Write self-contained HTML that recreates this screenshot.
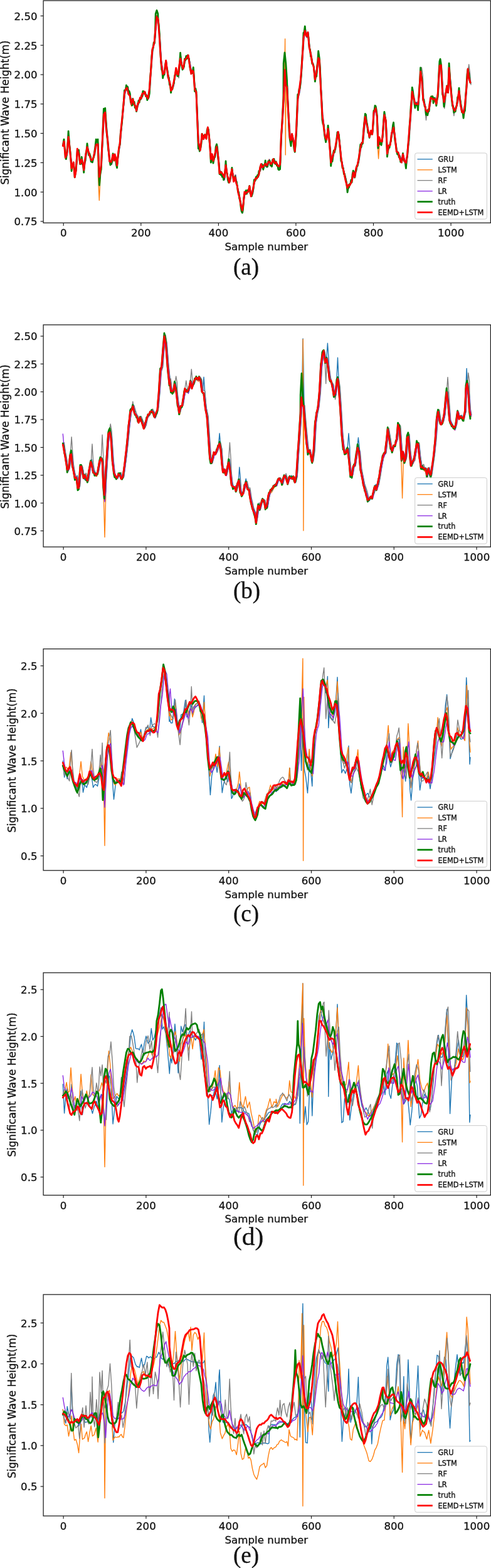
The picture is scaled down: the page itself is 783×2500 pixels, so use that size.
<!DOCTYPE html><html><head><meta charset="utf-8"><style>html,body{margin:0;padding:0;background:#fff}svg{display:block}</style></head><body><svg width="783" height="2500" viewBox="0 0 783 2500">
<rect width="783" height="2500" fill="#fff"/>
<clipPath id="ca"><rect x="69.1" y="1.0" width="713.3" height="354.4"/></clipPath>
<g clip-path="url(#ca)">
<polyline points="100.9,229.8 102.6,228.3 104.9,249.9 107.2,245.9 109.7,216.2 112.4,244.8 114.7,267.8 117.7,259.8 119.8,280.5 121.6,270.3 123.9,238.4 126.2,243.2 128.5,262.4 130.8,251.3 132.5,262.0 134.3,268.0 136.6,251.9 139.6,231.7 142.3,247.8 144.6,251.5 146.9,258.9 149.2,251.0 151.5,242.0 153.8,228.1 156.6,227.6 159.1,283.7 161.9,263.7 163.9,221.4 166.0,180.4 168.3,182.7 169.9,200.9 172.2,226.8 175.2,255.0 178.0,261.1 180.7,247.7 182.6,255.1 183.7,247.2 185.4,253.5 187.2,263.4 189.5,240.4 191.7,228.6 194.0,201.3 196.3,181.0 199.1,150.8 200.9,144.6 203.2,138.8 205.5,147.4 207.8,152.5 210.1,166.4 212.4,160.8 214.7,166.7 216.4,169.0 218.2,176.2 220.5,166.9 222.2,161.7 223.9,158.1 225.7,155.0 227.4,151.3 229.7,147.8 231.4,148.4 233.1,150.0 234.8,152.5 236.6,157.1 238.9,144.3 241.2,110.3 243.5,79.3 245.2,73.2 246.9,67.6 248.7,45.0 250.4,25.7 252.7,32.4 255.0,60.2 257.3,95.5 260.3,118.3 262.6,114.4 265.3,100.4 267.6,114.3 269.5,124.5 271.3,132.6 273.2,141.1 275.0,138.1 276.7,137.9 279.0,124.5 281.3,109.8 283.0,116.7 284.7,122.4 286.5,107.7 288.2,92.4 290.5,105.4 292.8,109.8 295.1,98.3 297.4,92.3 299.1,92.8 300.8,90.8 303.1,100.7 305.4,114.0 307.2,115.1 308.9,111.4 311.2,143.2 313.5,150.5 315.3,191.8 316.9,227.5 319.9,238.0 322.7,214.5 325.0,219.8 327.3,215.3 329.6,218.1 331.9,203.4 334.2,219.2 336.9,252.3 338.8,249.7 340.6,256.9 343.4,249.2 346.1,232.1 348.4,249.7 350.7,275.3 352.8,276.0 354.9,279.0 356.6,280.0 358.3,284.1 360.6,263.3 362.9,281.6 364.6,286.5 366.3,290.1 368.4,280.2 370.5,271.6 373.2,288.7 375.5,279.8 377.2,289.8 379.0,298.1 380.7,307.9 382.4,313.1 384.7,327.1 387.0,339.5 388.8,321.2 390.5,308.3 392.2,308.5 393.9,309.3 396.2,303.7 398.5,298.0 400.8,310.0 403.1,309.7 405.9,291.2 408.0,284.9 410.0,281.3 411.8,277.9 413.5,274.2 415.2,270.0 416.9,263.1 418.7,266.9 420.4,267.3 422.1,261.9 423.8,259.9 426.1,266.1 427.9,260.9 429.6,254.2 431.3,258.6 433.0,263.3 434.8,259.4 436.5,256.0 438.2,257.1 439.9,257.0 441.5,261.1 443.2,263.4 445.5,267.7 447.2,260.8 449.0,216.6 451.3,183.8 453.6,140.9 454.7,111.3 456.3,132.1 458.2,138.7 460.5,183.0 462.8,219.1 464.6,224.6 466.2,214.5 468.5,222.6 470.8,238.4 473.1,208.3 475.4,155.6 477.7,144.8 480.0,128.9 482.3,98.2 484.6,58.4 486.9,47.5 489.2,59.8 491.5,53.7 493.8,75.3 496.1,86.7 498.4,99.6 500.7,108.1 503.0,124.3 505.3,115.6 508.3,91.9 509.9,98.3 512.2,139.7 514.5,183.2 516.8,201.8 519.1,219.3 521.4,219.2 523.7,205.4 526.0,228.7 528.3,258.4 530.6,252.7 532.9,241.8 535.2,235.1 537.5,221.2 539.8,211.3 542.1,227.7 544.4,252.5 546.7,264.0 549.0,274.9 551.3,283.5 553.0,292.9 554.7,300.2 556.5,298.4 558.2,295.4 559.9,291.7 561.6,287.2 563.9,275.0 566.2,280.1 568.5,269.0 570.2,263.7 572.0,259.2 573.7,244.5 575.4,234.4 577.1,229.9 578.9,226.1 581.2,203.7 583.0,184.9 585.1,195.9 587.4,210.1 589.7,216.7 592.0,210.5 594.3,212.2 596.6,182.3 599.6,170.4 601.9,190.0 603.5,229.5 605.3,221.1 607.6,228.8 609.9,226.1 611.7,205.1 613.5,180.5 615.8,193.3 618.1,242.3 620.5,233.3 622.8,227.7 625.1,215.2 628.2,199.5 630.5,221.3 632.9,242.3 635.7,246.3 638.0,250.0 640.8,255.7 643.1,249.3 645.5,255.4 648.0,260.6 650.1,244.8 652.5,220.2 654.8,187.7 657.9,146.3 660.2,155.8 662.5,167.7 664.9,162.7 667.2,169.5 668.8,148.4 671.2,117.5 673.5,129.8 675.4,157.0 677.7,165.1 680.1,177.2 682.4,181.5 684.7,172.8 687.1,158.7 689.4,154.6 691.7,160.5 694.1,155.4 696.4,163.2 698.8,148.8 701.6,101.7 703.9,106.9 706.2,143.2 708.6,164.7 710.9,151.2 713.2,140.9 715.1,143.2 716.7,109.8 718.6,129.2 721.0,159.3 723.3,171.3 725.6,176.7 728.0,168.8 730.3,159.1 732.6,145.7 735.0,165.2 737.3,175.1 739.7,183.7 742.0,170.1 744.3,138.9 746.7,113.3 748.3,122.7 750.6,133.3" fill="none" stroke="#1f77b4" stroke-width="1.4" stroke-linejoin="round" stroke-linecap="round"/>
<polyline points="100.3,232.6 102.0,226.3 104.3,247.7 106.6,247.8 109.1,216.1 111.8,242.3 114.1,267.2 117.1,259.2 119.2,281.9 121.0,270.3 123.3,241.9 125.6,243.1 127.9,262.5 130.2,254.5 131.9,261.6 133.7,270.5 136.0,253.6 139.0,231.7 141.7,247.4 144.0,250.9 146.3,256.8 148.6,249.5 150.9,245.0 153.2,229.0 156.0,229.2 156.5,281.5 158.3,319.5 160.1,281.5 161.3,263.8 163.4,222.1 165.4,182.3 167.7,182.0 169.3,201.4 171.6,226.9 174.6,254.5 177.4,261.9 180.1,249.9 182.0,255.7 183.1,247.0 184.8,256.4 186.6,262.7 188.9,240.3 191.1,226.0 193.4,202.4 195.7,177.6 198.5,150.9 200.3,143.7 202.6,138.0 204.9,146.8 207.2,152.3 209.5,169.3 211.8,160.2 214.1,165.0 215.8,170.4 217.6,174.0 219.9,165.8 221.6,162.2 223.3,158.4 225.1,155.8 226.8,151.8 229.1,144.5 230.8,150.6 232.5,151.2 234.2,153.8 236.0,156.0 238.3,144.0 240.6,111.9 242.9,79.3 244.6,72.6 246.3,65.2 248.1,47.4 249.8,24.1 252.1,32.4 254.4,59.3 256.7,96.0 259.7,119.0 262.0,113.8 264.7,97.2 267.0,115.0 268.9,125.2 270.7,133.8 272.6,141.4 274.4,140.3 276.1,135.2 278.4,123.2 280.7,111.5 282.4,117.6 284.1,121.7 285.9,107.5 287.6,90.8 289.9,105.8 292.2,108.3 294.5,98.4 296.8,92.9 298.5,91.3 300.2,91.6 302.5,101.6 304.8,114.4 306.6,114.8 308.3,113.8 310.6,145.2 312.9,151.0 314.7,189.1 316.3,227.6 319.3,237.3 322.1,215.5 324.4,219.5 326.7,216.8 329.0,218.2 331.3,203.8 333.6,219.1 336.3,254.6 338.2,247.8 340.0,253.8 342.8,247.3 345.5,231.3 347.8,251.9 350.1,272.5 352.2,275.1 354.3,276.8 356.0,281.5 357.7,284.0 360.0,261.5 362.3,281.3 364.0,286.6 365.7,290.9 367.8,278.8 369.9,270.9 372.6,288.7 374.9,278.8 376.6,288.6 378.4,298.9 380.1,306.5 381.8,315.8 384.1,327.2 386.4,337.8 388.1,322.0 389.9,307.0 391.6,307.2 393.3,306.4 395.6,304.0 397.9,297.7 400.2,311.7 402.5,308.5 405.3,288.1 407.4,286.2 409.4,283.2 411.1,277.7 412.9,275.9 414.6,268.5 416.3,265.4 418.1,263.8 419.8,267.2 421.5,265.0 423.2,261.0 425.5,265.7 427.2,261.1 429.0,253.9 430.7,259.2 432.4,265.7 434.1,260.9 435.9,253.4 437.6,256.5 439.2,259.2 440.9,259.2 442.6,263.2 444.9,268.1 446.6,260.0 448.4,217.9 450.7,185.2 453.0,142.5 453.8,118.3 454.6,62.0 455.3,247.0 456.1,133.4 457.6,136.7 459.9,185.1 462.2,218.4 464.0,226.0 465.6,217.2 467.9,224.7 470.2,238.0 472.5,206.6 474.8,157.6 477.1,145.7 479.4,128.3 481.7,97.2 484.0,58.7 486.3,45.9 488.6,58.2 490.9,52.5 493.2,72.6 495.5,87.5 497.8,100.6 500.1,106.8 502.4,124.3 504.7,118.5 507.7,91.2 509.3,96.7 511.6,141.2 513.9,182.2 516.2,201.6 518.5,221.4 520.8,221.8 523.1,208.1 525.4,226.2 527.7,255.9 530.0,251.7 532.3,241.4 534.6,238.4 536.9,222.2 539.2,211.2 541.5,228.0 543.8,253.8 546.1,263.8 548.4,277.6 550.7,286.7 552.4,293.9 554.1,302.5 555.9,298.8 557.6,294.8 559.3,290.2 561.0,286.6 563.3,275.0 565.6,278.9 567.9,270.5 569.6,262.5 571.4,255.8 573.1,245.3 574.8,233.1 576.5,229.7 578.3,224.7 580.6,201.1 582.4,183.8 584.5,195.1 586.8,208.7 589.1,217.2 591.4,208.5 593.7,211.6 596.0,183.0 599.0,173.0 601.3,188.0 601.8,225.9 603.6,253.0 605.4,225.9 607.0,227.7 609.3,223.4 611.1,202.0 612.9,181.4 615.2,193.3 617.5,241.7 619.9,232.1 622.2,230.8 624.5,216.2 627.6,199.6 629.9,221.9 632.3,241.8 635.1,245.4 637.4,248.5 640.2,256.5 642.5,247.3 644.9,256.2 647.4,262.0 649.5,245.3 651.9,220.2 654.2,185.4 657.3,147.9 659.6,155.3 661.9,168.9 664.3,163.1 666.6,167.5 668.2,147.8 670.6,115.3 672.9,129.7 674.8,156.4 677.1,166.9 679.5,176.6 681.8,179.8 684.1,173.4 686.5,159.4 688.8,152.5 691.1,162.8 693.5,156.9 695.8,162.9 698.2,148.7 701.0,103.5 703.3,106.8 705.6,144.3 708.0,163.2 710.3,149.8 712.6,139.0 714.5,144.6 716.1,111.3 718.0,131.1 720.4,160.1 722.7,169.7 725.0,178.9 727.4,171.6 729.7,157.9 732.0,147.3 734.4,166.6 736.7,175.6 739.1,182.7 741.4,169.7 743.7,140.4 746.1,111.7 747.7,122.6 750.0,132.7" fill="none" stroke="#ff7f0e" stroke-width="1.4" stroke-linejoin="round" stroke-linecap="round"/>
<polyline points="101.3,233.4 103.0,230.1 105.3,251.6 107.6,244.7 110.1,218.1 112.8,243.9 115.1,267.3 118.1,258.7 120.2,279.6 122.0,271.6 124.3,239.5 126.6,244.0 128.9,260.5 131.2,251.6 132.9,262.4 134.7,269.2 137.0,253.5 140.0,234.8 142.7,245.9 145.0,249.2 147.3,259.2 149.6,251.5 151.9,244.9 154.2,229.7 157.0,230.2 159.5,285.0 162.3,263.7 164.4,221.8 166.4,182.4 168.7,182.8 170.3,202.0 172.6,224.0 175.6,255.6 178.4,262.4 181.1,249.2 183.0,255.5 184.1,249.4 185.8,254.3 187.6,261.2 189.9,241.1 192.1,229.5 194.4,201.5 196.7,178.1 199.5,148.1 201.3,142.2 203.6,137.4 205.9,147.9 208.2,153.6 210.5,167.6 212.8,160.8 215.1,165.1 216.8,169.7 218.6,176.4 220.9,166.2 222.6,161.5 224.3,157.4 226.1,156.9 227.8,153.1 230.1,147.9 231.8,148.2 233.5,152.4 235.2,156.3 237.0,157.2 239.3,145.0 241.6,109.3 243.9,81.9 245.6,71.5 247.3,66.8 249.1,44.4 250.8,27.2 253.1,33.5 255.4,62.4 257.7,98.4 260.7,122.0 263.0,115.6 265.7,101.5 268.0,116.5 269.9,123.9 271.7,135.9 273.6,142.5 275.4,138.8 277.1,135.4 279.4,123.9 281.7,109.5 283.4,118.5 285.1,124.3 286.9,105.6 288.6,89.6 290.9,106.3 293.2,107.0 295.5,97.3 297.8,93.9 299.5,90.8 301.2,91.0 303.5,103.4 305.8,115.2 307.6,113.6 309.3,114.8 311.6,146.7 313.9,151.6 315.7,192.1 317.3,227.7 320.3,238.1 323.1,218.1 325.4,221.8 327.7,215.4 330.0,218.0 332.3,204.7 334.6,222.4 337.3,253.7 339.2,249.0 341.0,257.1 343.8,247.1 346.5,233.3 348.8,250.4 351.1,274.4 353.2,277.9 355.3,277.6 357.0,284.1 358.7,283.7 361.0,262.9 363.3,281.2 365.0,284.4 366.7,290.5 368.8,280.9 370.9,271.6 373.6,288.9 375.9,278.8 377.6,289.7 379.4,300.7 381.1,305.8 382.8,317.0 385.1,325.6 387.4,339.2 389.1,322.0 390.9,308.3 392.6,308.2 394.3,306.7 396.6,304.8 398.9,299.3 401.2,311.6 403.5,308.7 406.3,290.4 408.4,286.9 410.4,282.4 412.1,281.6 413.9,274.6 415.6,272.3 417.3,266.5 419.1,266.0 420.8,268.4 422.5,264.5 424.2,260.8 426.5,266.3 428.2,260.7 430.0,255.0 431.7,259.4 433.4,266.9 435.1,259.6 436.9,255.2 438.6,257.1 440.2,260.5 441.9,260.8 443.6,262.8 445.9,266.1 447.6,259.3 449.4,217.1 451.7,183.2 454.0,142.0 455.1,112.3 456.7,133.8 458.6,136.7 460.9,184.2 463.2,217.2 465.0,226.1 466.6,216.3 468.9,225.1 471.2,238.5 473.5,208.9 475.8,155.7 478.1,147.4 480.4,129.8 482.7,95.1 485.0,61.7 487.3,46.6 489.6,59.7 491.9,51.8 494.2,75.6 496.5,86.1 498.8,100.4 501.1,108.0 503.4,125.4 505.7,116.8 508.7,89.4 510.3,98.9 512.6,141.4 514.9,182.9 517.2,202.6 519.5,223.0 521.8,219.8 524.1,205.3 526.4,228.6 528.7,256.4 531.0,254.4 533.3,241.8 535.6,238.2 537.9,221.5 540.2,213.2 542.5,229.5 544.8,253.9 547.1,265.3 549.4,275.6 551.7,284.0 553.4,291.8 555.1,303.2 556.9,296.9 558.6,294.5 560.3,290.5 562.0,288.4 564.3,276.5 566.6,282.6 568.9,269.2 570.6,263.1 572.4,258.7 574.1,247.6 575.8,236.9 577.5,229.6 579.3,227.5 581.6,204.9 583.4,186.5 585.5,194.3 587.8,209.2 590.1,217.8 592.4,211.2 594.7,210.0 597.0,181.6 600.0,172.8 602.3,190.1 603.9,230.6 605.7,219.9 608.0,227.7 610.3,223.0 612.1,203.0 613.9,182.5 616.2,195.9 618.5,243.9 620.9,233.8 623.2,228.4 625.5,214.7 628.6,202.3 630.9,222.3 633.3,239.8 636.1,247.3 638.4,250.9 641.2,259.7 643.5,248.4 645.9,255.7 648.4,261.9 650.5,246.4 652.9,222.0 655.2,189.6 658.3,148.4 660.6,154.4 662.9,166.9 665.3,165.6 667.6,168.3 669.2,149.6 670.6,120.2 672.4,107.5 674.2,120.2 675.8,156.6 677.7,174.7 679.5,191.6 681.3,174.7 682.8,181.3 685.1,174.1 687.5,158.4 689.8,153.2 692.1,162.3 694.5,155.2 696.8,164.5 699.2,150.2 702.0,103.5 704.3,104.0 706.6,143.5 706.9,161.4 708.7,173.0 710.5,161.4 711.3,148.5 713.6,141.3 715.5,144.6 717.1,110.8 719.0,132.5 721.4,159.9 722.1,171.7 723.9,184.6 725.7,171.7 726.0,176.8 728.4,170.4 730.7,161.5 733.0,146.7 735.4,165.5 737.7,175.8 740.1,183.0 742.4,172.4 744.7,139.8 745.9,116.7 747.7,102.8 749.5,116.7 751.0,135.0" fill="none" stroke="#808080" stroke-width="1.4" stroke-linejoin="round" stroke-linecap="round"/>
<polyline points="100.9,231.8 102.6,228.8 104.9,248.3 107.2,247.8 109.7,216.1 112.4,244.3 114.7,265.2 117.7,260.7 119.8,279.2 121.6,272.0 123.9,241.0 126.2,244.7 128.5,261.9 130.8,254.2 132.5,262.7 134.3,267.6 136.6,253.0 139.6,234.9 142.3,246.9 144.6,250.4 146.9,256.8 149.2,252.2 151.5,242.2 153.8,229.6 156.6,228.8 156.7,270.7 158.5,295.0 160.3,270.7 161.9,261.5 163.9,221.1 166.0,181.8 168.3,181.1 169.9,203.7 172.2,226.8 175.2,254.5 178.0,262.3 180.7,246.8 182.6,253.7 183.7,248.9 185.4,256.3 187.2,263.2 189.5,243.2 191.7,228.9 194.0,201.5 196.3,180.2 199.1,150.9 200.9,142.2 203.2,137.9 205.5,145.9 207.8,150.4 210.1,167.7 212.4,161.5 214.7,167.2 216.4,168.8 218.2,174.7 220.5,167.3 222.2,163.0 223.9,158.7 225.7,154.2 227.4,152.2 229.7,145.1 231.4,149.4 233.1,152.2 234.8,153.6 236.6,157.4 238.9,142.2 241.2,110.2 243.5,80.5 245.2,72.1 246.9,65.6 248.7,46.3 250.4,25.1 252.7,33.5 255.0,58.9 257.3,96.1 260.3,117.9 262.6,114.7 265.3,98.2 267.6,114.7 269.5,125.1 271.3,131.6 273.2,144.3 275.0,140.4 276.7,137.9 279.0,123.7 281.3,110.6 283.0,115.7 284.7,121.4 286.5,105.3 288.2,90.1 290.5,105.0 292.8,107.4 295.1,98.1 297.4,93.1 299.1,91.9 300.8,89.1 303.1,100.2 305.4,115.1 307.2,114.4 308.9,112.3 311.2,145.3 313.5,150.9 315.3,190.0 316.9,227.2 319.9,237.7 322.7,215.4 325.0,221.5 327.3,215.7 329.6,216.7 331.9,204.5 334.2,219.1 336.9,253.9 338.8,249.5 340.6,255.3 343.4,249.7 346.1,231.2 348.4,250.4 350.7,272.4 352.8,274.3 354.9,279.4 356.6,280.0 358.3,286.7 360.6,262.3 362.9,281.2 364.6,283.5 366.3,291.2 368.4,281.6 370.5,269.9 373.2,286.3 375.5,279.2 377.2,289.7 379.0,297.4 380.7,308.0 382.4,314.9 384.7,327.1 387.0,337.0 388.8,323.5 390.5,307.8 392.2,308.5 393.9,307.7 396.2,305.2 398.5,300.1 400.8,311.5 403.1,307.4 405.9,288.6 408.0,285.0 410.0,281.5 411.8,281.0 413.5,275.1 415.2,271.5 416.9,263.4 418.7,266.0 420.4,265.8 422.1,262.6 423.8,260.7 426.1,267.1 427.9,262.6 429.6,254.3 431.3,259.0 433.0,262.8 434.8,258.8 436.5,256.9 438.2,257.2 439.9,258.6 441.5,259.8 443.2,263.0 445.5,267.4 447.2,258.6 449.0,216.8 451.3,182.7 453.6,143.6 454.7,111.1 456.3,132.3 458.2,136.9 460.5,183.2 462.8,219.0 464.6,226.2 466.2,215.2 468.5,222.4 470.8,238.2 473.1,208.5 475.4,156.5 477.7,146.4 480.0,127.8 482.3,97.1 484.6,60.0 486.9,48.7 489.2,59.3 491.5,51.9 493.8,74.7 496.1,89.0 498.4,98.9 500.7,107.4 503.0,122.6 505.3,117.0 508.3,92.3 509.9,96.1 512.2,140.0 514.5,184.1 516.8,199.1 519.1,219.3 521.4,220.8 523.7,208.6 526.0,228.9 528.3,256.8 530.6,253.9 532.9,242.6 535.2,237.1 537.5,220.2 539.8,210.4 542.1,228.3 544.4,253.6 546.7,263.4 549.0,274.6 551.3,283.7 553.0,294.3 554.7,302.5 556.5,297.8 558.2,294.7 559.9,291.6 561.6,286.2 563.9,276.0 566.2,280.3 568.5,270.3 570.2,262.0 572.0,258.7 573.7,244.7 575.4,234.9 577.1,231.3 578.9,223.8 581.2,202.2 583.0,182.1 585.1,195.4 587.4,209.1 589.7,217.8 592.0,209.1 594.3,213.0 596.6,182.4 599.6,172.5 601.9,188.0 603.5,228.4 605.3,221.2 607.6,226.2 609.9,224.9 611.7,202.2 613.5,182.7 615.8,195.0 618.1,244.7 620.5,232.6 622.8,227.8 625.1,214.7 628.2,202.7 630.5,221.1 632.9,240.6 635.7,245.0 638.0,248.5 640.8,257.2 643.1,247.0 645.5,254.6 648.0,262.6 650.1,246.0 652.5,218.8 654.8,187.5 657.9,147.3 660.2,155.2 662.5,166.5 664.9,162.8 667.2,168.9 668.8,149.8 671.2,116.8 673.5,131.0 675.4,157.0 677.7,166.7 680.1,178.8 682.4,180.9 684.7,174.4 687.1,159.2 689.4,153.0 691.7,160.8 694.1,157.9 696.4,164.6 698.8,150.0 701.6,101.5 703.9,104.0 706.2,145.5 708.6,163.3 710.9,148.5 713.2,141.9 715.1,143.9 716.7,111.3 718.6,131.3 721.0,160.5 723.3,171.6 725.6,176.5 728.0,169.6 730.3,160.2 732.6,147.0 735.0,165.9 737.3,176.2 739.7,182.7 742.0,171.4 744.3,140.3 746.7,111.4 748.3,122.3 750.6,131.9" fill="none" stroke="#8a2be2" stroke-width="1.4" stroke-linejoin="round" stroke-linecap="round"/>
<polyline points="100.3,232.0 102.0,222.1 103.2,235.9 104.3,251.0 105.4,253.6 106.6,244.1 107.8,232.1 109.1,209.1 110.4,228.4 111.8,241.0 112.9,253.1 114.1,272.7 115.1,263.2 116.1,263.7 117.1,261.3 118.2,268.3 119.2,282.8 121.0,271.3 122.2,256.9 123.3,239.7 124.4,242.4 125.6,239.1 126.8,254.1 127.9,261.7 129.1,259.2 130.2,250.2 131.4,262.0 132.5,263.2 133.7,275.0 134.8,259.0 136.0,256.4 137.0,244.3 138.0,239.9 139.0,229.0 140.3,239.6 141.7,247.4 142.8,244.9 144.0,249.2 145.2,257.9 146.3,258.0 147.4,258.7 148.6,252.9 149.8,249.3 150.9,240.9 152.1,232.0 153.2,222.2 154.6,226.0 156.0,222.1 157.2,261.4 158.5,295.3 159.9,277.1 161.3,270.2 162.3,241.9 163.4,223.3 164.4,196.3 165.4,173.3 166.6,178.6 167.7,172.4 169.3,197.3 170.4,214.7 171.6,224.4 172.6,238.5 173.6,243.6 174.6,254.2 176.0,263.0 177.4,260.9 178.8,257.3 180.1,244.9 182.0,251.6 183.1,249.7 184.3,251.8 185.4,262.5 186.6,267.6 187.8,250.7 188.9,245.6 190.0,233.6 191.1,230.9 192.2,212.6 193.4,204.7 194.6,193.8 195.7,177.9 197.1,164.6 198.5,143.9 200.3,143.5 201.4,136.0 202.6,138.3 203.8,138.8 204.9,149.9 206.1,145.3 207.2,148.9 208.3,162.2 209.5,166.1 210.7,168.0 211.8,157.3 212.9,166.0 214.1,162.4 215.3,171.7 216.4,169.9 217.6,177.7 218.8,168.7 219.9,167.4 221.0,160.4 222.2,163.2 223.3,157.2 224.5,158.2 225.6,152.2 226.8,153.7 227.9,145.3 229.1,146.6 230.2,148.2 231.4,147.6 232.5,153.4 233.7,152.2 234.8,159.6 236.0,157.0 237.2,155.3 238.3,149.0 239.4,124.5 240.6,112.2 241.8,90.6 242.9,80.5 244.0,76.8 245.2,67.6 246.3,69.2 247.5,49.6 248.2,22.0 250.0,16.5 251.8,22.0 252.1,30.9 253.2,39.2 254.4,55.6 255.6,82.7 256.7,97.1 257.7,110.9 258.7,113.2 259.7,124.6 260.9,117.0 262.0,119.1 263.4,104.5 264.7,97.5 265.9,108.0 267.0,112.1 268.1,123.9 269.2,123.6 270.4,135.3 271.5,135.3 272.6,147.9 273.8,139.9 274.9,142.3 276.1,135.9 277.2,133.7 278.4,121.7 279.6,117.9 280.7,111.8 281.8,112.6 283.0,121.4 284.1,121.1 285.3,114.4 286.4,102.0 287.6,84.1 288.8,98.7 289.9,104.8 291.0,111.1 292.2,107.9 293.4,106.7 294.5,93.9 295.6,96.1 296.8,89.4 297.9,93.7 299.1,88.1 300.2,92.4 301.4,93.8 302.5,104.6 303.6,111.5 304.8,112.4 306.0,116.7 307.1,114.9 308.3,107.3 309.5,124.7 310.6,145.6 311.8,141.1 312.9,145.9 314.7,190.7 316.3,237.0 317.3,232.9 318.3,241.0 319.3,238.3 320.7,231.1 322.1,213.3 323.2,219.0 324.4,218.1 325.5,215.7 326.7,217.9 327.9,215.7 329.0,221.0 330.1,207.9 331.3,203.9 332.5,206.8 333.6,220.2 335.0,236.2 336.3,259.2 338.2,247.1 340.0,260.2 341.4,252.2 342.8,249.8 344.1,234.5 345.5,229.9 346.6,234.9 347.8,252.6 349.0,259.8 350.1,277.6 351.2,273.7 352.2,279.0 353.2,274.3 354.3,282.1 355.4,278.0 356.6,286.8 357.7,283.5 358.9,274.1 360.0,257.0 361.1,273.0 362.3,277.4 363.4,286.8 364.6,291.1 365.7,289.5 366.8,287.5 367.8,278.0 368.8,278.1 369.9,267.3 371.2,280.2 372.6,286.3 373.8,284.8 374.9,281.1 376.1,288.6 377.2,289.7 378.4,297.1 379.5,306.1 380.7,306.5 381.8,316.8 382.9,319.7 384.1,330.3 385.2,336.9 386.4,339.3 387.6,332.8 388.7,316.3 389.9,309.2 391.0,309.6 392.2,303.6 393.3,309.2 394.5,303.3 395.6,305.5 396.8,302.7 397.9,296.3 399.0,308.4 400.2,308.4 401.4,312.8 402.5,307.8 403.9,301.1 405.3,286.7 406.3,288.3 407.4,287.3 408.4,282.0 409.4,284.3 410.6,279.3 411.7,282.0 412.9,272.7 414.0,273.0 415.2,265.2 416.3,265.5 417.5,261.6 418.6,263.9 419.8,270.3 420.9,262.9 422.1,263.2 423.2,255.9 424.4,264.9 425.5,265.9 426.7,265.4 427.8,256.8 429.0,257.1 430.1,256.1 431.3,263.8 432.4,263.2 433.6,265.0 434.7,254.6 435.9,257.5 437.0,253.4 438.1,259.9 439.2,261.4 440.4,257.9 441.5,264.0 442.6,262.9 443.8,270.1 444.9,270.9 446.6,269.8 448.4,218.4 449.5,202.8 450.7,179.4 451.9,157.1 452.2,100.8 454.0,84.0 455.8,100.8 457.6,128.6 458.8,161.2 459.9,182.2 461.0,208.1 462.2,221.5 464.0,232.9 465.6,214.5 466.8,223.2 467.9,226.8 469.0,237.4 470.2,242.3 471.4,229.0 472.5,211.1 473.6,178.7 474.8,150.6 476.0,150.2 477.1,141.7 478.2,140.8 479.4,128.7 480.5,117.8 481.7,93.2 482.9,78.4 484.0,52.4 485.1,50.9 486.3,41.8 487.5,55.0 488.6,56.2 489.8,58.1 490.9,53.2 492.0,59.8 493.2,75.9 494.4,79.0 495.5,89.9 496.6,91.6 497.8,101.6 499.0,101.5 500.1,105.2 501.2,114.9 502.4,130.0 503.5,121.2 504.7,121.7 505.7,105.6 506.7,97.4 507.7,81.5 509.3,93.0 510.5,111.0 511.6,142.2 512.8,160.1 513.9,191.0 515.0,197.6 516.2,199.0 517.4,214.6 518.5,220.4 519.6,226.5 520.8,219.5 522.0,214.4 523.1,200.1 524.2,211.0 525.4,228.7 526.5,241.1 527.7,264.7 528.9,255.0 530.0,257.3 531.1,245.6 532.3,240.1 533.5,242.7 534.6,236.1 535.8,231.6 536.9,221.9 538.0,211.0 539.2,210.9 540.4,214.7 541.5,229.4 542.6,238.8 543.8,256.7 545.0,258.1 546.1,267.9 547.2,267.7 548.4,277.6 549.5,277.4 550.7,283.5 551.8,288.3 553.0,295.3 554.1,306.5 555.3,298.8 556.4,299.0 557.6,293.4 558.7,293.8 559.9,286.8 561.0,290.9 562.1,277.7 563.3,272.1 564.5,276.9 565.6,283.0 566.8,273.4 567.9,272.4 569.1,264.3 570.2,264.5 571.4,256.7 572.5,252.1 573.7,239.4 574.8,230.3 576.0,234.9 577.1,227.4 578.3,229.2 579.5,210.7 580.6,198.5 582.4,181.4 583.5,182.9 584.5,195.3 585.6,198.5 586.8,211.5 588.0,212.4 589.1,219.5 590.2,212.7 591.4,214.1 592.5,210.0 593.7,212.9 594.9,200.2 596.0,176.3 597.0,176.2 598.0,168.4 599.0,168.9 600.1,174.6 601.3,183.8 602.9,236.4 604.7,219.8 605.9,229.7 607.0,228.9 608.1,231.3 609.3,223.5 610.5,213.2 611.7,191.9 612.9,178.3 614.0,186.3 615.2,192.0 616.4,222.4 617.5,249.9 618.7,240.2 619.9,232.6 621.0,235.5 622.2,227.9 623.4,224.9 624.5,212.4 625.5,209.9 626.6,199.3 627.6,195.3 628.8,212.6 629.9,224.2 631.1,230.2 632.3,238.8 633.7,246.0 635.1,244.4 636.2,250.5 637.4,249.1 638.8,258.2 640.2,256.9 641.4,255.2 642.5,244.4 643.7,253.5 644.9,257.1 646.1,258.3 647.4,268.4 648.5,254.3 649.5,249.4 650.7,232.3 651.9,223.8 653.0,202.1 654.2,187.0 655.2,169.4 656.3,158.9 657.3,139.4 658.5,145.3 659.6,155.4 660.8,164.8 661.9,172.0 663.1,164.1 664.3,167.8 665.5,166.2 666.6,175.6 668.2,147.0 669.4,131.6 670.6,108.0 671.8,120.4 672.9,125.7 674.8,159.7 676.0,158.9 677.1,169.3 678.3,170.3 679.5,183.1 680.6,178.4 681.8,183.7 683.0,174.4 684.1,177.4 685.3,164.1 686.5,160.7 687.6,154.0 688.8,156.0 690.0,153.7 691.1,164.4 692.3,156.2 693.5,159.8 694.6,158.5 695.8,168.6 697.0,158.4 698.2,154.5 699.6,120.8 701.0,97.6 702.1,94.2 703.3,102.3 704.5,121.2 705.6,150.2 706.8,154.4 708.0,170.0 709.1,158.1 710.3,149.4 711.5,147.1 712.6,136.9 714.5,147.5 716.1,100.9 718.0,130.3 719.2,141.0 720.4,158.4 721.5,168.9 722.7,169.5 723.9,179.3 725.0,176.9 726.2,177.8 727.4,169.9 728.5,168.2 729.7,154.9 730.9,154.4 732.0,140.4 733.2,156.1 734.4,162.4 735.5,172.6 736.7,179.2 737.9,178.4 739.1,188.3 740.2,178.5 741.4,176.7 742.5,152.7 743.7,140.7 744.9,118.9 746.1,110.1 747.7,117.2 748.9,128.4 750.0,131.8" fill="none" stroke="#008000" stroke-width="2.8" stroke-linejoin="round" stroke-linecap="round"/>
<polyline points="100.3,232.6 102.0,225.3 104.3,251.4 106.6,245.0 109.1,218.2 111.8,242.7 114.1,268.5 117.1,258.6 119.2,282.7 121.0,273.4 123.3,237.2 125.6,246.4 127.9,260.9 130.2,254.4 131.9,259.7 133.7,271.2 136.0,250.8 139.0,234.3 141.7,243.7 144.0,252.2 146.3,255.6 148.6,253.2 150.9,242.3 153.2,230.7 156.0,230.0 158.5,282.1 161.3,263.9 163.4,220.6 165.4,182.6 167.7,179.1 169.3,205.0 171.6,222.9 174.6,257.3 177.4,258.2 180.1,246.4 182.0,256.2 183.1,246.0 184.8,252.6 186.6,263.8 188.9,240.5 191.1,228.9 193.4,201.3 195.7,180.5 198.5,147.7 200.3,142.6 202.6,140.0 204.9,149.7 207.2,153.2 209.5,166.1 211.8,158.0 214.1,166.8 215.8,168.7 217.6,176.8 219.9,164.6 221.6,163.7 223.3,155.7 225.1,157.1 226.8,149.4 229.1,148.8 230.8,146.1 232.5,153.4 234.2,152.9 236.0,157.3 238.3,141.2 240.6,111.9 242.9,78.4 244.6,74.1 246.3,65.7 248.1,43.8 249.8,26.7 252.1,30.5 254.4,62.5 256.7,98.5 259.7,118.4 262.0,116.5 264.7,96.3 267.0,115.8 268.9,126.1 270.7,131.3 272.6,144.5 274.4,142.4 276.1,135.4 278.4,124.8 280.7,108.3 282.4,117.6 284.1,119.2 285.9,103.6 287.6,93.4 289.9,104.3 292.2,109.6 294.5,95.6 296.8,93.4 300.2,87.9 302.5,104.0 304.8,117.8 306.6,112.4 308.3,113.9 310.6,142.6 312.9,146.7 314.7,193.1 316.3,226.5 319.3,239.6 322.1,213.6 324.4,222.0 326.7,214.5 329.0,221.3 331.3,202.9 333.6,218.3 336.3,254.1 338.2,245.5 340.0,256.4 342.8,245.3 345.5,233.8 347.8,249.4 350.1,276.5 352.2,273.9 354.3,276.4 357.7,282.5 360.0,263.5 362.3,279.1 365.7,291.1 367.8,279.3 369.9,269.7 372.6,289.5 374.9,282.3 376.6,291.7 378.4,296.9 380.1,308.7 381.8,314.0 384.1,327.7 386.4,335.5 388.1,324.5 389.9,305.9 391.6,309.1 393.3,306.6 395.6,305.9 397.9,296.8 400.2,313.1 402.5,305.8 405.3,291.7 407.4,284.4 409.4,284.7 411.1,281.7 412.9,278.8 414.6,268.1 416.3,261.7 418.1,266.7 419.8,265.6 423.2,260.9 425.5,264.2 427.2,259.7 429.0,257.5 432.4,261.6 434.1,258.4 435.9,253.5 438.1,260.5 440.4,258.6 442.6,264.1 444.9,265.4 446.6,262.2 448.4,216.3 450.7,184.8 453.0,140.3 454.1,111.3 455.7,135.9 457.6,139.0 459.9,182.9 462.2,219.9 464.0,223.5 465.6,213.5 467.9,224.2 470.2,241.2 472.5,205.8 474.8,158.6 477.1,143.7 479.4,126.5 481.7,97.7 484.0,60.8 486.3,49.0 488.6,57.7 490.9,51.4 493.2,75.6 495.5,86.3 497.8,99.9 500.1,106.4 502.4,126.6 504.7,115.2 507.7,92.4 509.3,95.2 511.6,142.6 513.9,182.6 516.2,202.9 518.5,218.1 520.8,222.6 523.1,205.2 525.4,229.9 527.7,259.1 530.0,250.5 532.3,243.1 534.6,235.8 536.9,221.7 539.2,210.1 541.5,228.7 543.8,250.2 546.1,265.9 548.4,274.4 550.7,286.3 554.1,299.6 555.9,294.8 557.6,295.7 561.0,289.0 563.3,275.0 565.6,282.4 567.9,267.7 569.6,264.2 571.4,256.4 574.8,235.5 576.5,228.4 578.3,227.4 580.6,199.8 582.4,186.3 584.5,197.1 586.8,206.2 589.1,218.5 591.4,208.2 593.7,214.3 596.0,179.2 599.0,172.5 601.3,186.5 602.9,232.5 604.7,218.6 607.0,225.3 609.3,225.8 611.1,202.2 612.9,183.4 615.2,191.9 617.5,245.2 619.9,231.8 622.2,231.6 624.5,213.0 627.6,203.3 629.9,219.6 632.3,241.8 635.1,243.0 637.4,252.6 640.2,259.0 642.5,245.8 644.9,257.2 647.4,259.5 649.5,246.6 651.9,217.2 654.2,189.1 657.3,146.2 659.6,156.5 661.9,166.0 664.3,165.6 666.6,166.4 668.2,152.4 670.6,113.8 672.9,130.0 674.8,159.2 677.1,167.7 679.5,176.3 681.8,178.6 684.1,174.1 686.5,156.0 688.8,156.8 691.1,158.5 693.5,158.0 695.8,165.5 698.2,148.7 701.0,104.6 703.3,104.0 705.6,146.5 708.0,162.7 710.3,152.3 712.6,137.4 714.5,147.7 716.1,108.1 718.0,133.9 720.4,157.2 722.7,172.1 725.0,176.5 727.4,172.1 729.7,160.3 732.0,145.2 734.4,167.6 736.7,178.1 739.1,180.1 741.4,167.7 743.7,142.6 746.1,109.8 747.7,124.0 750.0,131.7" fill="none" stroke="#ff0000" stroke-width="2.8" stroke-linejoin="round" stroke-linecap="round"/>
</g>
<rect x="69.1" y="1.0" width="713.3" height="354.4" fill="none" stroke="#222" stroke-width="1.3"/>
<line x1="64.6" y1="25.4" x2="69.1" y2="25.4" stroke="#222" stroke-width="1.2"/>
<text x="59.49999999999999" y="31.8" text-anchor="end" font-family="DejaVu Sans, Liberation Sans, sans-serif" font-size="16.6" fill="#111" stroke="#111" stroke-width="0.3">2.50</text>
<line x1="64.6" y1="72.2" x2="69.1" y2="72.2" stroke="#222" stroke-width="1.2"/>
<text x="59.49999999999999" y="78.6" text-anchor="end" font-family="DejaVu Sans, Liberation Sans, sans-serif" font-size="16.6" fill="#111" stroke="#111" stroke-width="0.3">2.25</text>
<line x1="64.6" y1="119.0" x2="69.1" y2="119.0" stroke="#222" stroke-width="1.2"/>
<text x="59.49999999999999" y="125.4" text-anchor="end" font-family="DejaVu Sans, Liberation Sans, sans-serif" font-size="16.6" fill="#111" stroke="#111" stroke-width="0.3">2.00</text>
<line x1="64.6" y1="165.8" x2="69.1" y2="165.8" stroke="#222" stroke-width="1.2"/>
<text x="59.49999999999999" y="172.2" text-anchor="end" font-family="DejaVu Sans, Liberation Sans, sans-serif" font-size="16.6" fill="#111" stroke="#111" stroke-width="0.3">1.75</text>
<line x1="64.6" y1="212.6" x2="69.1" y2="212.6" stroke="#222" stroke-width="1.2"/>
<text x="59.49999999999999" y="219.0" text-anchor="end" font-family="DejaVu Sans, Liberation Sans, sans-serif" font-size="16.6" fill="#111" stroke="#111" stroke-width="0.3">1.50</text>
<line x1="64.6" y1="259.4" x2="69.1" y2="259.4" stroke="#222" stroke-width="1.2"/>
<text x="59.49999999999999" y="265.8" text-anchor="end" font-family="DejaVu Sans, Liberation Sans, sans-serif" font-size="16.6" fill="#111" stroke="#111" stroke-width="0.3">1.25</text>
<line x1="64.6" y1="306.2" x2="69.1" y2="306.2" stroke="#222" stroke-width="1.2"/>
<text x="59.49999999999999" y="312.6" text-anchor="end" font-family="DejaVu Sans, Liberation Sans, sans-serif" font-size="16.6" fill="#111" stroke="#111" stroke-width="0.3">1.00</text>
<line x1="64.6" y1="353.0" x2="69.1" y2="353.0" stroke="#222" stroke-width="1.2"/>
<text x="59.49999999999999" y="359.4" text-anchor="end" font-family="DejaVu Sans, Liberation Sans, sans-serif" font-size="16.6" fill="#111" stroke="#111" stroke-width="0.3">0.75</text>
<line x1="101.2" y1="355.4" x2="101.2" y2="359.9" stroke="#222" stroke-width="1.2"/>
<text x="101.2" y="377.4" text-anchor="middle" font-family="DejaVu Sans, Liberation Sans, sans-serif" font-size="16.6" fill="#111" stroke="#111" stroke-width="0.3">0</text>
<line x1="224.8" y1="355.4" x2="224.8" y2="359.9" stroke="#222" stroke-width="1.2"/>
<text x="224.8" y="377.4" text-anchor="middle" font-family="DejaVu Sans, Liberation Sans, sans-serif" font-size="16.6" fill="#111" stroke="#111" stroke-width="0.3">200</text>
<line x1="348.4" y1="355.4" x2="348.4" y2="359.9" stroke="#222" stroke-width="1.2"/>
<text x="348.4" y="377.4" text-anchor="middle" font-family="DejaVu Sans, Liberation Sans, sans-serif" font-size="16.6" fill="#111" stroke="#111" stroke-width="0.3">400</text>
<line x1="471.9" y1="355.4" x2="471.9" y2="359.9" stroke="#222" stroke-width="1.2"/>
<text x="471.9" y="377.4" text-anchor="middle" font-family="DejaVu Sans, Liberation Sans, sans-serif" font-size="16.6" fill="#111" stroke="#111" stroke-width="0.3">600</text>
<line x1="595.5" y1="355.4" x2="595.5" y2="359.9" stroke="#222" stroke-width="1.2"/>
<text x="595.5" y="377.4" text-anchor="middle" font-family="DejaVu Sans, Liberation Sans, sans-serif" font-size="16.6" fill="#111" stroke="#111" stroke-width="0.3">800</text>
<line x1="719.1" y1="355.4" x2="719.1" y2="359.9" stroke="#222" stroke-width="1.2"/>
<text x="719.1" y="377.4" text-anchor="middle" font-family="DejaVu Sans, Liberation Sans, sans-serif" font-size="16.6" fill="#111" stroke="#111" stroke-width="0.3">1000</text>
<text x="358.5" y="399.1" font-family="DejaVu Sans, Liberation Sans, sans-serif" font-size="16.65" fill="#111" stroke="#111" stroke-width="0.3">Sample number</text>
<text transform="translate(13.9,179.5) rotate(-90)" text-anchor="middle" font-family="DejaVu Sans, Liberation Sans, sans-serif" font-size="16.8" fill="#111" stroke="#111" stroke-width="0.3">Significant Wave Height(m)</text>
<rect x="661.7" y="244.0" width="114.7" height="105.3" rx="3" fill="#fff" fill-opacity="0.8" stroke="#ccc" stroke-width="1"/>
<line x1="665.5" y1="253.8" x2="689.8" y2="253.8" stroke="#1f77b4" stroke-width="1.3"/>
<text x="698.5" y="257.9" font-family="DejaVu Sans, Liberation Sans, sans-serif" font-size="11.4" fill="#111" stroke="#111" stroke-width="0.3">GRU</text>
<line x1="665.5" y1="270.8" x2="689.8" y2="270.8" stroke="#ff7f0e" stroke-width="1.3"/>
<text x="698.5" y="274.9" font-family="DejaVu Sans, Liberation Sans, sans-serif" font-size="11.4" fill="#111" stroke="#111" stroke-width="0.3">LSTM</text>
<line x1="665.5" y1="287.7" x2="689.8" y2="287.7" stroke="#808080" stroke-width="1.3"/>
<text x="698.5" y="291.8" font-family="DejaVu Sans, Liberation Sans, sans-serif" font-size="11.4" fill="#111" stroke="#111" stroke-width="0.3">RF</text>
<line x1="665.5" y1="304.7" x2="689.8" y2="304.7" stroke="#8a2be2" stroke-width="1.3"/>
<text x="698.5" y="308.8" font-family="DejaVu Sans, Liberation Sans, sans-serif" font-size="11.4" fill="#111" stroke="#111" stroke-width="0.3">LR</text>
<line x1="665.5" y1="321.6" x2="689.8" y2="321.6" stroke="#008000" stroke-width="2.7"/>
<text x="698.5" y="325.7" font-family="DejaVu Sans, Liberation Sans, sans-serif" font-size="11.4" fill="#111" stroke="#111" stroke-width="0.3">truth</text>
<line x1="665.5" y1="338.6" x2="689.8" y2="338.6" stroke="#ff0000" stroke-width="2.7"/>
<text x="698.5" y="342.7" font-family="DejaVu Sans, Liberation Sans, sans-serif" font-size="11.4" fill="#111" stroke="#111" stroke-width="0.3">EEMD+LSTM</text>
<text transform="translate(372,437.5) scale(1,1)" font-family="Liberation Serif, serif" font-size="37" fill="#111" stroke="#111" stroke-width="0.3">(a)</text>
<clipPath id="cb"><rect x="69.1" y="517.9" width="713.3" height="354.1"/></clipPath>
<g clip-path="url(#cb)">
<polyline points="101.9,707.1 104.2,721.4 106.5,734.8 108.8,748.5 111.1,746.4 113.4,726.2 115.0,720.6 116.9,741.9 119.2,754.0 121.0,764.0 123.3,758.1 125.6,777.6 127.2,774.2 129.5,745.7 131.1,742.8 133.0,750.9 134.8,765.0 136.7,758.0 138.7,763.3 141.0,765.4 143.3,749.2 146.3,732.4 147.9,741.9 150.2,748.7 152.5,754.0 154.8,754.3 157.1,750.9 160.1,734.7 162.9,730.0 164.7,736.7 166.3,771.8 167.9,788.5 169.8,757.9 172.1,721.9 174.4,691.0 176.7,686.6 178.5,700.7 180.8,735.2 183.1,755.1 185.9,761.3 188.2,759.2 190.5,754.2 192.7,754.5 195.0,760.3 197.3,761.6 199.6,743.6 201.9,727.5 204.2,704.4 206.5,682.1 209.3,658.5 211.6,649.5 213.4,646.0 215.7,658.8 218.0,661.1 220.3,668.4 222.6,672.3 224.9,663.7 227.2,671.2 228.9,677.7 230.7,680.8 233.0,673.0 235.3,665.0 237.6,663.7 239.3,660.3 241.0,654.7 243.3,653.1 245.6,655.8 247.9,661.3 250.2,660.5 252.5,650.4 254.8,624.8 257.1,589.8 259.4,581.6 261.7,554.5 263.6,534.1 265.9,547.1 268.6,581.2 271.6,610.4 271.9,604.7 274.2,621.0 276.5,626.9 278.2,623.8 280.0,609.8 282.3,624.2 284.6,641.4 287.3,656.2 289.6,649.3 291.9,645.9 294.2,629.3 296.5,622.4 298.4,620.7 300.7,623.2 303.0,619.0 305.3,607.6 307.6,616.5 309.9,608.6 312.2,601.8 314.5,602.0 316.8,602.6 319.1,602.1 321.4,605.5 323.2,626.6 325.0,601.2 326.8,626.6 328.7,647.4 331.7,666.3 334.0,700.0 336.3,728.7 338.6,735.4 340.9,730.1 342.5,722.8 344.8,722.1 347.1,714.9 348.3,712.1 350.1,690.9 351.9,712.1 353.6,714.9 355.4,741.8 357.0,753.0 359.3,749.2 361.6,755.2 363.9,744.3 366.2,732.5 368.5,753.4 370.8,770.3 373.1,777.4 375.4,775.0 377.7,782.6 380.0,765.6 380.0,772.2 381.8,744.9 383.6,765.6 384.6,781.5 386.9,788.9 389.2,783.3 390.4,771.7 392.2,763.3 394.0,771.7 396.1,780.4 398.4,781.5 400.7,793.6 403.0,808.4 405.3,811.6 407.6,817.4 409.9,830.2 411.5,817.3 413.3,801.6 415.6,809.1 417.9,800.9 420.2,797.4 422.5,797.4 424.8,807.8 427.1,808.2 429.4,792.6 431.7,784.0 434.0,781.9 436.3,776.7 438.6,772.1 441.6,769.3 441.9,769.2 444.2,766.9 446.5,763.5 448.8,767.2 451.1,766.9 453.4,760.9 455.7,757.8 458.0,763.7 460.3,768.5 462.6,762.8 464.9,758.0 467.2,761.5 469.5,761.4 471.8,769.2 474.1,759.1 476.4,722.2 478.7,690.4 480.6,663.5 481.3,640.4 483.1,540.0 484.9,640.4 485.6,649.6 487.9,677.0 490.2,702.3 492.5,722.6 494.8,718.4 497.1,726.1 499.4,735.5 501.7,715.9 504.0,675.5 506.3,659.6 508.6,645.3 510.9,625.2 513.2,585.8 515.5,566.8 517.8,560.2 520.1,575.7 520.6,572.9 522.4,547.2 524.2,572.9 524.7,585.9 527.0,603.6 529.3,609.1 531.6,613.1 533.9,630.4 536.2,624.4 536.7,609.0 538.5,570.2 540.3,609.0 541.9,618.5 544.2,653.1 546.5,691.2 548.8,712.5 551.1,723.3 553.4,719.8 554.2,714.3 556.0,690.9 557.8,714.3 558.0,731.6 560.3,756.5 562.6,756.4 564.9,740.1 567.2,741.6 569.5,726.5 569.6,714.2 571.4,697.8 573.2,714.2 574.1,723.1 576.4,747.8 578.7,758.8 581.0,770.1 583.3,780.5 585.6,789.4 587.9,799.2 590.2,796.7 592.5,791.8 594.8,792.8 597.1,782.2 599.4,772.1 601.7,778.6 604.0,771.2 606.3,759.7 608.6,745.2 611.6,730.3 613.3,723.3 615.6,718.2 618.0,700.9 619.8,683.6 622.2,697.3 624.5,712.4 626.8,718.2 629.2,710.5 631.5,707.2 633.9,700.6 636.2,680.3 638.5,682.3 640.2,703.6 641.8,729.1 644.1,721.8 646.5,731.5 648.3,730.3 650.7,699.2 652.5,693.1 654.4,719.0 656.8,738.4 659.1,734.3 661.4,731.3 663.8,717.4 666.1,707.5 668.2,706.8 670.5,727.3 672.9,743.2 675.2,743.9 677.6,747.6 679.9,746.3 682.2,758.0 684.6,747.2 686.9,757.3 688.5,758.2 690.4,741.6 693.2,724.4 695.5,699.5 697.9,665.9 700.2,654.3 702.6,671.9 704.9,673.8 707.2,669.6 709.6,660.6 711.9,641.4 713.8,624.1 716.1,643.3 718.4,669.7 720.8,674.9 723.1,679.3 725.9,684.6 728.3,673.4 731.3,659.0 733.6,667.3 736.0,661.9 738.3,665.9 740.7,666.8 742.4,628.2 744.2,587.4 746.0,628.2 746.5,610.4 748.4,628.4 750.0,653.6 751.6,663.7" fill="none" stroke="#1f77b4" stroke-width="1.4" stroke-linejoin="round" stroke-linecap="round"/>
<polyline points="101.3,709.2 103.6,723.9 105.9,735.4 108.2,749.0 110.5,746.1 112.8,727.1 114.4,723.1 116.3,745.3 118.6,756.2 120.4,765.0 122.7,762.5 125.0,781.4 126.6,776.6 128.9,745.8 130.5,742.2 132.4,757.2 134.2,762.4 136.1,759.1 138.1,762.5 140.4,767.7 142.7,752.2 145.7,736.4 147.3,745.4 149.6,750.7 151.9,755.5 154.2,759.6 156.5,755.3 159.5,734.9 162.3,734.6 164.1,739.0 165.2,786.1 167.0,856.4 168.8,786.1 169.2,758.1 171.5,722.2 173.8,693.8 176.1,688.2 177.9,701.0 180.2,732.4 182.5,753.7 185.3,763.7 187.6,761.7 189.9,757.2 192.1,758.1 194.4,764.4 196.7,761.6 199.0,743.8 201.3,728.8 203.6,709.2 205.9,684.0 208.7,659.5 211.0,653.4 212.8,648.8 215.1,659.6 217.4,664.1 219.7,666.0 222.0,673.5 224.3,667.2 226.6,672.6 228.3,679.7 230.1,684.0 232.4,674.8 234.7,669.4 237.0,663.0 238.7,661.1 240.4,657.4 242.7,656.1 245.0,659.4 247.3,666.9 249.6,659.1 251.9,654.3 254.2,625.0 256.5,593.0 258.8,583.0 261.1,554.2 263.0,537.3 265.3,549.1 268.0,583.0 271.0,612.6 271.3,606.8 273.6,623.2 275.9,626.4 277.6,626.4 279.4,612.7 281.7,626.4 284.0,643.3 286.7,660.7 289.0,648.8 291.3,645.7 293.6,634.6 295.9,623.9 297.8,621.8 300.1,625.4 302.4,620.9 304.7,609.7 307.0,618.4 309.3,610.4 311.6,603.7 313.9,604.2 316.2,608.2 318.5,606.0 320.8,608.2 323.1,624.2 325.8,627.9 328.1,650.9 331.1,669.5 333.4,700.8 335.7,731.0 338.0,739.3 340.3,729.9 341.9,723.7 344.2,724.3 346.5,720.6 348.8,715.8 351.1,707.7 353.0,717.5 354.8,743.3 356.4,751.9 358.7,752.8 361.0,757.7 363.3,749.3 365.6,737.9 367.9,751.6 370.2,772.7 372.5,777.1 374.8,779.2 377.1,783.8 379.4,771.9 381.7,768.7 384.0,784.8 386.3,788.6 388.6,787.2 390.9,778.3 393.2,771.7 395.5,781.2 397.8,784.9 400.1,798.9 402.4,809.5 404.7,814.7 407.0,822.3 409.3,835.3 410.9,821.0 412.7,806.3 415.0,812.1 417.3,803.0 419.6,800.1 421.9,801.6 424.2,808.2 426.5,809.2 428.8,794.0 431.1,786.6 433.4,784.8 435.7,780.3 438.0,776.2 441.0,775.1 441.3,773.1 443.6,764.9 445.9,763.8 448.2,765.9 450.5,773.5 452.8,763.1 455.1,760.1 457.4,765.1 459.7,769.6 462.0,762.4 464.3,763.2 466.6,762.8 468.9,761.0 471.2,768.7 473.5,759.1 475.8,724.0 478.1,689.2 480.0,661.3 481.6,634.8 482.4,641.5 483.2,541.0 483.9,846.0 484.7,650.3 485.0,650.7 487.3,677.9 489.6,706.8 491.9,722.5 494.2,716.2 496.5,727.6 498.8,736.6 501.1,717.0 503.4,677.9 505.7,660.2 508.0,648.2 510.3,625.7 512.6,587.3 514.9,564.4 517.2,560.3 519.5,577.2 521.8,572.3 524.1,587.2 526.4,604.6 528.7,611.3 531.0,617.3 533.3,632.1 535.6,627.2 537.9,610.3 539.5,606.4 541.3,623.5 543.6,652.9 545.9,693.0 548.2,715.6 550.5,724.7 552.8,721.8 555.1,716.4 557.4,735.9 559.7,757.1 562.0,760.7 564.3,744.6 566.6,743.8 568.9,728.0 571.2,714.8 573.5,722.4 575.8,751.8 578.1,759.0 580.4,773.7 582.7,782.2 585.0,788.9 587.3,797.3 589.6,795.4 591.9,794.6 594.2,793.2 596.5,783.0 598.8,777.5 601.1,779.6 603.4,773.5 605.7,760.4 608.0,745.6 611.0,731.8 612.7,728.4 615.0,721.0 617.4,701.4 619.2,687.5 621.6,702.4 623.9,715.3 626.2,720.9 628.6,712.1 630.9,710.8 633.3,699.7 635.6,679.4 637.9,683.9 639.6,707.2 639.8,731.3 641.6,794.3 643.4,731.3 643.5,723.4 645.9,734.3 647.7,729.8 650.1,699.6 651.9,698.4 653.8,719.6 656.2,740.8 658.5,739.8 660.8,735.3 663.2,723.4 665.5,707.1 667.6,711.3 669.9,730.3 672.3,745.9 674.6,747.0 677.0,751.5 679.3,746.2 681.6,761.0 684.0,745.3 686.3,756.0 687.9,756.9 689.8,743.6 692.6,724.9 694.9,704.2 697.3,669.4 699.6,654.9 702.0,671.3 704.3,676.6 706.6,674.5 709.0,663.9 711.3,640.5 713.2,626.9 715.5,644.9 717.8,670.2 720.2,677.6 722.5,680.5 725.3,685.9 727.7,677.5 730.7,659.5 733.0,667.9 735.4,666.4 737.7,667.6 740.1,667.7 742.4,656.5 744.0,622.4 745.9,610.9 747.8,630.4 749.4,654.1 751.0,665.1" fill="none" stroke="#ff7f0e" stroke-width="1.4" stroke-linejoin="round" stroke-linecap="round"/>
<polyline points="102.3,705.7 104.6,722.0 106.9,733.5 109.2,750.6 111.5,744.3 112.3,723.1 114.1,696.6 115.9,723.1 117.3,740.0 119.6,754.5 121.4,760.1 123.7,760.2 126.0,776.7 127.6,774.9 129.9,743.5 131.5,743.6 133.4,753.8 135.2,759.4 137.1,754.1 139.1,760.2 141.4,766.8 143.7,752.7 145.2,737.9 147.0,708.0 148.8,737.9 150.6,752.3 152.9,758.1 155.2,757.2 157.5,751.6 160.5,736.8 161.3,730.5 163.1,693.2 164.9,730.5 165.1,736.2 166.7,771.9 168.3,787.2 170.2,756.9 172.5,720.5 174.4,687.1 176.2,676.0 178.0,687.1 178.9,699.8 181.2,734.2 183.5,756.0 186.3,761.1 188.6,760.3 190.9,756.9 193.1,753.2 195.4,763.4 197.7,759.7 200.0,742.0 202.3,723.7 204.6,704.9 206.9,678.0 209.7,656.3 210.0,652.9 211.8,640.3 213.6,652.9 213.8,646.7 216.1,654.3 218.4,661.0 220.7,664.1 223.0,671.0 225.3,663.9 227.6,669.5 229.3,673.5 231.1,682.7 233.4,677.6 235.7,665.0 238.0,662.4 239.7,661.4 241.4,653.8 243.7,652.1 246.0,659.5 248.3,665.4 250.6,659.6 252.9,649.9 255.2,623.8 257.5,592.1 259.8,585.3 262.1,554.9 264.0,534.0 266.3,548.3 269.0,582.2 272.0,611.9 272.3,603.8 274.6,624.8 276.9,624.9 278.6,623.3 278.9,610.7 280.7,600.0 282.5,610.7 282.7,622.7 285.0,643.2 287.7,657.0 290.0,646.5 292.3,646.4 294.6,630.2 295.0,619.0 296.8,607.0 298.6,619.0 298.8,620.0 301.1,625.4 303.4,615.1 303.5,608.1 305.3,588.6 307.1,608.1 308.0,614.8 310.3,611.5 312.6,604.0 314.9,601.7 317.2,600.9 319.5,601.0 321.8,605.1 324.1,621.9 326.8,623.6 329.1,650.3 332.1,663.4 334.4,696.7 336.7,728.7 339.0,737.6 341.3,725.3 342.9,720.7 345.2,722.4 347.5,718.3 349.8,708.7 352.1,706.1 354.0,716.3 355.8,742.1 357.4,750.9 359.7,748.3 362.0,756.4 364.3,745.0 364.6,733.0 366.4,705.8 368.2,733.0 368.9,750.8 371.2,774.0 373.5,777.5 375.8,774.6 378.1,781.8 380.4,773.6 382.7,763.2 385.0,783.5 387.3,786.7 389.6,783.8 391.9,772.5 394.2,767.4 396.5,777.5 398.8,777.9 401.1,793.9 403.4,803.5 405.7,814.4 408.0,820.3 410.3,828.2 411.9,819.0 413.7,801.8 416.0,810.5 418.3,801.7 420.6,795.8 422.9,797.8 425.2,807.9 427.5,803.8 429.8,792.1 432.1,780.7 434.4,782.6 436.7,774.4 439.0,772.6 442.0,770.8 442.3,768.7 444.6,762.4 446.9,761.5 449.2,764.3 451.5,771.5 453.8,762.9 456.1,755.0 458.4,762.5 460.7,767.0 463.0,761.8 465.3,758.9 467.6,763.5 469.9,760.3 472.2,764.7 474.5,754.7 476.8,719.4 479.1,690.9 481.0,659.0 482.6,633.4 484.2,644.2 486.0,646.4 488.3,676.7 490.6,700.8 492.9,722.2 495.2,717.3 497.5,728.1 499.8,734.8 502.1,718.8 504.4,674.5 506.7,659.2 509.0,648.0 511.3,626.3 513.6,585.4 515.9,562.3 517.9,569.5 519.7,611.6 521.5,569.5 522.8,573.4 525.1,585.5 527.4,602.5 529.7,609.9 532.0,613.9 532.8,626.1 534.6,636.8 536.4,626.1 536.6,623.9 538.9,605.5 540.5,605.1 542.3,617.3 544.6,653.2 546.9,693.2 549.2,714.7 551.5,722.8 553.8,720.4 556.1,714.7 558.4,734.4 560.7,756.7 563.0,756.4 565.3,743.2 567.6,737.0 569.9,724.4 572.2,714.7 574.5,720.7 576.8,747.1 579.1,759.4 581.4,771.2 583.7,777.7 586.0,784.8 588.3,795.4 590.6,793.5 592.9,794.8 595.2,790.7 597.5,785.1 599.8,775.9 602.1,777.9 604.4,772.2 606.7,759.3 609.0,743.8 612.0,726.4 613.7,724.1 616.0,722.1 618.4,701.2 620.2,682.8 622.6,697.9 624.9,712.5 627.2,715.4 629.6,710.7 631.9,705.2 634.3,700.5 636.6,675.7 638.9,679.9 640.6,706.1 642.2,730.1 644.5,722.0 646.9,733.7 648.7,729.1 651.1,700.6 652.9,692.2 654.8,718.8 657.2,741.6 659.5,735.6 661.8,734.1 664.2,716.8 666.5,707.8 668.6,705.9 670.9,731.0 673.3,743.3 675.6,740.3 678.0,747.7 680.3,748.0 682.6,755.5 685.0,745.3 687.3,755.3 688.9,755.5 690.8,743.2 693.6,721.4 695.9,700.7 698.3,669.8 700.6,653.2 703.0,668.9 705.3,672.6 707.6,671.8 710.0,660.8 712.2,627.1 714.0,601.5 715.8,627.1 716.5,640.1 718.8,670.7 721.2,677.9 723.5,679.5 726.3,684.3 728.7,676.4 731.7,657.9 734.0,666.9 736.4,664.1 738.7,664.4 741.1,663.7 743.4,655.6 745.0,607.8 745.0,619.8 746.8,594.5 748.6,607.8 748.8,627.1 750.4,652.6 752.0,661.3" fill="none" stroke="#808080" stroke-width="1.4" stroke-linejoin="round" stroke-linecap="round"/>
<polyline points="100.3,692.0 101.6,707.0 103.9,723.2 106.2,734.5 108.5,751.8 110.8,746.8 113.1,726.0 114.7,724.4 116.6,743.7 118.9,753.8 120.7,764.5 123.0,761.1 125.3,781.0 126.9,776.1 129.2,744.3 130.8,744.7 132.7,754.0 134.5,762.8 136.4,758.1 138.4,764.3 140.7,764.7 143.0,752.5 146.0,736.9 147.6,741.8 149.9,752.9 152.2,755.4 154.5,756.2 156.8,752.9 159.8,735.0 162.6,733.5 164.4,735.8 165.2,783.6 167.0,800.0 168.8,783.6 169.5,759.6 171.8,723.9 174.1,693.2 176.4,687.5 178.2,699.8 180.5,734.4 182.8,753.3 185.6,759.9 187.9,763.0 190.2,757.0 192.4,755.7 194.7,763.6 197.0,760.4 199.3,746.6 201.6,727.0 203.9,704.7 206.2,682.3 209.0,656.4 211.3,652.5 213.1,646.9 215.4,659.0 217.7,661.1 220.0,667.3 222.3,672.5 224.6,667.1 226.9,672.5 228.7,677.7 230.4,683.1 232.7,676.3 235.0,666.9 237.3,663.0 239.0,658.7 240.7,657.9 243.0,654.6 245.3,660.7 247.6,666.7 249.9,658.6 252.2,652.0 254.5,626.6 256.8,591.7 259.1,582.6 261.4,555.4 263.3,539.1 265.6,547.4 268.3,583.9 271.3,612.4 271.6,609.3 273.9,622.6 276.2,625.0 277.9,622.3 279.7,612.6 282.0,623.4 284.3,643.2 287.0,657.6 289.3,646.9 291.6,645.7 293.9,634.6 296.2,621.5 298.1,622.6 300.4,627.5 302.7,618.3 305.0,608.8 307.3,617.0 309.6,610.7 311.9,604.0 314.2,601.8 316.5,606.7 318.8,602.0 321.1,606.5 323.4,626.2 326.1,629.8 328.4,648.0 331.4,668.2 333.7,698.9 336.0,731.8 338.3,738.9 340.6,731.1 342.2,723.4 344.5,724.7 346.8,719.2 349.1,712.7 351.4,708.1 353.3,719.6 355.1,741.0 356.7,753.4 359.0,749.3 361.3,758.6 363.6,748.2 365.9,735.2 368.2,754.0 370.5,772.9 372.8,777.0 375.1,776.7 377.4,780.6 379.7,771.8 382.0,766.9 384.3,783.1 386.6,788.1 388.9,786.6 391.2,775.5 393.5,770.2 395.8,781.0 398.1,781.2 400.4,795.5 402.7,807.2 405.0,812.9 407.3,820.1 409.6,831.3 411.2,819.8 413.0,803.8 415.3,812.8 417.6,801.8 419.9,798.9 422.2,801.2 424.5,809.2 426.8,809.2 429.1,792.0 431.4,784.7 433.7,780.4 436.0,777.2 438.3,774.4 441.3,772.9 441.6,774.7 443.9,767.6 446.2,762.0 448.5,766.8 450.8,772.4 453.1,761.7 455.4,757.6 457.7,765.3 460.0,770.4 462.3,763.4 464.6,763.0 466.9,763.9 469.2,763.2 471.5,766.7 473.8,760.4 476.1,721.6 478.4,688.7 480.3,662.1 481.9,635.4 483.5,644.5 485.3,648.6 487.6,677.5 489.9,704.0 492.2,722.5 494.5,717.0 496.8,728.9 499.1,735.2 501.4,718.5 503.7,677.0 506.0,658.3 508.3,650.8 510.6,624.7 512.9,586.5 515.2,567.8 517.5,561.9 519.8,579.0 522.1,572.6 524.4,586.6 526.7,604.6 529.0,610.3 531.3,614.7 533.6,628.9 535.9,629.9 538.2,611.0 539.8,606.0 541.6,623.1 543.9,653.5 546.2,693.8 548.5,713.0 550.8,724.0 553.1,720.7 555.4,715.3 557.7,734.2 560.0,758.1 562.3,758.9 564.6,743.8 566.9,742.7 569.2,726.7 571.5,712.0 573.8,720.5 576.1,751.4 578.4,759.1 580.7,772.6 583.0,782.3 585.3,787.6 587.6,797.2 589.9,794.9 592.2,792.7 594.5,795.1 596.8,783.5 599.1,773.7 601.4,781.4 603.7,770.9 606.0,757.3 608.3,746.1 611.3,730.0 613.0,726.4 615.3,722.3 617.7,702.2 619.5,685.0 621.9,701.1 624.2,714.6 626.5,719.6 628.9,710.5 631.2,709.0 633.6,700.9 635.9,678.6 638.2,684.2 639.9,707.0 641.5,733.8 643.8,720.6 646.2,735.2 648.0,731.8 650.4,699.3 652.2,694.1 654.1,719.3 656.5,740.7 658.8,738.9 661.1,731.9 663.5,722.8 665.8,707.2 667.9,708.1 670.2,730.6 672.6,747.6 674.9,744.4 677.3,749.7 679.6,746.4 681.9,760.3 684.3,745.6 686.6,757.4 688.2,756.6 690.1,744.5 692.9,724.1 695.2,701.0 697.6,670.1 699.9,657.3 702.3,671.3 704.6,676.4 706.9,672.0 709.3,663.1 711.6,641.1 713.5,624.7 715.8,645.4 718.1,669.9 720.5,676.2 722.8,680.4 725.6,685.8 728.0,676.5 731.0,656.2 733.3,666.6 735.7,666.7 738.0,666.1 740.4,666.2 742.7,656.9 744.3,619.2 746.2,612.7 748.1,626.6 749.7,653.0 751.3,663.1" fill="none" stroke="#8a2be2" stroke-width="1.4" stroke-linejoin="round" stroke-linecap="round"/>
<polyline points="100.3,706.9 101.4,711.2 102.6,722.2 103.8,725.5 104.9,734.1 106.1,741.3 107.2,753.1 108.3,748.5 109.5,747.4 110.7,735.6 111.8,725.6 113.4,718.1 115.3,743.8 116.4,747.0 117.6,753.1 119.4,765.2 120.6,763.9 121.7,761.9 122.8,770.0 124.0,781.6 125.6,780.0 126.8,759.9 127.9,741.4 129.5,741.5 131.4,751.8 133.2,762.6 135.1,757.1 136.1,759.5 137.1,765.6 138.2,764.9 139.4,769.0 140.6,758.5 141.7,750.4 142.7,746.2 143.7,738.6 144.7,734.5 146.3,740.1 147.4,747.6 148.6,753.9 149.8,753.4 150.9,758.4 152.1,755.3 153.2,758.4 154.3,755.2 155.5,755.8 156.5,746.6 157.5,742.7 158.5,735.2 159.9,729.0 161.3,730.0 163.1,732.7 164.7,777.7 166.3,794.8 168.2,763.7 169.3,741.1 170.5,722.7 171.7,703.2 172.8,688.9 173.9,685.1 175.1,682.8 176.9,697.0 178.1,714.2 179.2,735.9 180.3,744.2 181.5,755.3 182.9,761.1 184.3,761.1 185.4,763.9 186.6,760.6 187.8,760.1 188.9,754.7 190.0,757.2 191.1,754.4 192.2,761.4 193.4,763.2 194.6,764.2 195.7,761.0 196.8,755.5 198.0,745.0 199.2,737.6 200.3,726.5 201.4,718.4 202.6,704.3 203.8,694.8 204.9,679.1 206.3,669.2 207.7,653.9 208.8,651.9 210.0,652.1 211.8,645.7 212.9,653.0 214.1,656.0 215.2,661.6 216.4,661.6 217.6,665.6 218.7,665.3 219.8,672.2 221.0,673.4 222.2,671.5 223.3,664.7 224.4,669.1 225.6,669.4 226.8,676.1 227.9,678.9 229.1,682.7 230.2,681.3 231.4,675.3 232.6,672.7 233.7,665.6 234.8,664.8 236.0,660.8 237.1,662.0 238.3,659.9 239.4,656.3 240.6,657.5 241.7,653.6 242.8,658.2 244.0,657.7 245.2,662.9 246.3,665.0 247.4,664.6 248.6,659.6 249.8,659.1 250.9,655.9 252.1,638.9 253.2,627.7 254.3,606.6 255.5,587.7 256.6,587.8 257.8,582.9 259.0,566.9 260.1,553.4 262.0,531.2 263.1,536.2 264.3,544.4 265.6,563.2 267.0,584.0 268.0,595.1 269.0,603.3 270.0,614.6 270.3,606.1 271.5,617.4 272.6,625.9 273.8,624.4 274.9,627.9 276.6,624.0 278.4,608.3 279.5,616.2 280.7,619.9 281.9,631.9 283.0,646.1 284.4,650.6 285.7,660.7 286.9,653.2 288.0,647.5 289.1,649.7 290.3,648.6 291.5,638.1 292.6,633.6 293.8,623.7 294.9,620.0 296.8,621.6 298.0,624.9 299.1,624.8 300.2,623.2 301.4,617.5 302.5,614.3 303.7,606.9 304.9,614.4 306.0,618.0 307.1,614.1 308.3,613.3 309.5,609.9 310.6,603.5 311.8,604.2 312.9,600.3 314.0,605.2 315.2,602.9 316.4,604.3 317.5,600.3 318.6,605.6 319.8,604.8 321.0,617.3 322.1,624.8 323.5,626.8 324.8,627.6 326.0,638.2 327.1,646.9 328.1,655.2 329.1,658.4 330.1,665.7 331.2,680.8 332.4,697.9 333.5,717.8 334.7,732.5 335.9,738.8 337.0,738.7 338.1,736.1 339.3,727.6 340.9,722.3 342.0,722.1 343.2,723.2 344.4,721.9 345.5,716.5 346.6,715.4 347.8,710.1 349.0,709.9 350.1,704.4 352.0,716.6 353.8,739.8 355.4,752.4 356.5,753.5 357.7,749.7 358.9,755.0 360.0,756.9 361.1,754.0 362.3,746.0 363.5,740.5 364.6,732.1 365.8,743.6 366.9,750.3 368.0,764.3 369.2,772.5 370.4,775.0 371.5,779.8 372.6,776.9 373.8,778.8 375.0,778.7 376.1,784.0 377.2,778.0 378.4,771.1 379.5,769.3 380.7,764.2 381.9,773.0 383.0,785.8 384.1,786.5 385.3,791.4 386.5,789.7 387.6,785.4 388.8,781.5 389.9,772.8 391.0,772.1 392.2,767.8 393.4,775.5 394.5,777.9 395.6,780.6 396.8,779.9 398.0,789.5 399.1,794.9 400.2,802.1 401.4,806.5 402.5,811.5 403.7,812.9 404.9,818.5 406.0,822.2 407.1,826.6 408.3,835.7 409.9,817.6 411.7,804.0 412.9,806.2 414.0,813.2 415.1,806.3 416.3,802.8 417.5,797.9 418.6,795.1 419.8,797.2 420.9,800.8 422.0,803.7 423.2,812.2 424.4,808.2 425.5,810.2 426.6,798.1 427.8,791.9 429.0,785.3 430.1,785.2 431.2,780.9 432.4,782.3 433.5,778.6 434.7,778.8 435.9,774.7 437.0,776.0 438.0,773.3 439.0,775.1 440.0,774.1 440.3,771.7 441.5,770.7 442.6,766.0 443.8,763.2 444.9,763.9 446.0,762.9 447.2,766.4 448.4,766.8 449.5,773.0 450.6,765.0 451.8,762.2 453.0,757.6 454.1,759.3 455.2,759.1 456.4,764.3 457.5,765.9 458.7,772.2 459.9,765.0 461.0,761.6 462.1,759.1 463.3,761.8 464.5,762.3 465.6,760.3 466.8,763.2 467.9,759.4 469.0,766.9 470.2,769.1 471.4,766.9 472.5,761.0 473.6,744.2 474.8,722.3 476.0,707.9 477.1,688.4 479.0,659.6 479.2,629.9 481.0,595.5 482.8,629.9 484.0,644.8 485.1,659.0 486.3,673.6 487.5,688.7 488.6,706.5 489.8,713.3 490.9,724.9 492.0,719.8 493.2,717.9 494.4,723.4 495.5,725.6 496.6,734.0 497.8,738.1 499.0,728.2 500.1,721.5 501.2,698.1 502.4,672.9 503.5,668.1 504.7,657.6 505.9,655.5 507.0,647.9 508.1,638.9 509.3,624.9 510.5,605.8 511.6,580.4 512.8,573.8 513.9,561.8 515.0,559.4 516.2,558.3 517.4,565.9 518.5,578.8 519.6,575.2 520.8,570.3 522.0,580.4 523.1,586.8 524.2,594.5 525.4,604.8 526.5,608.0 527.7,609.0 528.9,610.9 530.0,617.1 531.1,623.1 532.3,632.9 533.5,632.2 534.6,627.5 535.8,619.0 536.9,605.6 538.5,601.4 540.3,616.7 541.5,636.7 542.6,653.0 543.8,671.7 544.9,693.4 546.0,705.4 547.2,716.8 548.4,717.4 549.5,724.4 550.6,723.7 551.8,723.3 553.0,715.5 554.1,713.7 555.2,721.7 556.4,733.9 557.5,744.7 558.7,760.5 559.9,758.0 561.0,761.9 562.1,750.1 563.3,743.9 564.5,740.7 565.6,742.0 566.8,732.6 567.9,724.0 569.0,718.6 570.2,708.4 571.4,716.0 572.5,718.9 573.6,736.0 574.8,749.7 576.0,754.0 577.1,760.5 578.2,764.7 579.4,773.6 580.5,775.6 581.7,782.8 582.9,783.9 584.0,790.5 585.1,793.0 586.3,799.8 587.5,795.8 588.6,797.4 589.8,793.1 590.9,794.2 592.0,791.8 593.2,795.4 594.4,787.5 595.5,785.3 596.6,778.0 597.8,774.7 599.0,775.4 600.1,781.5 601.2,774.0 602.4,771.8 603.5,764.3 604.7,760.6 605.9,749.9 607.0,745.8 608.0,737.9 609.0,735.0 610.0,727.1 611.7,723.8 612.9,721.8 614.0,722.7 615.2,710.4 616.4,702.4 618.2,681.5 619.4,691.6 620.6,696.7 621.8,707.3 622.9,715.9 624.0,716.6 625.2,721.5 626.4,714.6 627.6,710.3 628.8,711.4 629.9,711.8 631.1,703.3 632.3,700.6 633.5,688.3 634.6,674.1 635.8,679.4 636.9,678.3 638.6,707.9 640.2,734.7 641.4,730.4 642.5,720.8 643.7,731.0 644.9,738.2 646.7,732.6 647.9,715.1 649.1,694.6 650.9,689.7 652.8,718.5 654.0,732.6 655.2,742.9 656.4,742.8 657.5,737.5 658.6,734.8 659.8,731.6 661.0,727.7 662.2,718.7 663.4,714.1 664.5,702.9 665.5,706.3 666.6,705.9 667.8,719.6 668.9,729.3 670.1,737.5 671.3,747.3 672.5,747.7 673.6,743.2 674.8,748.3 676.0,747.6 677.1,748.6 678.3,746.6 679.5,750.9 680.6,760.6 681.8,751.3 683.0,746.8 684.1,752.6 685.3,756.7 686.9,761.6 688.8,744.6 690.2,737.5 691.6,727.2 692.8,712.5 693.9,702.8 695.1,683.1 696.3,667.2 697.5,658.3 698.6,653.1 699.8,661.1 701.0,671.2 702.1,676.0 703.3,676.5 704.5,676.6 705.6,674.5 706.8,667.2 708.0,661.6 709.1,653.1 710.3,637.4 712.2,618.8 713.4,632.9 714.5,641.1 715.6,657.6 716.8,670.1 718.0,675.0 719.2,676.6 720.4,679.9 721.5,677.9 722.9,682.9 724.3,683.6 725.5,682.6 726.7,675.8 727.7,668.5 728.7,661.2 729.7,655.0 730.9,663.3 732.0,665.3 733.2,666.5 734.4,663.6 735.5,667.0 736.7,666.5 737.9,670.4 739.1,671.0 740.2,660.7 741.4,657.7 743.0,614.0 744.9,606.9 746.8,623.9 748.4,655.7 750.0,667.7" fill="none" stroke="#008000" stroke-width="2.8" stroke-linejoin="round" stroke-linecap="round"/>
<polyline points="100.3,708.9 102.6,721.1 104.9,734.2 107.2,748.8 109.5,747.6 111.8,725.8 113.4,724.1 115.3,741.4 117.6,753.4 119.4,762.1 121.7,761.4 124.0,778.4 125.6,777.7 127.9,744.2 129.5,743.4 131.4,753.0 133.2,762.6 135.1,757.8 137.1,762.1 139.4,766.3 141.7,751.1 144.7,736.2 146.3,741.5 148.6,753.0 150.9,755.1 153.2,757.6 155.5,753.1 158.5,736.1 161.3,730.5 163.1,736.5 164.7,771.4 166.3,789.3 168.2,757.3 170.5,723.0 172.8,691.4 175.1,689.1 176.9,698.5 179.2,734.7 181.5,753.0 184.3,759.8 186.6,762.0 188.9,755.8 191.1,757.3 193.4,763.8 195.7,760.2 198.0,745.8 200.3,725.6 202.6,706.2 204.9,679.4 207.7,656.6 210.0,653.5 211.8,647.8 214.1,658.3 216.4,661.4 218.7,665.4 221.0,674.2 223.3,665.6 225.6,672.6 227.3,676.2 229.1,683.5 231.4,675.4 233.7,668.1 236.0,661.2 237.7,660.7 239.4,656.6 241.7,655.7 244.0,657.6 246.3,665.1 248.6,658.6 250.9,653.4 253.2,624.7 255.5,591.7 257.8,583.4 260.1,555.2 262.0,536.2 264.3,548.2 267.0,582.7 270.0,612.6 270.3,605.6 272.6,623.6 274.9,624.1 276.6,621.9 278.4,612.7 280.7,623.9 283.0,642.5 285.7,658.1 288.0,647.5 290.3,647.2 292.6,632.7 294.9,619.4 296.8,624.4 299.1,623.9 301.4,619.0 303.7,608.1 306.0,619.7 308.3,611.0 310.6,605.3 312.9,601.9 315.2,605.3 317.5,601.2 319.8,607.8 322.1,624.8 324.8,626.8 327.1,649.1 330.1,665.6 332.4,699.3 334.7,730.6 337.0,737.2 339.3,729.8 340.9,720.8 343.2,724.7 345.5,718.1 347.8,711.9 350.1,707.5 352.0,717.8 353.8,739.0 355.4,753.1 357.7,748.1 360.0,757.7 362.3,746.2 364.6,737.1 366.9,750.6 369.2,773.8 371.5,776.2 373.8,776.4 376.1,782.7 378.4,771.9 380.7,766.3 383.0,783.2 385.3,789.7 387.6,787.3 389.9,774.1 392.2,769.3 394.5,779.9 396.8,780.4 399.1,796.2 401.4,805.6 403.7,814.3 406.0,819.4 408.3,833.6 409.9,817.2 411.7,806.1 414.0,811.2 416.3,802.9 418.6,796.4 420.9,798.8 423.2,810.5 425.5,805.8 427.8,789.7 430.1,784.7 432.4,780.9 434.7,778.3 437.0,774.2 440.0,773.0 440.3,772.1 442.6,766.1 444.9,762.6 447.2,766.5 449.5,769.8 451.8,761.7 454.1,758.2 456.4,764.2 458.7,771.2 461.0,760.4 463.3,761.8 465.6,763.5 467.9,759.9 470.2,769.2 472.5,757.7 474.8,722.6 477.1,691.0 479.0,662.9 480.6,633.3 482.2,646.7 484.0,647.4 486.3,676.3 488.6,704.3 490.9,720.9 493.2,718.4 495.5,726.1 497.8,736.4 500.1,715.9 502.4,676.4 504.7,659.1 507.0,649.3 509.3,624.6 511.6,584.4 513.9,566.9 516.2,559.2 518.5,577.9 520.8,571.9 523.1,585.3 525.4,605.3 527.7,606.8 530.0,616.8 532.3,630.6 534.6,626.3 536.9,610.0 538.5,604.0 540.3,621.6 542.6,652.2 544.9,692.5 547.2,712.2 549.5,722.6 551.8,721.0 554.1,716.4 556.4,732.6 558.7,757.2 561.0,757.9 563.3,743.3 565.6,741.5 567.9,727.5 570.2,713.8 572.5,721.4 574.8,748.5 577.1,759.7 579.4,773.1 581.7,781.1 584.0,789.6 586.3,797.2 588.6,796.2 590.9,791.8 593.2,794.4 595.5,782.8 597.8,775.4 600.1,780.6 602.4,769.7 604.7,759.8 607.0,744.3 610.0,729.6 611.7,724.3 614.0,721.8 616.4,701.2 618.2,684.6 620.6,700.3 622.9,712.5 625.2,718.8 627.6,710.4 629.9,709.7 632.3,700.8 634.6,677.4 636.9,683.9 638.6,706.1 640.2,733.2 642.5,719.8 644.9,735.8 646.7,731.2 649.1,698.6 650.9,696.2 652.8,717.8 655.2,742.5 657.5,735.7 659.8,733.5 662.2,720.0 664.5,707.7 666.6,707.8 668.9,730.7 671.3,745.1 673.6,744.7 676.0,747.3 678.3,747.5 680.6,757.0 683.0,747.1 685.3,755.1 686.9,756.9 688.8,745.2 691.6,724.5 693.9,702.5 696.3,668.4 698.6,656.4 701.0,671.0 703.3,677.0 705.6,672.9 708.0,661.2 710.3,640.1 712.2,625.4 714.5,642.3 716.8,670.3 719.2,675.6 721.5,679.4 724.3,681.9 726.7,677.7 729.7,656.6 732.0,668.3 734.4,663.7 736.7,666.1 739.1,667.7 741.4,654.7 743.0,619.0 744.9,611.8 746.8,626.2 748.4,653.9 750.0,661.4" fill="none" stroke="#ff0000" stroke-width="2.8" stroke-linejoin="round" stroke-linecap="round"/>
</g>
<rect x="69.1" y="517.9" width="713.3" height="354.1" fill="none" stroke="#222" stroke-width="1.3"/>
<line x1="64.6" y1="536.0" x2="69.1" y2="536.0" stroke="#222" stroke-width="1.2"/>
<text x="59.49999999999999" y="542.4" text-anchor="end" font-family="DejaVu Sans, Liberation Sans, sans-serif" font-size="16.6" fill="#111" stroke="#111" stroke-width="0.3">2.50</text>
<line x1="64.6" y1="580.3" x2="69.1" y2="580.3" stroke="#222" stroke-width="1.2"/>
<text x="59.49999999999999" y="586.7" text-anchor="end" font-family="DejaVu Sans, Liberation Sans, sans-serif" font-size="16.6" fill="#111" stroke="#111" stroke-width="0.3">2.25</text>
<line x1="64.6" y1="624.7" x2="69.1" y2="624.7" stroke="#222" stroke-width="1.2"/>
<text x="59.49999999999999" y="631.1" text-anchor="end" font-family="DejaVu Sans, Liberation Sans, sans-serif" font-size="16.6" fill="#111" stroke="#111" stroke-width="0.3">2.00</text>
<line x1="64.6" y1="669.0" x2="69.1" y2="669.0" stroke="#222" stroke-width="1.2"/>
<text x="59.49999999999999" y="675.4" text-anchor="end" font-family="DejaVu Sans, Liberation Sans, sans-serif" font-size="16.6" fill="#111" stroke="#111" stroke-width="0.3">1.75</text>
<line x1="64.6" y1="713.4" x2="69.1" y2="713.4" stroke="#222" stroke-width="1.2"/>
<text x="59.49999999999999" y="719.8" text-anchor="end" font-family="DejaVu Sans, Liberation Sans, sans-serif" font-size="16.6" fill="#111" stroke="#111" stroke-width="0.3">1.50</text>
<line x1="64.6" y1="757.7" x2="69.1" y2="757.7" stroke="#222" stroke-width="1.2"/>
<text x="59.49999999999999" y="764.1" text-anchor="end" font-family="DejaVu Sans, Liberation Sans, sans-serif" font-size="16.6" fill="#111" stroke="#111" stroke-width="0.3">1.25</text>
<line x1="64.6" y1="802.1" x2="69.1" y2="802.1" stroke="#222" stroke-width="1.2"/>
<text x="59.49999999999999" y="808.5" text-anchor="end" font-family="DejaVu Sans, Liberation Sans, sans-serif" font-size="16.6" fill="#111" stroke="#111" stroke-width="0.3">1.00</text>
<line x1="64.6" y1="846.4" x2="69.1" y2="846.4" stroke="#222" stroke-width="1.2"/>
<text x="59.49999999999999" y="852.8" text-anchor="end" font-family="DejaVu Sans, Liberation Sans, sans-serif" font-size="16.6" fill="#111" stroke="#111" stroke-width="0.3">0.75</text>
<line x1="101.1" y1="872.0" x2="101.1" y2="876.5" stroke="#222" stroke-width="1.2"/>
<text x="101.1" y="894.0" text-anchor="middle" font-family="DejaVu Sans, Liberation Sans, sans-serif" font-size="16.6" fill="#111" stroke="#111" stroke-width="0.3">0</text>
<line x1="232.9" y1="872.0" x2="232.9" y2="876.5" stroke="#222" stroke-width="1.2"/>
<text x="232.9" y="894.0" text-anchor="middle" font-family="DejaVu Sans, Liberation Sans, sans-serif" font-size="16.6" fill="#111" stroke="#111" stroke-width="0.3">200</text>
<line x1="364.7" y1="872.0" x2="364.7" y2="876.5" stroke="#222" stroke-width="1.2"/>
<text x="364.7" y="894.0" text-anchor="middle" font-family="DejaVu Sans, Liberation Sans, sans-serif" font-size="16.6" fill="#111" stroke="#111" stroke-width="0.3">400</text>
<line x1="496.5" y1="872.0" x2="496.5" y2="876.5" stroke="#222" stroke-width="1.2"/>
<text x="496.5" y="894.0" text-anchor="middle" font-family="DejaVu Sans, Liberation Sans, sans-serif" font-size="16.6" fill="#111" stroke="#111" stroke-width="0.3">600</text>
<line x1="628.3" y1="872.0" x2="628.3" y2="876.5" stroke="#222" stroke-width="1.2"/>
<text x="628.3" y="894.0" text-anchor="middle" font-family="DejaVu Sans, Liberation Sans, sans-serif" font-size="16.6" fill="#111" stroke="#111" stroke-width="0.3">800</text>
<line x1="760.1" y1="872.0" x2="760.1" y2="876.5" stroke="#222" stroke-width="1.2"/>
<text x="760.1" y="894.0" text-anchor="middle" font-family="DejaVu Sans, Liberation Sans, sans-serif" font-size="16.6" fill="#111" stroke="#111" stroke-width="0.3">1000</text>
<text x="358.5" y="915.7" font-family="DejaVu Sans, Liberation Sans, sans-serif" font-size="16.65" fill="#111" stroke="#111" stroke-width="0.3">Sample number</text>
<text transform="translate(13.9,696.2) rotate(-90)" text-anchor="middle" font-family="DejaVu Sans, Liberation Sans, sans-serif" font-size="16.8" fill="#111" stroke="#111" stroke-width="0.3">Significant Wave Height(m)</text>
<rect x="661.7" y="761.7" width="114.7" height="105.3" rx="3" fill="#fff" fill-opacity="0.8" stroke="#ccc" stroke-width="1"/>
<line x1="665.5" y1="771.5" x2="689.8" y2="771.5" stroke="#1f77b4" stroke-width="1.3"/>
<text x="698.5" y="775.6" font-family="DejaVu Sans, Liberation Sans, sans-serif" font-size="11.4" fill="#111" stroke="#111" stroke-width="0.3">GRU</text>
<line x1="665.5" y1="788.5" x2="689.8" y2="788.5" stroke="#ff7f0e" stroke-width="1.3"/>
<text x="698.5" y="792.6" font-family="DejaVu Sans, Liberation Sans, sans-serif" font-size="11.4" fill="#111" stroke="#111" stroke-width="0.3">LSTM</text>
<line x1="665.5" y1="805.4" x2="689.8" y2="805.4" stroke="#808080" stroke-width="1.3"/>
<text x="698.5" y="809.5" font-family="DejaVu Sans, Liberation Sans, sans-serif" font-size="11.4" fill="#111" stroke="#111" stroke-width="0.3">RF</text>
<line x1="665.5" y1="822.4" x2="689.8" y2="822.4" stroke="#8a2be2" stroke-width="1.3"/>
<text x="698.5" y="826.5" font-family="DejaVu Sans, Liberation Sans, sans-serif" font-size="11.4" fill="#111" stroke="#111" stroke-width="0.3">LR</text>
<line x1="665.5" y1="839.3" x2="689.8" y2="839.3" stroke="#008000" stroke-width="2.7"/>
<text x="698.5" y="843.4" font-family="DejaVu Sans, Liberation Sans, sans-serif" font-size="11.4" fill="#111" stroke="#111" stroke-width="0.3">truth</text>
<line x1="665.5" y1="856.3" x2="689.8" y2="856.3" stroke="#ff0000" stroke-width="2.7"/>
<text x="698.5" y="860.4" font-family="DejaVu Sans, Liberation Sans, sans-serif" font-size="11.4" fill="#111" stroke="#111" stroke-width="0.3">EEMD+LSTM</text>
<text transform="translate(372,953.6) scale(1,1)" font-family="Liberation Serif, serif" font-size="37" fill="#111" stroke="#111" stroke-width="0.3">(b)</text>
<clipPath id="cc"><rect x="69.1" y="1034.6" width="713.3" height="353.20000000000005"/></clipPath>
<g clip-path="url(#cc)">
<polyline points="100.3,1213.2 102.6,1239.2 104.9,1231.2 107.2,1241.8 109.5,1228.6 111.2,1229.9 113.0,1230.7 114.7,1236.0 116.4,1243.2 118.7,1254.6 121.0,1253.4 123.3,1257.2 125.6,1247.2 127.9,1239.8 130.9,1247.4 132.5,1263.3 134.8,1252.1 136.6,1253.0 138.3,1255.6 140.0,1249.4 141.7,1241.6 143.4,1237.1 145.2,1234.9 146.9,1244.0 148.6,1255.5 150.3,1252.2 152.1,1250.6 153.8,1251.6 155.5,1253.4 158.5,1238.1 161.3,1235.0 163.1,1242.8 165.9,1272.5 168.6,1214.1 170.9,1191.4 173.2,1188.6 176.2,1196.0 178.5,1233.0 181.5,1274.5 184.3,1250.2 186.0,1248.5 187.7,1245.5 189.4,1246.3 191.1,1245.8 192.8,1244.9 194.6,1246.0 196.3,1233.4 198.0,1220.4 199.8,1207.3 201.5,1195.4 203.2,1185.1 204.9,1174.4 206.7,1166.3 208.4,1158.8 210.7,1145.5 213.0,1151.2 214.7,1157.9 216.4,1164.8 218.7,1166.8 220.4,1171.0 222.2,1172.1 224.5,1162.9 226.8,1177.6 229.1,1173.4 230.8,1166.8 232.5,1162.2 234.2,1160.7 236.0,1158.3 238.3,1168.0 240.6,1144.2 242.9,1158.4 245.2,1158.5 246.9,1160.6 248.6,1163.0 250.3,1152.1 252.1,1140.9 253.8,1124.1 255.5,1106.0 258.5,1077.0 261.3,1061.6 263.0,1075.5 264.7,1089.4 266.4,1101.8 268.2,1113.9 270.0,1150.4 270.3,1146.7 272.6,1152.7 274.9,1152.6 276.6,1134.3 278.4,1114.3 280.7,1132.9 282.4,1148.8 284.1,1163.2 286.4,1169.1 288.7,1139.6 290.4,1138.9 292.2,1138.7 293.9,1127.5 295.6,1116.4 297.9,1143.4 299.6,1140.0 301.4,1135.6 303.1,1129.8 304.8,1122.3 307.1,1141.1 309.4,1131.4 311.1,1128.9 312.9,1126.8 314.6,1124.4 316.3,1122.8 318.1,1125.6 319.8,1131.5 322.5,1152.2 325.5,1109.3 326.7,1138.7 329.0,1162.6 331.3,1204.1 333.1,1231.1 335.4,1267.4 337.7,1236.9 340.5,1224.3 343.2,1213.0 346.2,1231.4 348.5,1210.2 350.1,1189.8 351.5,1219.2 354.3,1263.9 356.6,1249.8 358.3,1243.7 360.0,1236.2 361.7,1241.9 363.4,1246.5 366.2,1230.8 369.2,1273.3 370.9,1270.2 372.6,1263.3 374.4,1262.2 376.1,1257.8 377.8,1259.7 379.5,1263.2 381.8,1249.6 383.6,1257.4 385.3,1264.1 387.0,1267.0 388.7,1270.9 390.4,1266.3 392.2,1260.0 393.9,1264.3 395.6,1266.1 397.4,1265.6 399.1,1264.0 400.8,1278.4 402.5,1292.3 404.2,1296.3 406.0,1300.8 407.7,1294.5 409.4,1290.3 411.1,1288.5 412.9,1285.4 414.6,1282.5 416.3,1278.0 418.6,1278.4 420.9,1280.1 423.2,1273.2 425.5,1265.6 427.8,1265.6 430.1,1262.9 432.4,1260.0 434.7,1257.5 436.5,1257.5 438.2,1257.7 440.0,1258.3 440.3,1262.4 441.9,1260.6 443.5,1259.5 445.2,1257.0 446.8,1256.3 448.4,1255.5 450.1,1254.8 451.9,1252.6 453.6,1251.9 455.3,1250.6 457.6,1251.7 459.9,1251.5 462.2,1224.8 463.3,1251.2 465.0,1250.9 466.8,1250.4 468.5,1251.0 470.2,1251.2 471.9,1242.1 473.7,1231.3 475.4,1212.1 477.1,1191.8 478.7,1167.5 480.6,1228.5 482.9,1145.3 485.2,1226.4 487.5,1238.1 490.5,1264.4 493.2,1218.6 495.5,1229.1 497.8,1253.5 500.1,1191.4 502.4,1168.5 504.1,1159.4 505.9,1150.4 507.6,1134.8 509.3,1121.2 511.0,1108.6 512.8,1094.9 514.5,1089.0 516.2,1083.7 518.0,1093.3 519.7,1104.7 522.4,1078.4 523.8,1160.5 525.4,1133.5 527.7,1144.5 529.4,1146.3 531.1,1148.3 532.9,1140.3 534.6,1133.4 536.3,1105.9 538.0,1079.8 539.9,1132.2 542.6,1191.5 544.9,1232.3 547.2,1226.8 549.0,1229.0 550.7,1233.2 552.4,1228.1 554.1,1222.4 556.0,1189.1 557.6,1249.8 559.9,1264.6 561.6,1250.4 563.3,1235.6 565.0,1230.5 566.8,1228.5 568.5,1219.0 570.2,1212.7 572.5,1233.4 574.2,1243.4 576.0,1255.6 577.7,1261.7 579.4,1267.4 581.1,1266.8 582.9,1269.1 584.6,1266.4 586.3,1264.7 588.0,1267.3 589.8,1272.2 591.5,1270.4 593.2,1270.1 595.5,1262.7 597.8,1256.8 600.1,1252.0 602.4,1247.6 604.7,1239.7 607.0,1231.2 610.0,1225.9 611.7,1220.4 614.5,1228.6 616.8,1191.8 619.9,1206.5 622.9,1222.9 625.7,1213.4 627.5,1209.5 629.2,1206.7 631.0,1194.6 632.7,1178.7 634.5,1179.4 636.2,1178.5 639.3,1234.3 641.6,1241.0 643.9,1224.4 646.7,1245.6 649.1,1216.8 651.4,1211.3 653.8,1258.6 655.6,1275.9 658.4,1240.6 660.1,1233.1 661.9,1225.0 665.0,1219.4 667.3,1226.2 669.6,1259.8 672.4,1241.0 674.2,1240.3 676.0,1240.6 677.8,1241.7 679.5,1244.4 681.2,1241.2 683.0,1237.1 686.0,1257.6 688.8,1239.2 691.6,1216.2 694.6,1194.8 697.7,1159.7 700.5,1173.7 702.2,1178.1 704.0,1181.2 705.8,1170.4 707.5,1161.5 710.3,1124.6 712.6,1107.5 715.0,1134.1 718.0,1209.8 719.8,1203.5 721.5,1196.8 723.2,1192.5 725.0,1188.3 726.8,1182.2 728.5,1174.0 730.9,1164.5 732.6,1172.9 734.4,1178.4 736.8,1178.3 739.1,1175.2 741.4,1161.7 743.7,1080.4 746.1,1122.5 747.7,1170.3 749.1,1218.5 750.0,1207.8" fill="none" stroke="#1f77b4" stroke-width="1.4" stroke-linejoin="round" stroke-linecap="round"/>
<polyline points="100.3,1215.1 102.6,1225.9 104.3,1223.8 106.1,1223.1 107.8,1226.4 109.5,1230.1 111.2,1214.9 113.0,1199.6 115.3,1221.7 117.6,1246.5 119.3,1248.9 121.0,1251.3 122.8,1253.7 124.5,1255.6 127.2,1231.2 129.1,1214.1 131.4,1238.0 133.1,1241.0 134.8,1244.5 136.6,1241.9 138.3,1241.0 140.0,1238.2 141.7,1238.0 143.4,1226.5 145.2,1214.1 147.9,1235.9 150.9,1242.0 152.7,1239.7 154.4,1239.7 156.1,1233.7 157.8,1230.4 159.8,1223.1 161.7,1214.6 164.0,1241.4 165.9,1283.6 167.0,1348.3 168.2,1260.4 170.5,1191.2 173.2,1168.4 175.5,1179.4 177.8,1213.9 180.8,1247.3 182.6,1250.5 184.3,1251.8 186.0,1245.8 187.7,1241.7 189.4,1242.1 191.1,1241.7 192.8,1244.8 194.6,1247.2 196.3,1235.3 198.0,1223.1 199.8,1210.2 201.5,1195.0 203.2,1182.2 204.9,1169.2 206.7,1163.3 208.4,1154.7 210.7,1149.8 212.4,1154.3 214.1,1158.2 215.8,1164.3 217.6,1169.8 219.3,1172.2 221.0,1173.4 222.8,1170.3 224.5,1167.3 226.2,1173.6 227.9,1179.3 229.7,1173.7 231.4,1166.9 233.1,1165.8 234.8,1163.1 236.6,1163.1 238.3,1160.7 240.0,1161.8 241.7,1164.1 243.4,1162.0 245.2,1161.0 246.9,1160.3 248.6,1157.8 250.3,1143.2 252.1,1129.3 253.8,1115.3 255.5,1102.2 258.5,1075.8 261.3,1065.1 263.0,1080.3 264.7,1094.6 266.4,1108.5 268.2,1122.2 270.0,1141.6 270.3,1133.5 272.6,1147.9 274.4,1147.0 276.1,1144.1 277.8,1134.0 279.5,1120.9 281.8,1144.3 283.6,1158.7 285.3,1172.2 287.6,1167.4 289.3,1161.3 291.0,1153.1 292.8,1146.9 294.5,1138.7 296.8,1129.0 299.1,1129.0 301.4,1140.7 303.1,1134.6 304.8,1129.9 307.1,1143.2 308.9,1135.8 310.6,1127.1 312.3,1123.2 314.0,1121.2 315.8,1120.6 317.5,1119.2 319.2,1133.1 320.9,1145.3 323.2,1149.0 325.5,1119.8 326.7,1137.4 329.0,1169.1 330.7,1187.2 332.4,1205.9 334.7,1237.5 336.4,1230.0 338.2,1224.4 339.9,1223.3 341.6,1220.5 343.9,1202.2 346.9,1222.3 349.7,1191.7 351.5,1213.2 354.3,1240.5 356.0,1239.1 357.7,1236.8 359.4,1235.1 361.1,1232.1 362.9,1222.2 364.6,1215.0 366.9,1232.4 368.6,1245.7 370.3,1260.5 372.1,1260.7 373.8,1262.1 375.5,1259.9 377.2,1259.6 380.0,1248.8 381.8,1230.6 384.1,1254.4 385.9,1264.1 387.6,1271.4 389.3,1266.9 391.0,1262.3 392.8,1259.4 394.5,1258.6 396.2,1255.6 397.9,1255.3 400.2,1278.4 401.9,1285.6 403.7,1293.7 405.4,1298.7 407.1,1302.2 408.9,1295.1 410.6,1288.1 412.3,1282.5 414.0,1277.7 415.8,1278.7 417.5,1281.7 419.2,1280.6 420.9,1281.8 422.6,1276.6 424.4,1269.8 426.1,1265.7 427.8,1263.4 429.6,1258.4 431.3,1251.8 433.0,1256.1 434.7,1259.9 436.5,1257.6 438.2,1254.1 440.0,1253.4 440.3,1256.9 441.9,1255.3 443.5,1254.6 445.2,1253.8 446.8,1251.3 448.4,1251.4 450.1,1249.0 451.9,1250.0 453.6,1249.6 455.3,1249.5 457.6,1248.5 459.9,1248.5 461.7,1224.3 463.3,1247.2 465.2,1248.8 467.2,1250.3 469.1,1250.0 471.4,1238.0 473.7,1224.9 476.7,1201.9 478.3,1134.5 480.1,1169.1 481.7,1098.0 482.9,1049.9 483.6,1372.2 484.7,1111.4 486.3,1191.4 488.6,1214.3 490.9,1219.1 493.2,1194.4 495.5,1224.8 497.8,1237.3 500.1,1191.5 503.1,1158.5 505.9,1143.7 507.6,1132.6 509.3,1122.0 512.3,1091.1 513.9,1088.2 515.5,1083.2 518.5,1098.2 520.2,1091.6 522.0,1084.2 524.3,1116.7 526.0,1125.6 527.7,1133.3 529.4,1138.6 531.1,1145.6 533.4,1133.1 535.7,1122.0 538.0,1086.7 539.9,1123.1 542.6,1189.5 544.9,1211.8 546.6,1214.2 548.4,1217.6 550.1,1215.9 551.8,1213.0 553.5,1202.5 555.3,1191.5 557.6,1237.9 560.6,1247.8 563.3,1233.3 565.0,1230.6 566.8,1226.6 568.8,1210.9 570.7,1195.3 572.5,1220.3 574.2,1234.7 576.0,1249.5 577.7,1257.4 579.4,1264.0 581.1,1270.3 582.9,1273.3 584.6,1276.1 586.3,1277.3 588.6,1274.5 590.9,1270.2 593.2,1267.1 595.5,1265.0 597.8,1257.7 600.1,1252.2 602.4,1247.7 604.7,1241.7 606.5,1234.6 608.2,1230.0 610.0,1222.8 611.7,1215.5 613.5,1205.6 615.2,1197.7 617.2,1178.7 619.2,1156.7 622.2,1207.7 624.0,1202.9 625.7,1198.0 627.5,1197.0 629.2,1193.5 631.5,1185.6 633.9,1178.5 635.6,1176.7 637.4,1175.8 639.7,1227.9 641.6,1302.6 643.2,1190.9 645.6,1229.6 648.6,1217.0 650.9,1153.8 653.3,1198.9 655.2,1255.9 657.3,1241.2 659.0,1231.2 660.8,1223.6 662.5,1210.3 664.3,1197.3 666.6,1181.3 668.9,1216.9 670.6,1228.5 672.4,1239.3 674.2,1237.1 676.0,1235.9 677.8,1240.8 679.5,1246.0 681.2,1237.0 683.0,1231.0 685.3,1243.4 687.0,1236.8 688.8,1231.1 690.5,1213.7 692.3,1198.6 694.0,1186.8 695.8,1174.4 698.2,1143.9 701.0,1179.0 704.0,1189.6 705.8,1175.2 707.5,1161.2 709.2,1147.9 711.0,1133.6 713.3,1127.9 715.7,1170.4 717.5,1181.7 719.2,1194.7 721.0,1191.8 722.7,1190.3 724.5,1185.9 726.2,1178.7 728.0,1170.0 729.7,1160.0 731.5,1167.1 733.2,1174.2 735.5,1175.8 737.9,1174.8 739.6,1178.2 741.4,1180.9 743.0,1129.3 744.4,1092.5 746.8,1156.0 748.6,1181.3 750.0,1199.2" fill="none" stroke="#ff7f0e" stroke-width="1.4" stroke-linejoin="round" stroke-linecap="round"/>
<polyline points="100.3,1220.6 102.6,1236.7 104.9,1231.1 106.7,1237.1 108.4,1240.4 110.7,1245.3 113.0,1204.1 114.1,1195.9 115.7,1224.4 118.7,1249.6 120.5,1253.2 122.2,1256.9 124.2,1263.4 126.3,1270.1 127.9,1252.0 130.9,1246.5 133.7,1249.1 135.4,1247.0 137.1,1245.9 138.8,1247.3 140.6,1250.6 142.3,1241.8 144.0,1232.9 147.0,1194.4 148.6,1223.9 150.9,1246.2 152.7,1246.3 154.4,1247.7 156.7,1242.6 158.4,1223.7 160.1,1203.8 161.3,1222.1 163.1,1184.4 164.7,1235.8 167.0,1220.4 170.0,1196.7 171.9,1188.2 173.9,1178.9 176.2,1164.4 178.5,1210.0 180.8,1242.2 182.6,1243.9 184.3,1246.7 186.0,1246.0 187.7,1246.7 189.4,1248.3 191.1,1249.7 193.9,1230.6 195.7,1235.7 198.0,1250.5 200.3,1217.8 202.1,1199.3 203.8,1182.1 205.5,1170.9 207.2,1158.4 209.5,1149.1 211.2,1154.9 213.0,1157.8 216.0,1176.8 218.3,1191.8 221.0,1186.6 222.8,1182.8 224.5,1176.4 226.2,1177.2 227.9,1180.4 230.2,1171.1 232.5,1159.8 234.2,1159.6 236.0,1156.0 237.7,1165.0 239.4,1172.8 241.7,1158.7 244.0,1155.5 246.3,1153.7 248.6,1155.3 251.6,1175.6 254.4,1138.7 256.7,1120.1 259.0,1089.4 261.3,1074.7 263.6,1084.9 265.3,1100.4 267.0,1116.6 270.0,1134.9 270.3,1134.6 272.6,1140.1 274.4,1143.7 276.1,1146.2 277.8,1131.9 279.5,1115.9 281.8,1137.4 284.1,1165.3 287.1,1187.5 289.4,1158.6 292.2,1146.6 294.5,1131.1 296.8,1116.0 299.1,1138.0 301.4,1156.0 303.7,1128.7 305.3,1094.7 307.1,1132.2 308.9,1127.1 310.6,1124.3 312.3,1122.2 314.0,1122.4 315.8,1120.4 317.5,1117.7 319.2,1124.2 320.9,1128.9 323.2,1149.5 324.9,1153.9 326.7,1158.0 329.0,1171.9 330.7,1189.7 332.4,1209.1 334.7,1230.4 336.4,1227.1 338.2,1224.7 339.9,1221.8 341.6,1218.3 343.4,1217.2 345.1,1212.8 346.8,1208.8 348.5,1204.7 350.8,1220.1 352.6,1230.8 354.3,1242.0 356.0,1242.8 357.7,1244.9 359.4,1249.5 361.1,1251.5 363.9,1233.2 366.4,1199.3 368.0,1237.4 370.8,1263.8 373.8,1266.4 375.5,1266.2 377.2,1263.8 378.9,1262.6 380.7,1260.9 383.0,1270.0 384.7,1273.3 386.4,1277.4 388.1,1275.8 389.9,1270.6 392.2,1247.5 394.5,1260.8 396.2,1262.7 397.9,1265.8 399.6,1276.6 401.4,1286.8 403.1,1294.1 404.8,1299.1 406.6,1300.2 408.3,1299.8 410.0,1293.9 411.7,1286.8 413.4,1283.2 415.2,1280.2 416.9,1280.4 418.6,1279.5 420.4,1280.9 422.1,1282.6 423.8,1277.3 425.5,1274.5 427.8,1266.1 430.1,1258.8 432.4,1258.0 434.7,1254.4 436.5,1255.6 438.2,1254.3 440.0,1254.5 440.3,1259.7 442.2,1253.9 444.2,1249.6 446.1,1243.8 448.4,1240.7 450.7,1239.0 452.4,1240.4 454.1,1244.7 455.9,1246.2 457.6,1250.0 459.9,1245.8 462.2,1242.4 464.5,1246.3 466.8,1251.1 469.1,1249.8 471.4,1250.7 474.1,1228.4 477.1,1190.3 479.4,1144.8 481.7,1195.6 483.4,1177.8 485.2,1157.9 487.9,1215.0 490.2,1227.6 493.2,1205.0 494.9,1211.2 496.7,1218.7 499.0,1223.8 501.7,1174.7 504.7,1158.3 506.4,1150.5 508.2,1141.6 509.9,1125.4 511.6,1111.0 514.6,1078.9 516.7,1064.6 518.0,1094.5 519.7,1145.9 522.0,1116.3 524.3,1139.1 526.0,1143.2 527.7,1145.8 529.4,1148.0 531.1,1149.3 533.9,1153.4 536.2,1140.0 539.2,1105.1 540.3,1122.7 543.1,1196.5 546.1,1212.3 547.8,1218.3 549.5,1224.9 551.2,1219.0 553.0,1214.6 554.7,1227.1 556.4,1242.7 558.1,1245.2 559.9,1247.9 561.6,1240.5 563.3,1234.3 565.6,1229.2 567.9,1223.0 569.6,1226.9 571.4,1230.3 573.1,1238.8 574.8,1248.3 576.9,1259.3 579.0,1272.1 580.7,1274.0 582.3,1277.3 584.0,1280.0 585.8,1274.8 587.5,1270.1 590.5,1258.1 593.2,1283.1 595.5,1271.7 597.8,1258.9 600.1,1251.8 602.4,1246.5 604.7,1239.9 607.0,1232.9 610.0,1220.0 611.7,1207.1 613.5,1202.9 615.2,1198.3 617.0,1187.8 618.8,1180.4 620.6,1169.6 622.9,1216.3 625.7,1215.0 627.5,1209.4 629.2,1203.2 631.0,1189.9 632.7,1173.8 634.5,1168.3 636.2,1160.5 638.6,1192.4 641.6,1232.0 643.2,1220.6 644.9,1212.7 647.9,1240.9 650.2,1189.3 652.6,1228.4 655.6,1253.8 658.4,1234.4 660.1,1222.8 661.9,1213.2 663.9,1197.8 665.9,1184.5 668.2,1201.2 671.3,1244.7 673.0,1245.4 674.8,1244.8 676.5,1241.2 678.3,1236.4 680.0,1233.9 681.8,1230.8 684.1,1240.4 686.9,1249.8 690.0,1221.2 691.8,1202.8 693.5,1183.4 695.6,1171.8 697.7,1161.9 700.5,1145.7 702.8,1181.3 704.7,1208.6 707.5,1170.8 710.3,1141.8 712.6,1109.5 715.0,1128.6 718.0,1207.2 719.8,1202.5 721.5,1198.9 723.2,1194.7 725.0,1188.5 727.4,1178.9 729.9,1148.0 731.5,1156.6 733.2,1165.8 735.5,1167.7 737.9,1169.4 739.6,1165.7 741.4,1161.5 743.7,1136.0 746.8,1100.6 748.4,1170.1 750.0,1182.9" fill="none" stroke="#808080" stroke-width="1.4" stroke-linejoin="round" stroke-linecap="round"/>
<polyline points="100.3,1197.3 102.6,1217.6 104.9,1227.8 106.7,1229.9 108.4,1233.4 110.1,1230.0 111.8,1226.4 114.1,1227.6 115.8,1237.5 117.6,1246.5 119.3,1247.1 121.0,1247.7 122.8,1250.2 124.5,1251.7 126.2,1246.1 127.9,1240.2 130.9,1242.5 132.9,1243.8 134.8,1248.6 136.6,1248.4 138.3,1246.1 140.6,1242.6 142.9,1236.2 144.6,1233.4 146.3,1228.2 149.3,1238.1 151.2,1239.9 153.2,1241.1 154.9,1238.6 156.7,1237.4 158.4,1235.6 160.1,1233.1 163.1,1220.1 164.7,1237.9 167.0,1287.2 169.3,1241.6 171.6,1205.7 173.9,1189.3 176.2,1185.6 178.5,1213.4 180.8,1246.3 182.6,1246.9 184.3,1248.9 186.0,1247.6 187.7,1245.6 189.4,1244.3 191.1,1243.3 192.8,1244.1 194.6,1245.3 196.9,1251.7 199.2,1232.1 201.5,1210.6 203.8,1192.1 206.1,1171.7 208.4,1161.7 210.7,1157.6 212.4,1160.0 214.1,1163.4 215.8,1167.6 217.6,1170.1 219.3,1172.2 221.0,1173.7 222.8,1173.7 224.5,1175.8 226.2,1178.2 227.9,1181.3 229.7,1180.8 231.4,1179.2 233.1,1174.3 234.8,1170.1 237.1,1170.0 239.4,1167.1 241.7,1166.7 244.0,1164.7 246.3,1166.0 248.6,1166.0 250.3,1166.9 252.1,1168.0 254.4,1148.6 256.7,1122.2 259.0,1107.9 261.3,1083.3 263.6,1069.6 265.9,1074.7 268.2,1099.9 270.0,1126.9 270.3,1106.8 271.5,1098.3 273.8,1130.1 275.5,1134.9 277.2,1138.8 278.9,1134.1 280.7,1130.7 283.0,1154.3 284.7,1159.8 286.4,1168.8 288.1,1163.1 289.9,1159.8 291.6,1152.5 293.3,1146.8 295.1,1140.9 296.8,1136.0 298.5,1140.7 300.2,1145.9 301.9,1137.3 303.7,1129.9 305.4,1131.4 307.1,1136.2 308.9,1132.0 310.6,1126.3 312.9,1126.1 315.2,1125.4 316.9,1123.6 318.6,1122.0 320.4,1126.1 322.1,1132.0 323.8,1135.5 325.5,1141.1 328.5,1159.2 331.3,1173.6 334.0,1214.6 337.0,1231.8 338.8,1229.1 340.5,1227.2 342.2,1223.3 343.9,1220.0 345.6,1216.2 347.4,1214.5 349.1,1209.6 350.8,1207.3 353.1,1222.4 356.1,1244.8 358.9,1241.8 360.6,1238.4 362.3,1237.2 365.3,1229.7 368.0,1243.5 370.8,1258.3 373.8,1261.7 375.5,1262.0 377.2,1261.6 378.9,1261.1 380.7,1258.7 383.0,1253.1 385.3,1269.3 387.0,1269.5 388.7,1271.8 390.4,1268.9 392.2,1267.7 393.9,1264.2 395.6,1262.1 397.4,1266.4 399.1,1271.0 400.8,1278.8 402.5,1284.8 404.2,1291.8 406.0,1296.0 407.7,1299.3 409.4,1300.4 411.1,1295.1 412.9,1286.4 414.6,1284.9 416.3,1284.0 418.6,1284.4 420.9,1286.2 422.6,1282.9 424.4,1281.3 426.1,1275.6 427.8,1271.8 429.6,1268.8 431.3,1267.4 433.0,1263.7 434.7,1262.2 436.5,1261.6 438.2,1258.1 440.0,1256.9 440.3,1260.8 441.9,1257.9 443.5,1256.5 445.2,1254.5 446.8,1252.9 448.4,1249.5 450.1,1251.5 451.9,1251.5 453.6,1251.8 455.3,1251.8 457.0,1249.7 458.8,1247.8 460.5,1247.9 462.2,1246.9 463.9,1247.4 465.6,1247.2 467.4,1250.2 469.1,1250.3 471.4,1246.1 473.7,1240.4 475.4,1227.0 477.1,1213.2 479.4,1167.8 481.7,1123.1 483.3,1098.1 485.2,1158.0 487.5,1191.4 490.2,1208.3 493.2,1212.7 494.9,1218.1 496.7,1220.4 499.4,1233.5 502.4,1190.8 504.7,1168.7 506.4,1161.5 508.2,1156.7 510.9,1126.8 513.9,1097.7 516.9,1084.5 519.7,1093.4 521.4,1109.3 523.1,1122.5 524.9,1129.5 526.6,1138.4 528.9,1140.5 531.1,1144.7 533.4,1136.6 535.7,1126.0 538.5,1118.4 541.5,1141.0 543.2,1164.8 544.9,1191.7 546.6,1202.4 548.4,1213.0 550.1,1216.6 551.8,1218.0 553.5,1215.2 555.3,1214.9 557.0,1226.8 558.7,1238.2 560.5,1237.1 562.2,1237.7 563.9,1232.8 565.6,1227.0 567.4,1219.5 569.1,1212.7 570.8,1212.9 572.5,1212.9 574.2,1225.0 576.0,1237.2 577.7,1246.6 579.4,1255.8 581.1,1261.6 582.9,1268.9 584.6,1273.8 586.3,1277.5 588.0,1276.4 589.8,1275.5 592.1,1272.8 594.4,1268.3 596.7,1264.2 599.0,1257.8 601.3,1252.1 603.6,1248.2 605.9,1239.9 608.2,1230.8 610.0,1223.7 612.9,1228.3 614.6,1222.9 616.4,1217.4 618.5,1201.5 620.6,1183.0 623.4,1208.6 625.1,1209.8 626.9,1211.2 628.6,1211.6 630.4,1212.5 632.5,1197.5 634.6,1185.1 637.4,1184.4 640.2,1220.3 642.8,1242.1 645.6,1232.1 648.6,1208.6 650.2,1195.2 651.9,1182.6 654.9,1229.3 657.3,1240.5 660.3,1228.2 662.0,1226.2 663.6,1222.5 666.6,1197.6 669.6,1236.7 672.4,1239.8 674.2,1239.4 676.0,1239.2 678.3,1242.3 680.6,1244.8 682.4,1246.6 684.1,1249.0 686.5,1247.4 688.8,1248.5 690.5,1238.6 692.3,1229.7 694.0,1215.5 695.8,1200.5 698.2,1182.9 701.0,1175.0 702.9,1180.0 704.7,1183.2 707.5,1182.8 710.3,1164.8 713.3,1146.0 716.4,1178.8 718.0,1180.9 719.7,1181.1 721.8,1185.5 723.9,1189.0 725.6,1186.2 727.4,1183.3 729.1,1178.5 730.9,1175.2 733.2,1173.0 735.5,1173.8 737.6,1176.0 739.8,1178.0 741.4,1163.1 743.0,1146.1 746.1,1127.6 748.4,1147.7 750.0,1166.4" fill="none" stroke="#8a2be2" stroke-width="1.4" stroke-linejoin="round" stroke-linecap="round"/>
<polyline points="100.3,1220.7 102.0,1225.9 103.8,1229.9 105.5,1233.5 107.2,1237.3 109.0,1233.5 110.7,1230.3 113.0,1231.8 114.7,1239.6 116.4,1246.0 118.2,1250.9 119.9,1255.8 121.6,1260.5 123.3,1263.9 125.0,1258.2 126.8,1250.2 128.5,1247.5 130.2,1243.4 131.9,1247.8 133.7,1250.8 135.4,1249.5 137.1,1248.6 138.8,1245.0 140.6,1241.0 142.3,1237.5 144.0,1232.1 145.8,1237.0 147.5,1241.1 149.2,1243.1 150.9,1243.8 152.7,1242.1 154.4,1241.8 156.1,1237.3 157.8,1231.7 160.1,1224.9 162.4,1237.2 164.0,1275.7 166.3,1255.3 168.6,1213.6 170.9,1190.3 173.2,1188.5 175.5,1204.7 177.8,1228.2 180.1,1241.8 183.1,1248.8 184.8,1248.3 186.6,1247.6 188.3,1246.1 190.0,1244.8 191.7,1246.0 193.4,1246.7 195.7,1229.5 198.0,1209.9 200.3,1191.1 202.6,1172.8 204.9,1160.9 206.7,1156.9 208.4,1151.8 210.1,1153.5 211.8,1155.3 213.6,1160.4 215.3,1165.5 217.0,1169.5 218.7,1172.3 220.4,1174.9 222.2,1176.9 223.9,1178.4 225.6,1180.6 227.9,1179.7 229.7,1174.9 231.4,1170.6 233.1,1167.9 234.8,1165.5 237.1,1164.7 239.4,1164.5 241.7,1165.1 244.0,1166.1 245.8,1164.5 247.5,1163.5 249.2,1155.6 250.9,1147.5 252.7,1127.1 254.4,1106.4 256.1,1094.4 257.8,1083.4 260.6,1059.4 262.9,1069.0 265.9,1096.6 267.9,1111.5 270.0,1126.4 270.3,1130.8 272.1,1132.9 273.8,1135.4 276.1,1126.3 278.4,1131.0 280.7,1146.9 283.0,1158.6 284.7,1154.1 286.4,1148.9 288.1,1146.7 289.9,1145.3 291.6,1139.8 293.3,1136.1 295.1,1136.0 296.8,1135.5 298.5,1131.0 300.2,1126.9 301.9,1122.9 303.7,1120.3 305.4,1121.3 307.1,1122.4 308.9,1119.9 310.6,1117.9 312.3,1117.5 314.0,1117.6 315.8,1119.6 317.5,1122.0 319.8,1133.9 321.5,1135.3 323.2,1138.6 324.9,1148.2 326.7,1158.2 329.0,1176.7 331.3,1209.1 333.6,1227.1 336.3,1223.6 339.3,1219.1 341.1,1216.2 342.8,1213.6 344.5,1210.2 346.2,1207.1 348.5,1209.7 350.8,1225.3 353.1,1242.0 354.9,1242.5 356.6,1243.5 358.3,1242.9 360.0,1241.0 361.7,1235.3 363.4,1229.9 366.2,1237.0 368.5,1255.2 370.8,1264.3 373.8,1266.4 375.5,1263.8 377.2,1259.9 379.5,1262.4 381.8,1268.8 383.6,1271.0 385.3,1274.0 387.0,1268.9 388.7,1264.1 390.4,1266.0 392.2,1266.6 393.9,1269.4 395.6,1270.9 397.4,1274.8 399.1,1278.1 401.4,1292.2 403.7,1301.6 405.4,1305.0 407.1,1307.7 408.9,1303.5 410.6,1299.0 412.9,1285.8 414.6,1283.6 416.3,1283.2 418.1,1285.5 419.8,1287.3 421.5,1288.5 423.2,1289.5 424.9,1281.3 426.7,1273.8 428.4,1271.6 430.1,1268.7 431.9,1267.7 433.6,1266.5 435.3,1264.5 437.0,1261.7 440.0,1259.5 440.3,1260.3 442.1,1259.3 443.8,1257.5 445.5,1255.9 447.2,1255.2 448.9,1253.9 450.7,1251.8 452.4,1252.9 454.1,1253.3 455.9,1254.8 457.6,1256.8 459.3,1252.4 461.0,1248.9 462.8,1249.6 464.5,1252.4 466.8,1251.6 469.1,1251.5 470.8,1248.2 472.5,1243.8 474.8,1191.1 477.1,1144.7 478.7,1113.3 480.1,1145.4 482.4,1159.1 484.7,1191.2 487.5,1213.8 490.2,1222.5 493.2,1228.3 494.9,1229.9 496.7,1232.5 499.0,1218.3 501.3,1172.5 503.6,1161.4 505.9,1147.5 507.6,1132.7 509.3,1117.5 512.3,1085.3 515.1,1083.3 516.8,1087.0 518.5,1091.5 520.2,1100.3 522.0,1107.8 523.7,1117.2 525.4,1126.6 527.1,1130.8 528.9,1135.6 531.1,1138.2 532.9,1127.1 534.6,1118.0 536.9,1117.9 539.2,1142.3 541.5,1176.7 543.8,1202.3 545.5,1207.3 547.2,1211.4 549.0,1212.9 550.7,1213.9 552.4,1219.1 554.1,1222.8 556.4,1236.4 558.7,1236.5 560.5,1232.0 562.2,1228.1 563.9,1224.4 565.6,1221.3 568.6,1208.9 571.4,1218.0 573.7,1236.3 575.4,1247.3 577.1,1257.7 578.9,1263.1 580.6,1269.1 583.6,1277.8 586.3,1281.3 588.0,1279.7 589.8,1278.5 591.5,1274.4 593.2,1271.7 595.0,1268.2 596.7,1264.4 598.4,1259.8 600.1,1255.0 601.9,1252.0 603.6,1248.9 605.3,1241.6 607.0,1234.9 610.0,1218.7 612.9,1208.2 614.6,1197.8 616.4,1188.8 618.1,1197.5 619.9,1205.3 621.6,1210.0 623.4,1214.6 625.1,1211.3 626.9,1208.2 628.6,1201.2 630.4,1193.4 633.4,1181.5 636.2,1198.6 638.6,1228.1 640.9,1223.8 643.9,1224.2 646.3,1198.1 648.1,1190.9 650.2,1221.5 653.3,1240.0 656.1,1228.9 657.9,1223.0 659.6,1217.5 662.6,1202.7 665.4,1216.5 668.2,1233.4 671.3,1237.5 674.3,1230.8 677.1,1240.3 678.9,1241.5 680.6,1242.7 682.4,1243.5 684.1,1244.5 685.9,1242.5 687.6,1240.4 690.0,1217.6 692.3,1184.5 694.6,1165.2 697.7,1163.5 700.5,1175.0 703.3,1182.2 706.3,1170.6 709.4,1151.8 711.7,1137.0 714.5,1161.1 716.2,1171.7 718.0,1181.7 719.8,1183.0 721.5,1183.6 723.2,1185.0 725.0,1186.9 726.8,1182.8 728.5,1179.1 730.2,1176.3 732.0,1173.1 733.8,1172.2 735.5,1172.4 737.3,1168.7 739.1,1165.5 741.4,1141.8 743.7,1128.1 746.1,1137.9 748.4,1167.8 750.0,1169.2" fill="none" stroke="#008000" stroke-width="2.8" stroke-linejoin="round" stroke-linecap="round"/>
<polyline points="100.3,1216.1 102.6,1222.9 104.9,1228.2 107.2,1230.3 109.5,1225.1 111.8,1222.8 114.1,1231.8 116.4,1243.5 118.7,1248.5 121.0,1251.2 123.3,1253.5 125.6,1241.7 127.2,1234.2 129.1,1241.3 131.4,1246.6 133.7,1245.5 136.0,1243.5 138.3,1243.4 140.6,1239.3 142.9,1229.8 145.2,1232.1 147.5,1239.1 149.8,1242.0 152.1,1238.6 154.4,1237.4 156.7,1234.8 159.0,1232.6 161.3,1238.8 163.6,1255.2 165.4,1259.8 167.7,1225.6 170.0,1195.1 172.3,1187.9 174.6,1191.3 176.9,1211.2 179.2,1232.3 181.5,1239.5 184.3,1240.3 186.6,1244.3 188.9,1246.1 191.1,1248.7 193.4,1253.0 195.7,1236.9 198.0,1218.0 200.3,1200.5 202.6,1181.4 204.9,1165.9 207.2,1156.6 209.5,1153.6 211.8,1152.2 214.1,1154.3 216.4,1162.8 218.7,1167.9 221.0,1168.4 223.3,1172.9 225.6,1177.2 227.9,1181.8 230.2,1173.0 232.5,1167.4 234.8,1165.6 237.1,1165.7 239.4,1162.9 241.7,1163.3 244.0,1168.0 246.3,1167.6 248.6,1163.0 250.9,1140.0 253.2,1106.4 255.5,1098.6 257.8,1082.6 260.1,1064.6 262.4,1069.0 264.7,1089.9 267.0,1112.5 270.0,1132.9 270.3,1129.3 272.6,1131.5 274.9,1131.3 277.2,1133.4 279.5,1143.0 281.8,1156.1 284.1,1163.0 286.4,1151.4 288.7,1146.8 291.0,1145.2 293.3,1138.0 295.6,1130.7 297.9,1130.6 300.2,1124.9 302.5,1119.1 304.8,1121.7 307.1,1117.0 309.4,1112.8 311.7,1110.5 314.0,1114.7 316.3,1119.4 318.6,1124.8 320.9,1131.7 323.2,1135.9 325.5,1140.9 327.8,1160.6 330.1,1186.0 332.4,1211.8 334.7,1225.1 337.0,1221.3 339.3,1215.7 341.6,1220.6 343.9,1216.7 346.2,1212.1 348.5,1207.2 350.8,1220.9 353.1,1239.3 355.4,1237.3 357.7,1232.3 360.0,1236.5 362.3,1231.9 364.6,1231.9 366.9,1245.6 369.2,1257.6 371.5,1260.1 373.8,1259.4 376.1,1259.7 378.4,1261.9 380.7,1264.0 383.0,1268.5 385.3,1269.5 387.6,1259.6 389.9,1257.3 392.2,1262.2 394.5,1266.8 396.8,1271.3 399.1,1276.3 401.4,1287.0 403.7,1297.2 406.0,1303.9 408.3,1301.8 410.6,1287.7 412.9,1285.6 415.2,1280.8 417.5,1278.5 419.8,1280.2 422.1,1282.4 424.4,1276.2 426.7,1266.6 429.0,1264.2 431.3,1262.0 433.6,1258.2 435.9,1252.5 437.9,1251.9 440.0,1252.0 440.3,1252.1 442.1,1251.1 443.8,1250.7 445.5,1250.2 447.2,1249.8 448.9,1247.9 450.7,1246.7 453.0,1246.7 455.3,1248.0 457.6,1250.4 459.9,1243.8 462.2,1245.8 463.9,1246.5 465.6,1245.8 467.9,1247.5 470.2,1241.5 472.5,1214.2 474.8,1182.1 477.1,1159.1 479.4,1146.9 481.7,1158.7 484.0,1172.6 486.3,1195.8 488.6,1207.0 490.9,1207.5 493.2,1211.4 495.5,1220.3 497.8,1209.5 500.1,1177.1 502.4,1163.8 504.7,1158.6 507.0,1140.3 509.3,1117.0 511.6,1091.7 513.9,1085.1 516.2,1091.8 518.5,1093.9 520.8,1098.6 523.1,1108.2 525.4,1114.5 527.7,1121.7 530.0,1131.7 532.3,1128.3 534.6,1121.9 536.9,1124.3 539.2,1144.5 541.5,1172.3 543.8,1195.6 546.1,1202.9 548.4,1206.5 550.7,1211.8 553.0,1218.7 555.3,1232.8 557.6,1243.7 559.9,1232.6 562.2,1223.6 564.5,1225.1 566.8,1216.0 569.1,1206.8 571.4,1213.4 573.7,1230.2 576.0,1243.9 578.3,1252.8 580.6,1262.0 582.9,1271.9 585.9,1281.4 588.6,1278.5 590.9,1274.1 593.2,1269.2 595.5,1262.4 597.8,1257.5 600.1,1251.2 602.4,1246.2 604.7,1238.7 607.0,1227.6 610.0,1211.7 611.7,1205.0 614.0,1193.2 616.8,1188.8 619.2,1198.9 621.5,1210.2 623.8,1212.8 626.2,1201.1 628.5,1198.6 630.8,1188.9 633.2,1184.5 635.5,1193.3 637.9,1211.8 640.2,1216.9 642.5,1212.5 644.9,1217.0 647.2,1200.4 649.5,1207.5 651.9,1225.9 654.2,1238.4 656.6,1226.1 658.9,1214.6 661.2,1207.9 663.6,1207.8 665.9,1214.4 668.2,1230.9 670.6,1235.6 672.9,1233.5 675.3,1238.5 677.6,1240.4 679.9,1247.7 682.3,1242.6 684.6,1247.0 686.9,1240.1 689.3,1222.0 691.6,1193.8 693.9,1170.2 696.3,1160.3 698.6,1167.7 701.0,1174.5 703.3,1170.6 705.6,1160.4 708.0,1146.5 710.3,1137.9 712.6,1142.7 715.0,1165.5 717.3,1173.2 719.7,1175.3 722.0,1181.6 724.3,1180.1 726.7,1169.9 729.0,1168.3 731.3,1172.4 733.7,1172.8 736.0,1170.3 738.4,1163.1 740.7,1142.1 743.0,1125.3 745.4,1129.9 747.7,1160.6 750.0,1165.6" fill="none" stroke="#ff0000" stroke-width="2.8" stroke-linejoin="round" stroke-linecap="round"/>
</g>
<rect x="69.1" y="1034.6" width="713.3" height="353.20000000000005" fill="none" stroke="#222" stroke-width="1.3"/>
<line x1="64.6" y1="1061.6" x2="69.1" y2="1061.6" stroke="#222" stroke-width="1.2"/>
<text x="59.49999999999999" y="1068.0" text-anchor="end" font-family="DejaVu Sans, Liberation Sans, sans-serif" font-size="16.6" fill="#111" stroke="#111" stroke-width="0.3">2.5</text>
<line x1="64.6" y1="1137.3" x2="69.1" y2="1137.3" stroke="#222" stroke-width="1.2"/>
<text x="59.49999999999999" y="1143.8" text-anchor="end" font-family="DejaVu Sans, Liberation Sans, sans-serif" font-size="16.6" fill="#111" stroke="#111" stroke-width="0.3">2.0</text>
<line x1="64.6" y1="1213.1" x2="69.1" y2="1213.1" stroke="#222" stroke-width="1.2"/>
<text x="59.49999999999999" y="1219.5" text-anchor="end" font-family="DejaVu Sans, Liberation Sans, sans-serif" font-size="16.6" fill="#111" stroke="#111" stroke-width="0.3">1.5</text>
<line x1="64.6" y1="1288.8" x2="69.1" y2="1288.8" stroke="#222" stroke-width="1.2"/>
<text x="59.49999999999999" y="1295.2" text-anchor="end" font-family="DejaVu Sans, Liberation Sans, sans-serif" font-size="16.6" fill="#111" stroke="#111" stroke-width="0.3">1.0</text>
<line x1="64.6" y1="1364.6" x2="69.1" y2="1364.6" stroke="#222" stroke-width="1.2"/>
<text x="59.49999999999999" y="1371.0" text-anchor="end" font-family="DejaVu Sans, Liberation Sans, sans-serif" font-size="16.6" fill="#111" stroke="#111" stroke-width="0.3">0.5</text>
<line x1="101.1" y1="1387.8" x2="101.1" y2="1392.3" stroke="#222" stroke-width="1.2"/>
<text x="101.1" y="1409.8" text-anchor="middle" font-family="DejaVu Sans, Liberation Sans, sans-serif" font-size="16.6" fill="#111" stroke="#111" stroke-width="0.3">0</text>
<line x1="232.9" y1="1387.8" x2="232.9" y2="1392.3" stroke="#222" stroke-width="1.2"/>
<text x="232.9" y="1409.8" text-anchor="middle" font-family="DejaVu Sans, Liberation Sans, sans-serif" font-size="16.6" fill="#111" stroke="#111" stroke-width="0.3">200</text>
<line x1="364.7" y1="1387.8" x2="364.7" y2="1392.3" stroke="#222" stroke-width="1.2"/>
<text x="364.7" y="1409.8" text-anchor="middle" font-family="DejaVu Sans, Liberation Sans, sans-serif" font-size="16.6" fill="#111" stroke="#111" stroke-width="0.3">400</text>
<line x1="496.5" y1="1387.8" x2="496.5" y2="1392.3" stroke="#222" stroke-width="1.2"/>
<text x="496.5" y="1409.8" text-anchor="middle" font-family="DejaVu Sans, Liberation Sans, sans-serif" font-size="16.6" fill="#111" stroke="#111" stroke-width="0.3">600</text>
<line x1="628.3" y1="1387.8" x2="628.3" y2="1392.3" stroke="#222" stroke-width="1.2"/>
<text x="628.3" y="1409.8" text-anchor="middle" font-family="DejaVu Sans, Liberation Sans, sans-serif" font-size="16.6" fill="#111" stroke="#111" stroke-width="0.3">800</text>
<line x1="760.1" y1="1387.8" x2="760.1" y2="1392.3" stroke="#222" stroke-width="1.2"/>
<text x="760.1" y="1409.8" text-anchor="middle" font-family="DejaVu Sans, Liberation Sans, sans-serif" font-size="16.6" fill="#111" stroke="#111" stroke-width="0.3">1000</text>
<text x="358.5" y="1431.5" font-family="DejaVu Sans, Liberation Sans, sans-serif" font-size="16.65" fill="#111" stroke="#111" stroke-width="0.3">Sample number</text>
<text transform="translate(24.6,1212.5) rotate(-90)" text-anchor="middle" font-family="DejaVu Sans, Liberation Sans, sans-serif" font-size="16.8" fill="#111" stroke="#111" stroke-width="0.3">Significant Wave Height(m)</text>
<rect x="661.7" y="1277.3" width="114.7" height="105.3" rx="3" fill="#fff" fill-opacity="0.8" stroke="#ccc" stroke-width="1"/>
<line x1="665.5" y1="1287.1" x2="689.8" y2="1287.1" stroke="#1f77b4" stroke-width="1.3"/>
<text x="698.5" y="1291.2" font-family="DejaVu Sans, Liberation Sans, sans-serif" font-size="11.4" fill="#111" stroke="#111" stroke-width="0.3">GRU</text>
<line x1="665.5" y1="1304.1" x2="689.8" y2="1304.1" stroke="#ff7f0e" stroke-width="1.3"/>
<text x="698.5" y="1308.2" font-family="DejaVu Sans, Liberation Sans, sans-serif" font-size="11.4" fill="#111" stroke="#111" stroke-width="0.3">LSTM</text>
<line x1="665.5" y1="1321.0" x2="689.8" y2="1321.0" stroke="#808080" stroke-width="1.3"/>
<text x="698.5" y="1325.1" font-family="DejaVu Sans, Liberation Sans, sans-serif" font-size="11.4" fill="#111" stroke="#111" stroke-width="0.3">RF</text>
<line x1="665.5" y1="1338.0" x2="689.8" y2="1338.0" stroke="#8a2be2" stroke-width="1.3"/>
<text x="698.5" y="1342.1" font-family="DejaVu Sans, Liberation Sans, sans-serif" font-size="11.4" fill="#111" stroke="#111" stroke-width="0.3">LR</text>
<line x1="665.5" y1="1354.9" x2="689.8" y2="1354.9" stroke="#008000" stroke-width="2.7"/>
<text x="698.5" y="1359.0" font-family="DejaVu Sans, Liberation Sans, sans-serif" font-size="11.4" fill="#111" stroke="#111" stroke-width="0.3">truth</text>
<line x1="665.5" y1="1371.9" x2="689.8" y2="1371.9" stroke="#ff0000" stroke-width="2.7"/>
<text x="698.5" y="1376.0" font-family="DejaVu Sans, Liberation Sans, sans-serif" font-size="11.4" fill="#111" stroke="#111" stroke-width="0.3">EEMD+LSTM</text>
<text transform="translate(372,1468.6) scale(1,1)" font-family="Liberation Serif, serif" font-size="37" fill="#111" stroke="#111" stroke-width="0.3">(c)</text>
<clipPath id="cd"><rect x="69.1" y="1550.9" width="713.3" height="354.6999999999998"/></clipPath>
<g clip-path="url(#cd)">
<polyline points="100.3,1728.6 102.6,1774.9 104.9,1747.0 107.2,1734.3 109.5,1750.7 111.8,1756.4 114.1,1728.7 116.4,1751.1 118.7,1763.5 120.5,1762.9 122.2,1760.0 123.9,1760.1 125.6,1761.6 128.6,1739.4 131.4,1777.2 134.1,1761.0 137.1,1759.2 138.8,1757.2 140.6,1753.1 142.3,1760.1 144.0,1765.1 145.8,1769.2 147.5,1775.3 150.2,1764.7 152.1,1760.6 153.9,1755.8 156.7,1766.6 159.0,1750.2 161.7,1744.5 164.0,1749.4 167.0,1785.9 169.3,1785.2 172.3,1719.6 174.6,1715.5 176.9,1729.7 180.1,1792.0 183.1,1765.6 186.1,1747.9 188.9,1751.8 190.6,1750.2 192.3,1749.1 194.0,1747.4 195.7,1745.4 197.4,1737.4 199.2,1729.5 200.9,1715.8 202.6,1701.5 204.3,1687.2 206.1,1674.3 208.4,1650.4 210.7,1641.8 212.4,1646.6 214.1,1653.5 216.4,1671.6 218.7,1672.4 220.4,1671.9 222.2,1674.1 223.9,1669.0 225.6,1665.0 227.9,1678.4 230.2,1663.4 233.0,1651.9 236.0,1663.4 239.0,1660.6 241.3,1639.8 243.6,1658.3 245.9,1654.3 248.6,1642.7 250.9,1625.3 253.7,1620.0 256.7,1606.3 259.0,1640.9 261.3,1637.0 264.3,1647.8 267.0,1672.6 270.0,1707.9 270.3,1711.7 272.0,1683.8 273.8,1694.9 276.1,1676.0 278.9,1632.6 280.7,1652.2 282.4,1681.9 284.1,1710.7 286.4,1681.8 288.7,1636.3 291.0,1645.3 293.3,1636.6 295.6,1633.4 297.9,1659.7 300.2,1652.0 302.5,1643.2 304.8,1645.2 307.1,1654.2 309.4,1653.9 311.7,1658.4 314.0,1653.4 315.8,1652.4 317.5,1654.2 319.2,1671.0 320.9,1688.9 323.2,1673.1 325.5,1629.4 326.7,1670.3 329.0,1704.9 331.3,1746.6 333.6,1792.7 335.9,1773.7 338.2,1748.0 340.5,1745.7 342.8,1734.1 344.5,1743.6 346.2,1752.1 348.5,1734.6 350.1,1698.6 352.0,1741.7 353.8,1789.1 356.1,1765.8 358.9,1753.1 360.6,1750.1 362.3,1747.4 364.0,1750.6 365.7,1753.0 367.4,1762.2 369.2,1776.0 370.9,1770.5 372.6,1765.0 374.4,1770.3 376.1,1774.3 377.8,1769.4 379.5,1765.9 381.2,1765.7 383.0,1766.5 384.7,1765.4 386.4,1766.7 388.1,1770.0 389.9,1773.3 391.6,1772.9 393.3,1774.0 395.1,1774.8 396.8,1775.4 398.5,1781.3 400.2,1787.6 401.9,1794.2 403.7,1801.4 405.4,1804.1 407.1,1808.0 408.9,1809.1 410.6,1808.8 412.3,1801.1 414.0,1794.5 415.8,1790.2 417.5,1788.2 419.2,1787.6 420.9,1784.9 422.6,1782.0 424.4,1780.2 426.1,1777.7 427.8,1774.5 429.6,1773.3 431.3,1773.1 433.0,1771.8 434.7,1772.1 436.5,1773.1 438.2,1773.6 440.0,1773.6 440.3,1774.7 442.2,1772.3 444.2,1770.2 446.1,1768.8 448.4,1763.5 450.7,1759.9 452.4,1760.3 454.1,1759.2 455.9,1761.1 457.6,1760.6 459.9,1758.9 462.2,1755.9 464.5,1760.9 466.8,1763.7 469.1,1761.3 471.4,1760.8 473.1,1754.6 474.8,1747.2 477.1,1717.7 478.3,1791.0 480.1,1698.6 481.7,1625.7 482.9,1567.9 483.8,1660.0 484.7,1789.9 487.0,1764.1 489.3,1793.2 491.6,1788.3 493.9,1729.2 496.7,1744.1 497.8,1779.0 500.1,1716.1 503.1,1692.3 505.9,1663.5 508.6,1619.8 511.6,1612.0 514.6,1625.7 517.4,1632.4 519.1,1638.1 520.8,1642.9 523.1,1660.4 523.8,1748.2 525.4,1662.2 527.7,1689.5 530.7,1678.5 533.4,1659.1 536.2,1635.1 538.0,1601.1 539.9,1661.0 542.2,1719.0 544.9,1790.0 547.2,1788.1 549.5,1751.8 551.2,1756.6 553.0,1764.3 556.0,1745.0 557.8,1785.9 560.6,1764.1 563.3,1745.3 565.0,1738.4 566.8,1731.5 568.5,1731.1 570.2,1730.0 572.0,1737.4 573.7,1746.1 575.4,1754.1 577.1,1763.7 578.9,1767.3 580.6,1772.3 583.6,1766.2 586.3,1771.0 588.0,1775.1 589.8,1780.0 591.5,1777.9 593.2,1774.5 595.0,1771.3 596.7,1764.5 598.4,1762.1 600.1,1755.8 602.4,1752.2 604.7,1748.8 606.5,1747.6 608.2,1744.9 610.0,1741.9 611.7,1727.5 614.0,1745.4 616.4,1712.6 618.7,1707.0 621.0,1744.1 623.4,1751.4 625.7,1731.4 628.0,1718.8 630.4,1689.8 632.7,1662.9 635.1,1666.5 637.4,1728.2 639.7,1737.2 642.1,1734.5 644.4,1760.0 646.7,1755.4 648.5,1752.2 650.2,1749.4 652.6,1775.6 654.2,1793.6 656.6,1773.2 659.6,1736.2 661.9,1715.0 663.6,1723.3 665.4,1731.6 667.1,1757.5 668.9,1782.9 671.3,1777.9 673.6,1760.5 675.4,1750.8 677.1,1744.3 679.5,1749.2 681.2,1751.8 683.0,1754.7 686.0,1769.4 688.8,1749.0 691.6,1708.3 694.6,1685.3 697.0,1662.5 699.3,1650.4 701.0,1668.2 702.8,1686.0 705.6,1685.1 708.7,1658.3 711.0,1627.9 712.6,1609.2 715.0,1673.3 717.6,1775.6 720.4,1721.1 722.7,1708.1 724.5,1702.5 726.2,1694.7 728.5,1673.5 731.3,1658.3 734.4,1685.5 736.1,1684.5 737.9,1685.0 740.7,1676.8 743.7,1586.7 745.6,1622.2 746.8,1637.4 747.7,1708.0 748.9,1789.4 750.0,1777.6" fill="none" stroke="#1f77b4" stroke-width="1.4" stroke-linejoin="round" stroke-linecap="round"/>
<polyline points="100.3,1746.1 102.6,1743.4 104.3,1734.7 106.1,1725.8 108.4,1741.7 110.7,1740.1 113.0,1702.4 114.8,1729.2 117.1,1757.6 119.9,1748.3 122.2,1765.2 124.5,1771.2 127.2,1744.2 129.1,1712.6 131.4,1742.9 133.7,1759.7 136.0,1750.7 138.3,1739.2 140.6,1752.1 143.3,1741.5 145.2,1713.5 147.5,1744.7 150.2,1747.6 153.2,1744.3 154.9,1742.5 156.7,1740.9 158.4,1738.8 160.1,1735.5 162.4,1726.2 164.7,1734.1 167.0,1860.6 169.3,1753.0 171.6,1706.9 173.4,1675.8 175.5,1695.0 177.8,1734.1 180.1,1751.8 183.1,1748.2 184.8,1745.9 186.6,1743.4 189.3,1747.5 192.3,1744.9 194.0,1736.9 195.7,1728.9 197.4,1718.0 199.2,1705.1 200.9,1696.8 202.6,1688.0 204.3,1681.2 206.1,1673.3 208.4,1669.6 210.1,1673.5 211.8,1677.7 213.6,1683.0 215.3,1686.5 217.0,1689.6 218.7,1691.8 220.4,1691.7 222.2,1691.9 223.9,1695.1 225.6,1695.9 227.3,1695.2 229.1,1691.4 230.8,1692.3 232.5,1693.1 234.2,1686.6 236.0,1683.4 237.7,1678.1 239.4,1674.7 241.2,1678.8 242.9,1682.6 244.6,1679.2 246.3,1674.5 248.1,1663.6 249.8,1652.9 251.5,1647.6 253.2,1641.3 254.9,1635.3 256.7,1626.7 259.0,1617.8 261.3,1627.1 264.3,1644.6 267.0,1663.7 270.0,1674.0 270.3,1682.5 272.6,1687.3 274.9,1670.0 277.2,1654.1 279.5,1644.6 281.8,1658.0 284.1,1689.4 286.4,1692.1 288.7,1664.1 290.4,1660.2 292.2,1654.7 293.9,1652.6 295.6,1649.3 297.9,1659.7 300.2,1674.6 302.5,1665.7 304.8,1653.0 307.1,1672.5 309.4,1653.3 312.4,1653.2 315.2,1655.4 316.9,1654.8 318.6,1655.7 320.4,1655.0 322.1,1653.5 325.1,1641.5 326.7,1659.4 329.0,1691.0 331.3,1728.2 333.6,1741.2 335.3,1737.0 337.0,1736.8 340.0,1728.5 343.2,1707.0 345.5,1733.0 348.5,1702.3 350.8,1706.5 353.1,1727.8 356.1,1740.0 358.9,1742.8 360.6,1747.8 362.3,1751.8 365.3,1724.5 368.0,1752.1 369.8,1759.0 371.5,1766.0 373.2,1763.8 374.9,1762.2 376.6,1766.3 378.4,1768.7 380.1,1746.7 381.8,1725.9 384.1,1756.6 385.9,1761.7 387.6,1765.8 389.6,1756.6 391.5,1748.1 394.5,1766.2 396.2,1761.6 397.9,1757.0 400.7,1775.3 403.7,1788.1 405.4,1797.0 407.1,1805.8 408.9,1803.6 410.6,1799.5 412.9,1778.0 414.6,1778.4 416.3,1782.1 418.1,1784.3 419.8,1789.1 421.5,1781.4 423.2,1774.9 424.9,1769.2 426.7,1766.4 428.6,1758.8 430.6,1751.6 433.6,1765.8 435.3,1761.4 437.0,1756.4 440.0,1758.5 440.3,1752.5 442.6,1764.7 444.4,1761.4 446.1,1756.9 447.8,1752.3 449.5,1748.4 451.2,1745.3 453.0,1744.9 454.7,1748.9 456.4,1751.1 458.1,1749.9 459.9,1747.3 461.7,1723.0 464.0,1740.9 465.9,1741.6 467.9,1744.7 469.6,1749.2 471.4,1751.8 473.1,1739.5 474.8,1726.8 477.1,1701.9 479.4,1658.8 481.0,1612.9 482.9,1567.9 483.8,1890.1 484.7,1623.7 486.3,1683.9 488.6,1720.2 490.9,1733.6 493.2,1705.5 495.5,1728.0 497.8,1749.2 500.1,1706.8 503.1,1684.1 505.9,1653.9 508.2,1633.2 510.5,1613.6 512.8,1605.8 515.1,1612.4 517.4,1632.7 520.1,1642.5 523.1,1654.3 524.7,1670.5 526.6,1672.6 529.3,1678.2 532.3,1671.2 535.3,1649.6 538.0,1606.7 539.9,1649.3 542.6,1705.7 544.9,1722.1 546.6,1726.7 548.4,1733.2 550.1,1730.2 551.8,1729.5 553.9,1711.4 556.0,1693.5 558.3,1751.0 561.0,1744.6 562.8,1740.6 564.5,1736.5 566.2,1731.7 567.9,1728.0 569.6,1715.1 571.4,1699.0 573.7,1738.8 575.4,1746.2 577.1,1757.1 578.9,1762.9 580.6,1770.4 582.3,1772.6 584.0,1774.4 585.8,1776.8 587.5,1779.4 589.2,1777.5 590.9,1773.8 593.2,1770.9 595.5,1766.6 597.8,1761.7 600.1,1756.7 602.4,1751.1 604.7,1747.6 606.5,1744.3 608.2,1742.0 610.0,1738.8 612.9,1723.2 614.6,1711.6 616.4,1701.2 618.7,1664.4 621.0,1702.9 623.4,1713.6 625.1,1714.2 626.9,1712.2 628.6,1711.1 630.4,1707.6 632.1,1694.9 633.9,1683.2 636.9,1712.2 639.3,1722.8 641.6,1820.9 642.5,1754.2 643.9,1687.0 646.7,1737.0 649.1,1697.1 650.9,1658.6 653.3,1707.7 655.2,1764.4 657.3,1750.6 659.0,1741.1 660.8,1733.2 663.6,1708.6 666.6,1689.1 669.6,1721.5 671.2,1729.0 672.9,1735.5 676.0,1740.9 679.0,1731.8 681.8,1726.8 684.6,1745.5 687.6,1731.5 689.4,1718.1 691.1,1703.0 692.9,1694.6 694.6,1685.3 697.7,1664.8 699.4,1667.2 701.0,1671.5 704.0,1681.3 707.0,1675.9 709.8,1660.7 712.6,1618.4 715.0,1653.3 718.0,1704.0 719.8,1708.7 721.5,1713.2 723.2,1710.9 725.0,1705.2 728.1,1692.7 730.9,1672.1 732.6,1679.0 734.4,1684.7 736.1,1687.1 737.9,1689.9 739.6,1685.7 741.4,1680.3 743.7,1606.9 746.1,1634.2 747.7,1684.7 749.1,1726.6 750.0,1724.0" fill="none" stroke="#ff7f0e" stroke-width="1.4" stroke-linejoin="round" stroke-linecap="round"/>
<polyline points="100.3,1743.9 102.6,1736.9 104.9,1739.2 106.7,1750.3 108.4,1761.8 110.7,1766.5 113.0,1744.3 115.3,1756.5 117.6,1769.1 119.3,1768.1 121.0,1765.7 122.8,1769.1 124.5,1770.6 126.8,1786.9 129.1,1752.7 130.9,1737.3 133.2,1751.5 136.0,1766.7 137.7,1761.2 139.4,1757.0 141.2,1751.1 142.9,1744.9 144.9,1723.0 147.0,1701.7 148.6,1732.4 150.9,1753.4 153.9,1726.8 156.7,1744.7 159.0,1700.9 160.8,1715.2 163.1,1697.7 164.7,1731.1 167.0,1720.0 169.3,1727.0 172.3,1683.9 175.1,1679.0 176.9,1661.0 179.2,1691.6 181.5,1733.6 184.3,1751.8 187.0,1764.3 190.0,1758.5 191.7,1739.0 193.4,1717.7 195.3,1743.1 198.0,1764.6 200.3,1739.5 202.1,1723.9 203.8,1704.9 206.8,1652.4 209.5,1651.7 211.8,1663.7 214.1,1678.1 216.9,1693.5 218.7,1726.0 221.0,1702.2 223.8,1690.6 227.0,1672.9 230.2,1682.8 233.0,1660.8 236.0,1651.4 239.0,1672.9 241.7,1659.6 244.0,1690.6 246.8,1678.1 249.1,1684.6 251.6,1710.4 254.4,1669.9 256.7,1641.0 259.0,1618.8 261.3,1624.0 263.0,1630.0 264.7,1635.5 267.0,1655.0 270.0,1613.8 270.3,1652.5 272.6,1663.8 274.9,1683.6 277.2,1677.3 278.9,1665.3 280.7,1650.9 283.0,1677.2 285.7,1710.7 287.6,1721.4 289.9,1687.0 292.2,1647.6 294.5,1632.1 296.1,1608.0 297.9,1649.0 300.9,1690.9 303.7,1646.9 305.5,1612.9 307.1,1653.5 308.9,1652.6 310.6,1650.6 312.3,1649.4 314.0,1646.5 315.8,1644.6 317.5,1641.1 320.2,1651.5 322.5,1648.2 325.5,1682.4 328.5,1706.1 331.3,1728.8 333.6,1740.3 335.3,1740.3 337.0,1737.2 340.0,1733.4 342.8,1733.1 344.5,1734.9 346.2,1736.0 349.2,1721.5 352.0,1743.2 354.7,1753.0 357.7,1747.1 360.7,1743.1 363.4,1751.7 366.2,1708.1 368.0,1747.5 370.8,1766.6 373.8,1773.2 375.5,1769.0 377.2,1765.8 378.9,1770.8 380.7,1774.5 383.0,1756.1 384.7,1765.2 386.4,1775.9 388.1,1768.0 389.9,1764.3 392.9,1772.8 395.6,1778.5 397.9,1788.5 400.7,1788.2 403.7,1801.6 406.7,1806.6 409.4,1805.0 412.2,1792.2 415.2,1787.6 416.9,1784.2 418.6,1781.5 420.4,1784.9 422.1,1785.4 423.8,1778.9 425.5,1770.6 427.2,1768.9 429.0,1767.1 430.7,1767.1 432.4,1764.7 434.1,1765.7 435.9,1765.5 437.9,1764.3 440.0,1760.8 440.3,1765.7 442.1,1760.2 443.8,1757.5 445.5,1752.8 447.2,1746.7 448.9,1745.6 450.7,1742.5 452.4,1746.1 454.1,1747.9 455.9,1751.6 457.6,1755.2 459.3,1748.6 461.0,1745.0 462.8,1748.1 464.5,1752.7 466.8,1757.3 469.1,1760.2 470.8,1759.9 472.5,1755.7 474.8,1747.1 477.1,1704.2 479.4,1722.3 482.4,1711.2 485.2,1669.1 487.5,1705.4 490.2,1747.8 493.2,1733.2 494.9,1726.8 496.7,1719.5 499.4,1705.5 502.4,1686.6 504.1,1672.9 505.9,1661.1 507.6,1646.5 509.3,1631.9 511.0,1622.4 512.8,1614.7 515.5,1599.5 516.9,1597.6 518.5,1648.6 520.1,1684.0 522.4,1655.0 524.3,1611.0 526.6,1648.4 529.3,1660.9 532.3,1677.8 533.9,1706.5 535.7,1688.1 537.6,1644.8 540.3,1637.3 542.6,1682.1 544.4,1703.8 546.1,1725.3 547.8,1732.7 549.5,1741.6 551.2,1740.4 553.0,1741.8 554.7,1732.3 556.4,1721.3 558.1,1735.8 559.9,1750.8 562.2,1762.8 563.9,1752.6 565.6,1741.6 567.4,1735.5 569.1,1728.8 570.8,1725.0 572.5,1721.7 575.3,1743.3 578.3,1766.1 580.0,1774.4 581.7,1781.0 583.5,1780.4 585.2,1778.0 586.9,1772.3 588.6,1766.1 590.9,1760.7 593.7,1798.9 596.7,1766.7 599.0,1759.3 601.3,1751.9 603.6,1747.7 605.9,1743.9 608.0,1743.5 610.0,1740.6 612.9,1722.6 614.6,1710.5 616.4,1696.1 618.5,1682.5 620.6,1667.8 623.4,1727.5 625.1,1723.6 626.9,1718.8 628.6,1711.4 630.4,1704.2 632.1,1684.6 633.9,1665.8 636.9,1662.8 639.7,1689.7 642.5,1749.8 645.6,1755.2 647.4,1727.2 649.1,1699.6 651.9,1680.9 654.9,1755.4 658.0,1746.9 659.6,1729.3 661.2,1712.9 664.3,1697.5 666.0,1702.0 667.8,1707.6 670.1,1747.4 672.9,1751.6 676.0,1737.4 679.0,1745.8 681.8,1751.4 683.5,1761.8 685.3,1772.8 688.3,1755.4 690.0,1737.4 691.6,1719.7 694.6,1676.5 696.4,1661.9 698.2,1650.6 701.0,1658.3 704.0,1731.0 706.3,1693.9 709.4,1653.3 712.2,1614.8 714.5,1605.5 716.8,1661.1 719.2,1722.3 721.5,1716.4 724.3,1705.3 727.4,1674.7 729.7,1644.6 732.7,1677.1 735.5,1677.0 737.3,1673.5 739.1,1671.8 741.0,1652.7 743.0,1634.5 745.4,1608.9 747.7,1612.1 749.1,1686.1 750.0,1708.6" fill="none" stroke="#808080" stroke-width="1.4" stroke-linejoin="round" stroke-linecap="round"/>
<polyline points="100.3,1714.9 102.6,1734.3 104.9,1737.9 106.7,1744.0 108.4,1751.4 110.1,1750.8 111.8,1746.5 114.1,1735.0 116.4,1745.1 118.7,1766.4 120.5,1767.3 122.2,1769.7 123.9,1766.1 125.6,1764.2 127.9,1765.4 130.2,1748.1 131.9,1751.8 133.7,1756.8 135.4,1752.8 137.1,1748.2 138.8,1749.5 140.6,1752.6 142.3,1749.1 144.0,1747.9 145.8,1744.6 147.5,1741.1 149.2,1742.3 150.9,1743.4 152.7,1746.1 154.4,1748.0 156.1,1754.4 157.8,1760.2 159.6,1752.4 161.3,1745.6 163.6,1759.9 165.3,1776.1 167.0,1795.1 169.3,1763.9 171.6,1728.7 173.9,1710.5 176.2,1704.5 178.5,1719.8 180.8,1744.6 183.1,1756.9 185.4,1757.6 187.2,1759.3 188.9,1762.2 190.6,1759.2 192.3,1757.2 194.0,1754.5 195.7,1754.9 198.0,1741.9 200.3,1728.0 202.6,1714.0 204.9,1697.9 207.2,1688.4 209.5,1679.0 211.8,1683.2 213.6,1684.3 215.3,1686.6 217.0,1690.4 218.7,1691.8 220.4,1694.4 222.2,1695.3 223.9,1695.4 225.6,1696.9 227.3,1696.0 229.1,1693.8 230.8,1693.4 232.5,1692.5 234.2,1689.9 236.0,1686.8 237.7,1689.7 239.4,1690.8 241.2,1688.9 242.9,1686.9 244.6,1687.0 246.3,1685.4 248.1,1685.1 249.8,1684.5 252.1,1682.0 254.4,1660.1 256.7,1641.1 259.0,1620.2 261.3,1605.9 263.0,1601.5 264.7,1601.2 267.0,1619.0 270.0,1637.9 270.3,1621.9 272.6,1633.6 274.9,1642.8 277.2,1651.9 278.9,1655.7 280.7,1659.7 282.4,1667.7 284.1,1673.1 286.4,1678.0 288.1,1681.0 289.9,1682.2 291.6,1677.5 293.3,1673.3 295.1,1667.7 296.8,1661.0 298.5,1663.3 300.2,1664.9 302.5,1654.9 304.2,1653.7 306.0,1653.9 307.7,1651.7 309.4,1651.5 311.1,1652.2 312.9,1652.9 314.6,1653.8 316.3,1652.1 318.1,1654.3 319.8,1658.7 321.5,1656.6 323.2,1658.8 324.9,1660.7 326.7,1663.4 329.0,1677.8 331.3,1693.3 333.6,1727.8 335.9,1737.3 337.6,1738.1 339.3,1738.7 341.1,1737.3 342.8,1735.9 344.5,1733.2 346.2,1730.2 347.9,1727.5 349.7,1725.2 352.0,1718.9 354.3,1738.1 356.0,1743.0 357.7,1748.5 359.4,1748.3 361.1,1745.8 362.9,1742.8 364.6,1741.3 366.3,1744.2 368.0,1746.5 370.3,1763.3 372.1,1766.5 373.8,1770.1 375.5,1769.9 377.2,1770.9 378.9,1772.2 380.7,1771.6 382.4,1773.2 384.1,1773.7 385.9,1773.5 387.6,1776.0 389.3,1775.8 391.0,1774.8 392.8,1777.1 394.5,1778.2 396.2,1780.3 397.9,1784.1 399.6,1789.2 401.4,1795.9 403.1,1797.3 404.8,1799.0 406.6,1797.2 408.3,1795.6 410.0,1794.8 411.7,1792.3 413.4,1792.1 415.2,1788.1 416.9,1787.9 418.6,1786.1 420.4,1786.4 422.1,1789.2 423.8,1786.6 425.5,1783.4 427.2,1782.4 429.0,1782.4 430.7,1778.4 432.4,1777.3 434.1,1775.4 435.9,1772.6 437.9,1771.1 440.0,1770.4 440.3,1774.5 442.2,1773.3 444.2,1770.8 446.1,1769.4 448.4,1767.6 450.7,1765.1 453.0,1761.4 455.3,1759.6 457.6,1760.6 459.9,1760.8 462.2,1759.8 464.5,1758.0 466.8,1758.6 469.1,1757.0 470.8,1754.3 472.5,1751.6 474.2,1737.8 476.0,1725.2 477.7,1707.0 479.4,1686.3 482.4,1631.5 484.0,1669.4 486.3,1700.1 489.3,1726.1 492.1,1742.2 493.8,1741.0 495.5,1738.6 497.2,1740.3 499.0,1741.7 501.7,1711.5 504.7,1687.0 506.4,1679.5 508.2,1668.5 510.5,1646.5 513.2,1628.4 516.2,1619.4 518.0,1626.8 519.7,1636.8 521.4,1630.6 523.1,1626.0 525.4,1651.1 528.4,1659.8 531.1,1665.3 532.9,1658.2 534.6,1652.1 536.3,1651.6 538.0,1647.8 540.3,1672.7 542.0,1690.5 543.8,1707.0 545.5,1712.3 547.2,1719.8 549.0,1727.1 550.7,1736.7 552.4,1737.5 554.1,1737.6 555.9,1729.5 557.6,1721.3 559.3,1731.9 561.0,1742.7 562.8,1740.8 564.5,1741.4 566.2,1736.0 567.9,1730.3 569.6,1728.9 571.4,1725.2 573.1,1735.3 574.8,1748.4 576.5,1756.1 578.3,1762.6 580.6,1768.9 582.9,1775.3 584.6,1779.9 586.3,1784.6 588.0,1781.0 589.8,1778.6 591.5,1777.7 593.2,1774.6 595.0,1771.8 596.7,1770.6 599.0,1768.3 601.3,1766.7 603.6,1761.9 605.9,1759.6 608.0,1754.0 610.0,1747.5 612.9,1738.8 614.6,1738.3 616.4,1736.1 618.1,1720.1 619.9,1702.5 622.2,1718.8 625.2,1727.0 628.0,1727.2 629.8,1719.0 631.5,1709.1 633.3,1703.8 635.1,1699.9 637.4,1716.8 640.2,1742.5 643.2,1760.5 646.3,1751.3 649.1,1724.5 651.4,1696.7 653.8,1718.8 656.6,1743.0 659.6,1732.8 662.6,1724.9 664.6,1718.1 666.6,1713.8 669.6,1730.9 671.2,1740.2 672.9,1751.0 676.0,1750.6 677.8,1749.9 679.5,1747.3 681.2,1751.4 683.0,1756.4 684.8,1758.5 686.5,1760.7 688.2,1757.8 690.0,1755.4 691.8,1743.0 693.5,1732.5 695.8,1709.4 698.2,1690.8 701.0,1694.0 702.9,1698.2 704.7,1704.5 707.5,1695.4 709.2,1686.9 711.0,1680.9 713.3,1662.7 715.7,1676.2 718.0,1696.1 719.8,1702.0 721.5,1706.3 723.2,1704.1 725.0,1703.4 726.8,1702.7 728.5,1702.0 730.2,1699.7 732.0,1696.4 733.8,1692.5 735.5,1689.2 737.3,1692.4 739.1,1693.7 741.4,1693.9 743.7,1671.8 745.4,1653.5 747.7,1662.4 750.0,1685.8" fill="none" stroke="#8a2be2" stroke-width="1.4" stroke-linejoin="round" stroke-linecap="round"/>
<polyline points="100.3,1746.8 102.6,1744.9 104.9,1740.3 107.2,1742.5 109.5,1749.2 111.8,1756.5 114.1,1763.4 116.4,1770.0 118.7,1777.4 121.0,1763.4 123.3,1752.0 125.6,1758.3 127.9,1763.9 130.2,1760.6 131.9,1757.9 133.7,1753.7 135.4,1749.1 137.1,1744.9 139.4,1750.0 141.7,1758.8 143.4,1759.2 145.2,1758.9 146.9,1758.2 148.6,1756.5 150.3,1752.1 152.1,1747.7 154.4,1740.3 156.7,1743.1 159.0,1772.3 160.8,1789.9 163.1,1766.0 165.9,1719.2 168.2,1704.0 170.5,1706.5 172.8,1724.9 175.1,1752.2 177.4,1758.7 179.7,1761.3 182.0,1763.8 184.3,1761.4 186.6,1758.8 188.3,1756.4 190.0,1753.9 192.3,1744.7 194.6,1723.8 196.9,1706.0 199.2,1691.9 201.5,1678.1 203.8,1672.1 206.1,1673.3 208.4,1678.0 210.1,1678.7 211.8,1677.9 213.6,1682.1 215.3,1685.2 217.0,1687.9 218.7,1689.5 220.4,1692.3 222.2,1693.8 224.5,1692.2 226.8,1687.5 229.1,1680.2 230.8,1680.0 232.5,1678.7 234.2,1678.1 236.0,1677.9 237.7,1677.2 239.4,1676.9 241.2,1677.1 242.9,1677.7 245.9,1674.0 248.2,1655.6 249.8,1627.8 252.1,1618.1 254.4,1600.1 256.7,1579.1 258.3,1577.2 260.1,1591.1 262.4,1613.4 264.7,1637.5 267.0,1655.7 270.0,1669.1 270.3,1645.9 272.6,1641.7 274.9,1646.6 277.2,1663.9 279.5,1676.0 281.8,1673.1 284.1,1669.3 286.4,1661.6 288.7,1653.2 291.0,1649.0 293.3,1650.4 295.6,1643.8 297.9,1638.9 300.2,1641.6 302.5,1639.4 304.8,1634.6 307.1,1633.1 309.4,1632.2 311.7,1631.6 314.0,1634.1 316.3,1644.5 318.6,1647.9 320.9,1659.8 323.2,1682.9 325.5,1705.7 327.8,1722.3 330.1,1738.2 332.4,1740.2 334.7,1733.2 337.0,1731.6 339.3,1726.7 341.6,1719.5 343.9,1724.9 346.2,1737.5 348.5,1747.3 350.8,1758.7 353.1,1756.1 355.4,1750.1 357.7,1743.3 360.0,1747.3 362.3,1761.2 364.6,1773.1 366.9,1777.0 369.2,1781.8 371.5,1777.8 373.8,1768.2 376.1,1774.7 378.4,1779.3 380.7,1782.1 383.0,1779.2 385.3,1777.0 387.6,1781.2 389.9,1786.0 392.2,1792.7 394.5,1800.1 396.8,1809.8 399.1,1816.5 401.4,1821.1 403.7,1816.8 406.0,1805.2 408.3,1800.2 410.6,1798.3 412.9,1797.5 415.2,1800.3 417.5,1802.9 419.8,1800.1 422.1,1792.9 424.4,1786.4 426.7,1784.5 428.4,1781.7 430.1,1780.1 431.9,1777.0 433.6,1774.5 435.3,1773.4 437.0,1772.9 440.0,1770.3 440.3,1770.5 442.1,1770.2 443.8,1770.8 445.5,1769.1 447.2,1767.8 448.9,1767.2 450.7,1765.5 452.4,1764.5 454.1,1763.0 455.9,1764.0 457.6,1764.2 459.3,1765.5 461.0,1765.8 462.8,1765.3 464.5,1765.8 466.8,1751.4 468.6,1715.6 471.4,1687.3 473.7,1664.6 474.8,1628.0 476.0,1664.8 478.3,1673.1 480.6,1705.8 482.9,1734.0 485.2,1733.6 487.5,1729.2 489.8,1737.7 492.1,1744.9 494.4,1719.7 496.7,1687.7 499.0,1678.1 501.3,1659.8 503.6,1641.7 505.9,1616.6 508.2,1600.7 510.5,1597.7 512.3,1609.5 514.6,1604.7 516.9,1619.2 519.2,1630.1 521.5,1639.3 524.3,1648.9 526.6,1652.9 528.9,1648.0 530.7,1637.5 533.0,1643.9 535.3,1673.4 538.0,1694.8 540.3,1710.7 543.1,1726.8 546.1,1730.6 548.4,1724.7 550.7,1737.7 553.0,1756.6 555.3,1756.6 557.6,1746.7 559.9,1738.4 562.2,1733.8 564.5,1726.2 566.8,1733.2 569.1,1744.8 571.4,1756.4 573.7,1770.2 576.0,1779.1 579.0,1788.7 580.6,1791.3 582.2,1792.8 585.2,1792.8 586.9,1790.8 588.6,1788.2 590.4,1784.7 592.1,1782.0 593.8,1778.1 595.5,1775.4 597.2,1770.5 599.0,1765.2 600.7,1760.7 602.4,1756.5 604.1,1749.7 605.9,1743.1 608.2,1726.7 610.0,1707.7 610.5,1704.1 612.9,1708.5 615.2,1722.5 617.0,1725.2 618.7,1727.2 620.5,1724.8 622.2,1722.7 624.0,1714.2 625.7,1706.0 627.5,1702.0 629.2,1696.6 631.0,1707.3 632.7,1718.5 635.1,1745.6 637.4,1744.0 639.7,1727.2 642.1,1713.9 643.7,1704.1 645.6,1720.0 647.4,1728.1 649.1,1736.2 650.9,1741.7 652.6,1745.8 654.4,1736.6 656.1,1727.6 658.4,1715.4 660.8,1729.7 663.1,1746.3 664.9,1749.6 666.6,1753.1 668.4,1751.5 670.1,1750.6 671.9,1751.8 673.6,1753.5 675.4,1755.4 677.1,1758.0 678.9,1759.2 680.6,1759.7 683.0,1751.0 685.3,1723.1 687.6,1694.9 690.0,1680.1 692.3,1677.9 694.6,1689.7 697.0,1697.1 699.3,1684.6 701.7,1666.8 704.0,1655.3 706.3,1649.9 708.7,1665.9 711.0,1682.7 713.3,1694.0 715.7,1689.5 717.5,1688.3 719.2,1687.7 721.0,1686.5 722.7,1684.9 724.5,1685.7 726.2,1684.9 728.0,1686.3 729.7,1688.2 732.0,1689.5 734.4,1683.5 736.7,1657.6 739.1,1643.8 741.4,1647.7 743.7,1668.5 746.1,1680.8 748.4,1669.1 750.0,1673.1" fill="none" stroke="#008000" stroke-width="2.8" stroke-linejoin="round" stroke-linecap="round"/>
<polyline points="100.3,1749.9 102.6,1747.0 104.9,1744.7 107.2,1756.2 109.5,1765.8 111.8,1775.2 114.1,1777.8 116.4,1772.7 118.7,1772.0 121.0,1769.9 123.3,1763.9 125.6,1766.0 127.9,1774.3 130.2,1776.8 132.5,1765.3 134.8,1759.4 137.1,1758.7 139.4,1758.7 141.7,1763.1 144.0,1765.5 146.3,1768.2 148.6,1759.2 150.9,1755.6 153.2,1761.6 155.5,1765.6 157.8,1770.6 160.1,1777.2 162.4,1774.5 164.7,1740.2 167.0,1719.9 169.3,1715.7 171.6,1723.7 173.9,1735.7 176.2,1747.6 178.5,1754.6 180.8,1756.2 183.1,1758.9 185.4,1770.3 187.7,1784.4 189.3,1788.4 191.1,1779.7 193.4,1761.5 195.7,1738.4 198.0,1720.3 200.3,1704.2 202.6,1690.1 204.9,1682.5 207.2,1681.1 209.5,1678.4 211.8,1682.9 214.1,1692.6 216.4,1698.7 218.7,1700.8 221.0,1701.2 223.3,1713.1 225.6,1715.0 227.9,1701.4 230.2,1699.6 232.5,1704.0 234.8,1701.3 237.1,1700.9 239.4,1699.5 241.7,1703.3 244.0,1693.8 246.3,1683.5 248.6,1666.3 250.9,1641.9 253.2,1625.1 255.5,1619.1 257.8,1609.1 259.7,1605.0 262.0,1619.0 264.7,1637.1 267.0,1648.8 270.0,1657.5 270.3,1655.4 272.6,1668.7 274.9,1680.3 277.2,1689.4 279.5,1695.9 281.8,1694.6 284.1,1680.1 286.4,1676.2 288.7,1683.4 291.0,1673.7 293.3,1664.3 295.6,1657.9 297.9,1653.1 300.2,1650.2 302.5,1652.9 304.8,1648.3 307.1,1645.2 309.4,1646.2 311.7,1650.9 314.0,1652.9 316.3,1655.7 318.6,1657.4 320.9,1669.4 323.2,1683.5 325.5,1701.7 327.8,1724.6 330.1,1746.8 332.4,1749.9 334.7,1745.3 337.0,1747.1 339.3,1753.7 341.6,1747.4 343.9,1740.2 346.2,1733.0 348.5,1749.9 350.8,1765.5 353.1,1763.0 355.4,1753.8 357.7,1756.3 360.0,1763.9 362.3,1765.9 364.6,1775.2 366.9,1781.3 369.2,1777.0 371.5,1776.7 373.8,1786.6 376.1,1790.8 378.4,1793.8 380.7,1798.3 383.0,1788.7 385.3,1779.3 387.6,1774.5 389.9,1783.6 392.2,1790.7 394.5,1795.6 396.8,1802.8 399.1,1808.9 401.4,1819.1 403.7,1822.8 406.0,1820.8 408.3,1811.9 410.6,1809.9 412.9,1816.5 415.2,1806.9 417.5,1807.1 419.8,1802.1 422.1,1795.3 424.4,1788.9 426.7,1784.6 429.0,1788.3 431.3,1779.9 433.6,1772.4 435.9,1772.4 438.2,1774.6 440.0,1774.7 440.3,1773.0 442.6,1775.4 444.9,1772.5 447.2,1770.0 449.5,1768.1 451.8,1770.2 454.1,1772.6 456.4,1775.1 458.7,1779.8 461.0,1781.8 463.3,1782.4 465.6,1773.1 467.9,1747.5 470.2,1715.5 472.5,1693.8 474.8,1682.7 477.1,1681.2 479.4,1694.9 481.7,1714.8 484.0,1726.4 486.3,1724.5 488.6,1726.6 490.9,1729.1 493.2,1731.1 495.5,1720.2 497.8,1705.7 500.1,1690.0 502.4,1687.2 504.7,1677.9 507.0,1653.0 509.3,1627.3 511.6,1627.8 513.9,1634.3 516.2,1636.6 518.5,1641.3 520.8,1645.8 523.1,1653.0 525.4,1658.1 527.7,1655.5 530.0,1655.8 532.3,1657.4 534.6,1669.4 536.9,1685.8 539.2,1703.4 541.5,1720.1 543.8,1726.8 546.1,1730.7 548.4,1736.2 550.7,1749.3 553.0,1766.2 555.3,1777.2 557.6,1761.3 559.9,1745.4 562.2,1738.4 564.5,1742.5 566.8,1736.1 569.1,1745.4 571.4,1761.5 573.7,1767.9 576.0,1774.7 578.3,1788.7 580.6,1799.7 582.9,1809.2 585.2,1804.6 587.5,1803.1 589.8,1797.6 592.1,1793.1 594.4,1784.2 596.7,1777.1 599.0,1769.9 601.3,1763.0 603.6,1755.9 605.9,1747.7 608.2,1735.9 610.0,1726.9 611.7,1720.1 614.0,1718.0 616.4,1730.0 618.7,1734.7 621.0,1727.6 623.4,1720.3 625.7,1718.4 628.0,1718.0 630.4,1722.6 632.7,1732.4 635.1,1741.6 637.4,1739.2 639.7,1729.2 642.1,1731.8 644.4,1739.3 646.7,1750.6 649.1,1750.8 651.4,1754.7 653.8,1743.8 656.1,1732.5 658.4,1736.0 660.8,1745.4 663.1,1751.1 665.4,1758.2 667.8,1755.3 670.1,1759.8 672.4,1767.5 674.8,1774.5 677.1,1781.0 679.5,1776.5 681.8,1774.2 684.1,1760.2 686.5,1738.7 688.8,1717.6 691.1,1704.4 693.5,1696.5 695.8,1694.9 698.2,1692.1 700.5,1684.8 702.8,1676.4 705.2,1670.6 707.5,1675.4 709.8,1687.3 712.2,1697.0 714.5,1704.2 716.8,1701.2 719.2,1706.4 721.5,1715.1 723.9,1709.2 726.2,1703.4 728.5,1703.5 730.9,1701.7 733.2,1694.1 735.5,1684.6 737.9,1676.0 740.2,1668.7 742.6,1675.7 744.9,1685.1 747.2,1675.8 749.6,1664.6" fill="none" stroke="#ff0000" stroke-width="2.8" stroke-linejoin="round" stroke-linecap="round"/>
</g>
<rect x="69.1" y="1550.9" width="713.3" height="354.6999999999998" fill="none" stroke="#222" stroke-width="1.3"/>
<line x1="64.6" y1="1577.8" x2="69.1" y2="1577.8" stroke="#222" stroke-width="1.2"/>
<text x="59.49999999999999" y="1584.2" text-anchor="end" font-family="DejaVu Sans, Liberation Sans, sans-serif" font-size="16.6" fill="#111" stroke="#111" stroke-width="0.3">2.5</text>
<line x1="64.6" y1="1652.5" x2="69.1" y2="1652.5" stroke="#222" stroke-width="1.2"/>
<text x="59.49999999999999" y="1658.9" text-anchor="end" font-family="DejaVu Sans, Liberation Sans, sans-serif" font-size="16.6" fill="#111" stroke="#111" stroke-width="0.3">2.0</text>
<line x1="64.6" y1="1727.2" x2="69.1" y2="1727.2" stroke="#222" stroke-width="1.2"/>
<text x="59.49999999999999" y="1733.7" text-anchor="end" font-family="DejaVu Sans, Liberation Sans, sans-serif" font-size="16.6" fill="#111" stroke="#111" stroke-width="0.3">1.5</text>
<line x1="64.6" y1="1802.0" x2="69.1" y2="1802.0" stroke="#222" stroke-width="1.2"/>
<text x="59.49999999999999" y="1808.4" text-anchor="end" font-family="DejaVu Sans, Liberation Sans, sans-serif" font-size="16.6" fill="#111" stroke="#111" stroke-width="0.3">1.0</text>
<line x1="64.6" y1="1876.7" x2="69.1" y2="1876.7" stroke="#222" stroke-width="1.2"/>
<text x="59.49999999999999" y="1883.1" text-anchor="end" font-family="DejaVu Sans, Liberation Sans, sans-serif" font-size="16.6" fill="#111" stroke="#111" stroke-width="0.3">0.5</text>
<line x1="101.1" y1="1905.6" x2="101.1" y2="1910.1" stroke="#222" stroke-width="1.2"/>
<text x="101.1" y="1927.6" text-anchor="middle" font-family="DejaVu Sans, Liberation Sans, sans-serif" font-size="16.6" fill="#111" stroke="#111" stroke-width="0.3">0</text>
<line x1="232.9" y1="1905.6" x2="232.9" y2="1910.1" stroke="#222" stroke-width="1.2"/>
<text x="232.9" y="1927.6" text-anchor="middle" font-family="DejaVu Sans, Liberation Sans, sans-serif" font-size="16.6" fill="#111" stroke="#111" stroke-width="0.3">200</text>
<line x1="364.7" y1="1905.6" x2="364.7" y2="1910.1" stroke="#222" stroke-width="1.2"/>
<text x="364.7" y="1927.6" text-anchor="middle" font-family="DejaVu Sans, Liberation Sans, sans-serif" font-size="16.6" fill="#111" stroke="#111" stroke-width="0.3">400</text>
<line x1="496.5" y1="1905.6" x2="496.5" y2="1910.1" stroke="#222" stroke-width="1.2"/>
<text x="496.5" y="1927.6" text-anchor="middle" font-family="DejaVu Sans, Liberation Sans, sans-serif" font-size="16.6" fill="#111" stroke="#111" stroke-width="0.3">600</text>
<line x1="628.3" y1="1905.6" x2="628.3" y2="1910.1" stroke="#222" stroke-width="1.2"/>
<text x="628.3" y="1927.6" text-anchor="middle" font-family="DejaVu Sans, Liberation Sans, sans-serif" font-size="16.6" fill="#111" stroke="#111" stroke-width="0.3">800</text>
<line x1="760.1" y1="1905.6" x2="760.1" y2="1910.1" stroke="#222" stroke-width="1.2"/>
<text x="760.1" y="1927.6" text-anchor="middle" font-family="DejaVu Sans, Liberation Sans, sans-serif" font-size="16.6" fill="#111" stroke="#111" stroke-width="0.3">1000</text>
<text x="358.5" y="1949.3" font-family="DejaVu Sans, Liberation Sans, sans-serif" font-size="16.65" fill="#111" stroke="#111" stroke-width="0.3">Sample number</text>
<text transform="translate(24.6,1729.5) rotate(-90)" text-anchor="middle" font-family="DejaVu Sans, Liberation Sans, sans-serif" font-size="16.8" fill="#111" stroke="#111" stroke-width="0.3">Significant Wave Height(m)</text>
<rect x="661.7" y="1794.6" width="114.7" height="105.3" rx="3" fill="#fff" fill-opacity="0.8" stroke="#ccc" stroke-width="1"/>
<line x1="665.5" y1="1804.4" x2="689.8" y2="1804.4" stroke="#1f77b4" stroke-width="1.3"/>
<text x="698.5" y="1808.5" font-family="DejaVu Sans, Liberation Sans, sans-serif" font-size="11.4" fill="#111" stroke="#111" stroke-width="0.3">GRU</text>
<line x1="665.5" y1="1821.4" x2="689.8" y2="1821.4" stroke="#ff7f0e" stroke-width="1.3"/>
<text x="698.5" y="1825.5" font-family="DejaVu Sans, Liberation Sans, sans-serif" font-size="11.4" fill="#111" stroke="#111" stroke-width="0.3">LSTM</text>
<line x1="665.5" y1="1838.3" x2="689.8" y2="1838.3" stroke="#808080" stroke-width="1.3"/>
<text x="698.5" y="1842.4" font-family="DejaVu Sans, Liberation Sans, sans-serif" font-size="11.4" fill="#111" stroke="#111" stroke-width="0.3">RF</text>
<line x1="665.5" y1="1855.3" x2="689.8" y2="1855.3" stroke="#8a2be2" stroke-width="1.3"/>
<text x="698.5" y="1859.4" font-family="DejaVu Sans, Liberation Sans, sans-serif" font-size="11.4" fill="#111" stroke="#111" stroke-width="0.3">LR</text>
<line x1="665.5" y1="1872.2" x2="689.8" y2="1872.2" stroke="#008000" stroke-width="2.7"/>
<text x="698.5" y="1876.3" font-family="DejaVu Sans, Liberation Sans, sans-serif" font-size="11.4" fill="#111" stroke="#111" stroke-width="0.3">truth</text>
<line x1="665.5" y1="1889.2" x2="689.8" y2="1889.2" stroke="#ff0000" stroke-width="2.7"/>
<text x="698.5" y="1893.3" font-family="DejaVu Sans, Liberation Sans, sans-serif" font-size="11.4" fill="#111" stroke="#111" stroke-width="0.3">EEMD+LSTM</text>
<text transform="translate(372,1984.9) scale(1.054,1)" font-family="Liberation Serif, serif" font-size="39.4" fill="#111" stroke="#111" stroke-width="0.3">(d)</text>
<clipPath id="ce"><rect x="69.1" y="2064.0" width="713.3" height="353.0"/></clipPath>
<g clip-path="url(#ce)">
<polyline points="100.3,2247.4 102.6,2263.2 104.9,2269.2 107.2,2242.5 109.5,2254.3 111.8,2262.6 113.7,2198.9 115.3,2248.5 117.0,2257.8 118.7,2267.0 120.5,2263.6 122.2,2262.4 123.9,2267.4 125.6,2273.7 127.3,2268.4 129.1,2262.0 130.8,2261.3 132.5,2260.1 134.2,2264.5 136.0,2267.9 137.7,2267.3 139.4,2266.8 141.2,2262.4 142.9,2261.2 144.6,2257.9 146.3,2258.4 148.1,2259.0 149.8,2259.6 151.5,2261.3 153.2,2262.3 154.9,2264.7 156.7,2270.3 158.4,2258.5 160.1,2248.3 162.4,2239.7 164.7,2234.9 167.0,2245.0 169.3,2235.3 171.6,2220.8 173.9,2226.2 176.2,2246.9 178.5,2267.2 180.8,2299.8 183.1,2271.1 184.8,2265.7 186.6,2261.9 188.3,2262.2 190.0,2260.3 191.7,2256.9 193.4,2252.3 195.2,2252.5 196.9,2249.7 199.9,2234.8 202.6,2210.9 204.9,2194.0 207.7,2165.7 210.0,2161.7 213.0,2164.8 216.0,2175.1 218.7,2179.3 220.4,2179.0 222.2,2180.5 223.9,2172.8 225.6,2165.4 227.9,2180.0 230.7,2175.2 233.7,2162.3 235.4,2163.0 237.1,2165.1 239.9,2163.0 242.9,2166.1 244.6,2165.2 246.3,2166.5 248.1,2163.6 249.8,2164.0 251.5,2160.0 253.2,2156.0 255.5,2160.0 257.2,2165.2 259.0,2167.1 261.3,2166.5 263.0,2169.6 264.7,2172.2 266.4,2174.0 268.2,2175.1 270.0,2180.7 271.9,2177.8 273.8,2174.0 276.1,2174.3 278.4,2173.5 280.7,2170.4 283.0,2171.3 285.3,2168.6 287.6,2169.2 289.9,2168.8 292.2,2171.3 294.5,2168.7 296.8,2166.1 299.1,2167.7 301.4,2168.9 303.7,2170.1 306.0,2171.2 308.3,2170.7 310.6,2171.8 312.9,2172.5 315.2,2171.4 317.5,2173.2 319.8,2173.3 322.1,2173.0 324.4,2172.8 326.2,2168.8 327.8,2188.9 330.1,2209.5 331.7,2244.1 333.1,2280.3 334.7,2299.5 336.3,2278.8 338.2,2244.9 340.0,2225.1 342.3,2220.0 344.1,2204.0 345.5,2230.4 347.4,2244.7 349.2,2194.2 350.1,2184.0 351.5,2222.0 353.1,2258.2 355.4,2267.3 357.7,2268.7 359.4,2268.1 361.1,2268.0 362.9,2267.2 364.6,2268.1 366.3,2273.1 368.0,2277.2 369.8,2275.0 371.5,2275.1 373.2,2276.3 374.9,2279.4 376.6,2276.2 378.4,2275.1 380.1,2278.4 381.8,2279.0 383.6,2275.5 385.3,2271.4 387.0,2272.0 388.7,2272.1 390.4,2272.7 392.2,2271.0 393.9,2272.7 395.6,2274.4 397.4,2275.1 399.1,2276.5 401.4,2289.6 403.7,2299.0 405.4,2300.2 407.1,2302.0 409.4,2300.9 411.7,2300.2 414.0,2300.9 416.3,2302.4 418.6,2300.6 420.9,2300.7 423.2,2300.8 425.5,2301.5 427.2,2301.9 429.0,2300.6 429.7,2274.4 432.4,2271.7 434.1,2271.3 435.9,2271.5 437.9,2271.4 440.0,2271.6 441.9,2271.0 443.8,2269.8 446.1,2268.0 448.4,2267.6 450.7,2267.4 453.0,2269.2 455.3,2267.5 457.6,2270.2 459.9,2269.2 462.2,2267.3 464.5,2265.7 466.8,2262.8 469.1,2260.4 471.4,2259.3 473.1,2255.9 474.8,2253.3 477.1,2221.8 478.3,2291.2 480.1,2209.3 481.7,2130.1 482.9,2078.4 484.0,2201.3 485.2,2244.6 487.5,2299.9 490.2,2300.8 492.1,2248.1 494.4,2221.0 496.7,2238.6 498.5,2270.3 500.1,2220.0 502.4,2180.4 504.7,2164.0 507.7,2154.8 510.5,2158.2 513.2,2163.1 516.2,2167.8 518.5,2173.0 520.8,2174.5 523.8,2218.3 524.7,2174.8 527.7,2174.4 529.4,2172.3 531.1,2171.3 532.9,2167.6 534.6,2166.8 536.9,2157.0 539.2,2148.6 541.5,2188.6 543.8,2257.3 545.4,2298.3 547.7,2262.3 550.0,2258.7 552.3,2239.8 554.6,2221.9 556.0,2182.6 557.6,2233.0 559.2,2267.8 562.2,2252.0 563.9,2252.9 565.6,2253.8 568.6,2244.8 571.4,2195.8 573.0,2247.3 575.3,2254.8 578.3,2267.9 580.0,2271.4 581.7,2275.2 583.5,2274.4 585.2,2274.0 586.9,2271.6 588.6,2272.7 591.6,2272.6 592.8,2302.1 594.4,2275.6 596.1,2272.1 597.8,2268.3 599.5,2267.4 601.3,2266.6 603.0,2263.6 604.7,2261.4 606.5,2260.7 608.2,2258.8 610.0,2255.5 612.9,2239.9 615.2,2218.3 616.8,2177.6 618.7,2164.0 620.6,2195.2 622.2,2263.9 624.5,2253.9 627.6,2247.9 630.4,2219.8 632.7,2175.4 635.1,2159.5 637.4,2176.8 639.3,2266.8 641.6,2250.8 643.9,2194.6 644.9,2268.0 646.7,2269.9 649.1,2220.0 650.9,2167.9 652.8,2213.7 654.9,2299.7 657.3,2270.8 659.6,2247.6 662.6,2242.2 665.0,2208.7 666.6,2177.6 668.2,2223.5 670.1,2279.0 672.4,2252.9 675.3,2247.9 678.3,2261.6 680.6,2255.2 683.7,2261.9 686.5,2270.2 689.3,2250.5 692.3,2224.2 694.6,2191.1 697.0,2160.4 699.3,2162.5 701.7,2199.1 704.0,2223.2 706.3,2194.1 708.7,2163.6 711.0,2168.0 713.3,2200.6 715.7,2246.3 717.6,2277.0 719.7,2242.5 721.5,2224.1 723.9,2204.9 726.2,2182.6 729.0,2159.8 731.3,2180.6 733.7,2193.1 736.7,2172.8 739.1,2173.2 741.4,2153.8 743.7,2132.1 745.4,2152.9 747.2,2200.8 749.1,2298.5 750.0,2296.9" fill="none" stroke="#1f77b4" stroke-width="1.4" stroke-linejoin="round" stroke-linecap="round"/>
<polyline points="100.3,2247.2 102.6,2270.8 104.9,2273.0 107.2,2272.0 109.5,2289.9 111.8,2277.9 114.1,2257.4 116.4,2279.3 118.7,2296.4 121.0,2294.9 123.3,2302.7 125.6,2316.3 127.9,2284.6 129.5,2270.7 131.4,2295.0 133.1,2293.7 134.8,2292.7 136.6,2286.5 138.3,2282.8 140.6,2298.5 142.9,2284.7 145.2,2273.3 147.5,2289.8 150.2,2287.5 153.2,2277.0 156.2,2299.2 158.5,2266.9 161.3,2242.8 163.6,2225.9 165.9,2219.8 167.0,2388.5 168.6,2239.2 171.6,2221.1 174.6,2216.7 177.4,2243.9 180.1,2296.3 183.1,2291.1 184.8,2291.4 186.6,2291.6 188.3,2290.8 190.0,2291.1 191.7,2288.2 193.4,2286.9 195.2,2290.9 196.9,2292.2 199.2,2274.0 201.5,2251.0 203.8,2232.5 206.1,2212.0 208.4,2190.0 210.7,2177.6 213.0,2180.5 214.7,2184.3 216.4,2191.5 218.2,2199.3 219.9,2207.1 222.9,2197.3 225.6,2188.8 227.3,2188.2 229.1,2186.8 230.8,2191.7 232.5,2196.2 234.2,2193.6 236.0,2192.7 239.0,2196.3 241.7,2189.3 243.4,2181.8 245.2,2175.6 246.9,2167.0 248.6,2159.2 250.3,2147.4 252.1,2133.3 254.4,2113.4 256.7,2105.2 259.0,2108.0 261.3,2108.3 263.6,2114.1 265.9,2120.1 268.2,2132.5 270.0,2151.9 270.3,2179.8 272.6,2179.4 274.9,2177.7 277.2,2156.2 279.5,2122.6 281.8,2160.0 284.1,2179.4 286.4,2201.6 288.7,2178.9 291.0,2156.2 293.3,2143.3 295.6,2133.5 297.9,2128.2 300.2,2123.7 302.5,2138.2 304.1,2116.0 306.0,2153.2 308.3,2128.8 310.6,2124.3 313.3,2127.2 315.6,2135.5 317.9,2130.1 320.2,2147.3 322.5,2170.9 325.5,2125.0 326.7,2164.7 329.0,2201.5 331.3,2249.0 333.6,2270.7 335.9,2278.4 338.2,2267.0 340.5,2262.6 342.8,2252.0 345.1,2239.1 347.4,2248.4 349.7,2262.3 351.5,2284.7 354.3,2293.9 356.6,2288.8 358.9,2284.8 361.1,2275.6 363.4,2270.5 365.7,2276.0 368.0,2309.2 370.3,2314.0 372.6,2311.7 374.9,2312.9 377.2,2319.5 379.5,2302.3 381.8,2281.6 384.1,2317.4 386.4,2327.0 388.7,2325.4 391.5,2309.4 393.8,2312.9 396.1,2325.1 397.9,2323.1 400.2,2327.9 402.5,2341.6 404.8,2350.7 407.1,2355.2 409.4,2358.7 411.7,2350.9 414.0,2338.8 416.3,2335.9 418.6,2334.8 420.9,2332.8 423.2,2340.0 425.5,2336.8 427.8,2321.8 430.1,2310.7 432.4,2307.7 434.7,2311.0 437.0,2308.4 440.0,2306.8 441.9,2303.1 443.8,2302.4 445.5,2298.2 447.2,2296.7 448.9,2295.7 450.7,2297.3 452.4,2298.0 454.1,2299.3 455.9,2299.8 457.6,2298.4 459.4,2305.6 461.0,2279.5 463.3,2289.5 465.1,2291.1 466.8,2291.5 468.5,2292.5 470.2,2295.6 471.9,2294.7 473.7,2296.6 476.0,2239.1 477.1,2169.0 479.4,2197.3 481.7,2094.3 482.9,2401.3 484.5,2112.9 486.3,2243.0 489.3,2268.1 490.9,2282.8 493.2,2260.2 495.5,2259.3 498.3,2287.7 500.1,2256.5 502.4,2220.4 504.7,2197.8 507.0,2161.7 509.3,2147.7 511.6,2116.3 513.9,2107.0 516.2,2106.8 518.5,2113.9 520.8,2116.3 523.1,2123.6 525.4,2138.8 527.7,2147.5 530.7,2163.0 533.4,2158.9 536.4,2141.7 538.5,2107.1 540.3,2153.1 542.6,2188.0 544.9,2224.3 547.2,2247.6 549.5,2263.0 551.8,2256.6 554.1,2263.2 556.4,2273.9 558.7,2294.5 561.0,2296.3 563.3,2278.7 565.6,2272.7 567.9,2266.4 569.6,2275.0 571.4,2281.2 573.1,2285.4 574.8,2291.4 576.5,2295.6 578.3,2298.3 580.0,2303.4 581.7,2307.9 583.5,2312.6 585.2,2317.3 588.2,2329.2 590.5,2330.3 593.2,2326.7 595.5,2320.6 597.8,2311.8 600.1,2307.8 602.4,2301.7 604.7,2288.8 607.0,2277.8 610.0,2265.8 610.5,2264.9 612.9,2264.2 615.2,2237.3 617.5,2194.5 619.9,2213.7 622.2,2257.1 625.2,2246.6 628.0,2240.5 629.8,2237.2 631.5,2231.9 633.3,2220.5 635.1,2210.6 636.9,2227.7 638.6,2247.3 641.6,2347.4 643.2,2259.6 645.6,2278.1 647.9,2254.7 650.9,2238.5 653.3,2278.9 655.2,2303.8 658.0,2267.4 660.3,2261.1 663.1,2252.0 665.4,2238.1 667.8,2250.6 670.1,2290.1 671.9,2285.3 673.6,2280.1 675.4,2282.7 677.1,2283.5 678.9,2289.2 680.6,2294.6 683.7,2280.4 686.9,2301.2 690.0,2280.0 692.3,2260.2 694.6,2229.0 697.0,2206.1 699.3,2195.0 701.7,2203.9 704.0,2210.0 707.0,2191.3 709.8,2160.1 712.6,2124.3 715.0,2164.9 718.0,2222.8 721.1,2228.8 723.9,2218.9 725.6,2215.1 727.4,2210.0 730.4,2204.3 732.0,2201.4 733.7,2200.9 736.7,2203.9 739.8,2210.8 741.6,2182.2 743.0,2136.4 744.2,2100.0 746.1,2120.1 747.7,2154.3 749.1,2189.8 750.0,2206.6" fill="none" stroke="#ff7f0e" stroke-width="1.4" stroke-linejoin="round" stroke-linecap="round"/>
<polyline points="100.3,2253.0 102.6,2262.8 104.9,2266.6 106.7,2258.1 108.4,2250.9 110.1,2255.9 111.8,2259.9 113.7,2189.4 115.3,2238.9 117.6,2266.3 119.3,2271.5 121.0,2276.9 122.8,2274.8 124.5,2272.5 126.8,2293.5 129.1,2262.3 131.8,2244.4 134.1,2275.8 137.1,2241.1 139.4,2266.2 141.7,2270.4 144.0,2219.7 146.3,2260.6 147.0,2195.1 148.6,2260.6 150.9,2274.7 153.9,2231.4 156.7,2275.0 159.0,2187.9 161.3,2221.1 163.1,2185.4 164.7,2244.7 167.0,2300.8 170.0,2217.6 172.8,2209.0 175.5,2174.2 177.8,2207.7 180.1,2261.3 182.4,2272.5 185.4,2262.0 188.4,2235.7 191.1,2266.4 193.9,2256.5 196.2,2276.0 198.5,2263.1 201.5,2207.9 204.5,2180.4 207.2,2136.5 209.1,2179.1 211.8,2183.1 214.8,2198.4 217.8,2245.3 220.6,2210.5 223.3,2203.7 226.1,2188.3 229.1,2175.4 232.1,2191.5 234.8,2171.9 236.6,2198.4 238.3,2226.3 240.0,2204.6 241.7,2184.4 244.5,2222.4 247.5,2187.5 250.5,2201.3 252.1,2230.1 255.1,2163.7 257.4,2144.9 259.7,2123.8 262.4,2148.6 264.1,2164.5 265.9,2179.0 268.2,2167.8 270.0,2179.5 271.5,2187.7 274.3,2170.6 276.1,2201.4 277.5,2232.4 278.9,2187.8 280.7,2155.6 283.0,2175.8 285.3,2205.7 287.6,2243.5 289.9,2197.8 292.2,2169.3 294.5,2152.7 296.8,2162.9 299.1,2175.3 301.4,2239.1 303.7,2176.1 306.0,2157.8 308.3,2178.7 310.6,2157.6 312.9,2185.6 315.2,2174.5 317.5,2168.2 319.8,2174.2 322.1,2193.7 324.4,2198.6 326.7,2208.6 329.0,2234.2 331.7,2252.7 333.6,2262.5 336.3,2243.5 339.3,2256.8 341.6,2220.9 343.9,2234.9 346.9,2242.8 349.2,2233.4 351.5,2248.0 354.3,2260.7 356.6,2265.8 359.3,2232.0 361.1,2257.0 363.4,2261.9 366.2,2198.7 368.0,2243.0 370.3,2272.6 372.6,2285.9 374.9,2261.5 377.2,2294.2 379.5,2276.8 381.8,2266.2 384.1,2255.0 386.4,2273.5 388.7,2286.0 391.0,2260.1 393.3,2254.7 395.6,2267.5 397.9,2258.7 400.2,2285.0 402.5,2289.2 404.8,2318.2 407.1,2304.2 409.4,2308.5 411.7,2303.6 414.0,2302.1 416.3,2284.0 418.6,2303.8 420.9,2281.5 423.2,2300.8 425.5,2280.8 427.8,2272.6 430.1,2280.6 432.4,2265.4 434.7,2266.0 437.0,2263.7 440.0,2265.9 440.3,2256.9 442.6,2244.6 444.9,2256.3 446.6,2232.4 448.4,2258.1 450.7,2240.3 453.0,2237.6 455.3,2251.3 457.6,2259.1 459.9,2243.3 462.2,2236.0 464.5,2256.3 466.8,2245.0 469.1,2235.6 471.4,2256.1 473.7,2259.0 476.0,2248.5 478.3,2220.3 480.6,2206.9 482.9,2192.5 485.2,2198.8 487.5,2194.3 489.8,2244.1 492.1,2254.6 494.4,2251.3 496.7,2263.4 499.0,2255.6 501.3,2226.2 503.6,2198.8 505.9,2162.9 508.2,2151.7 510.5,2157.0 512.8,2167.2 515.1,2158.5 516.9,2197.2 519.2,2243.4 521.5,2197.3 523.8,2130.1 526.1,2173.8 528.4,2191.3 530.7,2209.3 533.0,2233.0 535.7,2201.7 538.0,2174.6 540.3,2189.1 542.6,2221.2 544.9,2239.4 547.2,2249.1 549.5,2244.4 551.8,2257.8 554.1,2244.3 556.4,2267.2 558.7,2255.7 561.0,2262.9 563.3,2244.1 565.6,2248.5 567.9,2251.5 569.6,2255.9 571.4,2261.3 573.7,2238.2 575.4,2245.9 577.1,2252.5 579.4,2267.5 581.7,2279.0 584.0,2291.9 586.3,2267.6 588.6,2271.5 590.9,2266.5 593.7,2276.5 596.7,2268.0 598.4,2261.8 600.1,2255.8 601.9,2252.7 603.6,2248.7 605.3,2244.8 607.0,2240.9 610.0,2239.1 612.9,2246.2 615.9,2229.0 618.7,2182.9 621.0,2223.6 623.4,2233.4 626.2,2228.1 629.2,2227.9 632.3,2204.9 635.1,2162.8 637.4,2160.1 639.3,2223.1 641.6,2254.8 644.4,2265.4 647.2,2241.3 649.5,2205.7 651.4,2223.2 654.2,2246.9 657.3,2232.2 660.3,2252.3 663.1,2255.2 664.9,2242.7 666.6,2228.6 668.9,2252.5 671.3,2270.1 674.3,2246.3 677.1,2230.4 679.9,2238.2 682.3,2251.9 684.6,2263.7 687.6,2274.0 690.0,2247.6 693.0,2204.7 695.8,2175.9 698.2,2190.0 701.0,2153.4 704.0,2246.2 706.3,2213.3 708.7,2190.7 711.0,2163.1 712.9,2133.5 715.0,2158.0 717.3,2227.8 719.7,2242.7 721.5,2232.0 724.3,2212.5 727.4,2191.8 729.9,2176.7 732.0,2167.6 734.4,2192.0 736.7,2188.7 739.1,2191.1 741.4,2166.6 743.7,2129.1 745.4,2144.4 747.2,2170.6 748.6,2241.4 750.0,2237.0" fill="none" stroke="#808080" stroke-width="1.4" stroke-linejoin="round" stroke-linecap="round"/>
<polyline points="100.3,2228.4 102.6,2242.1 104.9,2252.2 106.7,2256.1 108.4,2260.1 110.1,2256.9 111.8,2254.1 114.1,2247.3 116.4,2252.7 118.7,2260.7 120.5,2263.3 122.2,2266.2 123.9,2268.1 125.6,2270.9 127.3,2269.8 129.1,2265.9 130.8,2264.4 132.5,2261.8 134.2,2261.5 136.0,2261.2 137.7,2260.4 139.4,2260.1 141.2,2259.1 142.9,2257.0 144.6,2254.8 146.3,2252.0 148.1,2254.3 149.8,2254.4 151.5,2257.1 153.2,2259.0 154.9,2261.8 156.7,2262.2 158.4,2259.3 160.1,2257.4 161.8,2255.1 163.6,2252.8 165.3,2261.4 167.0,2272.6 168.6,2292.3 170.5,2256.9 172.8,2224.8 175.1,2222.0 177.4,2235.6 180.1,2257.0 183.1,2262.0 184.8,2261.1 186.6,2263.2 188.3,2261.7 190.0,2261.4 191.7,2262.5 193.4,2262.4 195.2,2262.5 196.9,2261.9 199.9,2255.1 202.6,2238.0 205.4,2225.3 208.4,2207.4 210.1,2203.2 211.8,2197.3 213.6,2199.6 215.3,2201.5 217.0,2204.3 218.7,2207.5 220.4,2210.5 222.2,2212.1 223.9,2213.2 225.6,2216.0 227.3,2216.9 229.1,2218.3 230.8,2217.7 232.5,2215.2 234.2,2213.0 236.0,2211.6 237.7,2210.8 239.4,2212.7 241.2,2209.8 242.9,2209.2 244.6,2208.2 246.3,2208.7 248.1,2209.5 249.8,2209.4 252.8,2199.0 255.5,2166.4 257.8,2159.9 260.1,2154.5 262.9,2142.9 264.7,2138.9 267.0,2151.5 270.0,2165.8 272.6,2178.7 274.4,2183.9 276.1,2187.6 277.8,2192.1 279.5,2194.0 281.2,2197.3 283.0,2199.5 284.7,2204.1 286.4,2207.2 288.1,2204.0 289.9,2203.6 291.6,2199.3 293.3,2194.7 295.1,2193.2 296.8,2190.7 298.5,2190.1 300.2,2187.7 301.9,2186.7 303.7,2187.3 305.4,2185.5 307.1,2183.8 308.9,2182.0 310.6,2181.1 312.9,2178.9 315.2,2176.4 317.5,2177.6 319.8,2178.3 322.1,2182.8 324.4,2183.0 326.1,2191.9 327.8,2197.8 329.6,2210.5 331.3,2220.3 333.6,2238.9 335.3,2241.7 337.0,2244.8 338.8,2243.1 340.5,2242.3 342.2,2242.2 343.9,2243.7 345.6,2243.2 347.4,2240.6 349.1,2237.5 350.8,2234.0 353.1,2238.5 355.4,2253.8 358.4,2258.1 361.1,2261.6 363.9,2260.0 366.2,2248.7 368.5,2263.4 370.8,2271.1 373.8,2276.2 375.5,2277.7 377.2,2277.8 378.9,2274.4 380.7,2271.3 382.4,2272.2 384.1,2272.3 385.9,2275.0 387.6,2277.6 389.3,2279.7 391.0,2280.0 392.8,2277.0 394.5,2273.1 396.2,2275.1 397.9,2279.5 399.6,2282.1 401.4,2286.9 403.7,2297.4 405.4,2298.6 407.1,2299.5 408.9,2296.5 410.6,2295.2 412.3,2294.3 414.0,2291.0 415.8,2290.4 417.5,2288.9 419.2,2288.9 420.9,2286.6 422.6,2286.3 424.4,2284.5 426.1,2285.3 427.8,2286.3 429.6,2282.4 431.3,2278.4 433.0,2275.2 434.7,2273.1 436.5,2273.4 438.2,2272.7 440.0,2274.5 441.9,2269.5 443.8,2267.2 446.1,2265.6 448.4,2266.8 450.7,2267.0 453.0,2267.0 455.3,2268.2 457.6,2271.7 459.9,2270.8 462.2,2268.8 464.5,2268.0 466.8,2265.0 469.1,2264.5 471.4,2262.9 473.1,2258.9 474.8,2258.1 476.6,2247.5 478.3,2240.5 481.0,2198.2 482.9,2161.5 484.7,2198.3 486.3,2226.4 489.3,2243.0 492.5,2244.3 495.5,2244.2 498.5,2249.3 501.3,2240.1 503.6,2221.4 505.9,2202.7 508.6,2189.7 510.9,2161.8 513.2,2156.1 516.2,2161.0 518.0,2163.9 519.7,2166.5 522.4,2155.5 524.7,2163.1 527.7,2174.1 529.4,2179.9 531.1,2183.8 533.9,2191.0 536.2,2192.7 538.5,2189.8 541.5,2192.7 544.5,2220.3 547.2,2238.6 550.0,2244.4 553.0,2246.9 556.0,2249.0 558.7,2250.5 560.5,2250.5 562.2,2250.8 563.9,2251.2 565.6,2250.1 568.6,2246.2 571.4,2244.4 574.4,2257.2 577.1,2266.3 578.9,2268.6 580.6,2270.1 583.6,2274.3 586.8,2279.4 589.8,2283.0 591.5,2281.0 593.2,2281.0 595.0,2277.3 596.7,2275.8 598.4,2274.5 600.1,2271.2 601.9,2269.1 603.6,2263.6 605.3,2260.5 607.0,2257.3 610.0,2252.8 612.9,2248.2 614.6,2243.0 616.4,2238.0 618.1,2229.9 619.9,2223.5 622.2,2236.5 625.2,2237.1 628.0,2238.0 629.8,2235.2 631.5,2229.8 633.3,2223.7 635.1,2218.8 637.4,2233.8 640.2,2243.5 643.2,2252.4 646.3,2247.1 649.1,2233.8 651.9,2218.5 654.2,2236.5 657.3,2247.0 660.3,2251.5 662.0,2247.9 663.6,2244.8 666.6,2231.5 669.6,2252.6 672.4,2255.8 674.2,2258.1 676.0,2259.2 677.8,2256.9 679.5,2255.2 681.2,2256.9 683.0,2259.4 684.8,2261.6 686.5,2266.4 688.2,2263.4 690.0,2260.0 693.0,2243.3 695.8,2224.0 698.2,2205.5 701.0,2209.6 702.9,2215.1 704.7,2221.2 707.5,2217.6 709.2,2207.6 711.0,2201.3 713.3,2190.6 715.7,2208.7 718.0,2220.7 719.8,2221.5 721.5,2223.9 723.2,2223.1 725.0,2223.0 726.8,2220.4 728.5,2216.2 730.2,2214.5 732.0,2213.3 733.8,2213.7 735.5,2215.0 737.3,2216.3 739.1,2217.7 741.4,2208.4 743.7,2182.9 745.4,2181.7 747.2,2194.2 750.0,2210.5" fill="none" stroke="#8a2be2" stroke-width="1.4" stroke-linejoin="round" stroke-linecap="round"/>
<polyline points="100.3,2255.4 102.6,2250.2 104.9,2252.7 107.2,2260.6 109.5,2264.7 111.8,2271.6 114.1,2281.1 116.4,2280.9 118.7,2262.2 120.5,2264.8 122.2,2267.3 123.9,2267.9 125.6,2268.8 127.9,2266.5 130.2,2260.0 132.5,2256.0 134.8,2259.5 137.1,2262.5 139.4,2262.9 141.7,2267.1 144.0,2269.3 146.3,2267.1 148.6,2260.4 150.9,2253.1 153.2,2253.2 154.8,2266.8 156.7,2291.7 158.5,2276.0 160.8,2248.7 163.1,2220.7 164.7,2218.3 167.0,2226.0 169.3,2239.9 171.6,2258.3 173.9,2266.7 176.2,2269.0 178.5,2270.1 180.8,2269.3 183.1,2269.2 185.4,2266.7 187.7,2258.0 190.0,2243.5 192.3,2227.5 194.6,2216.3 196.9,2202.7 199.2,2193.1 201.5,2192.0 203.8,2198.2 206.1,2199.8 208.4,2202.0 210.7,2204.8 213.0,2207.5 215.3,2209.1 217.6,2211.6 219.9,2209.0 222.2,2204.8 224.5,2200.5 226.8,2197.5 229.1,2198.4 230.8,2198.0 232.5,2197.6 234.2,2197.0 236.0,2195.1 237.7,2191.8 239.4,2189.1 241.2,2178.8 242.9,2168.1 245.2,2149.2 247.5,2133.7 249.8,2117.4 252.1,2110.6 254.4,2113.2 256.7,2128.9 259.0,2151.5 261.3,2166.2 263.6,2172.7 265.9,2172.8 268.2,2167.9 270.0,2165.5 270.3,2168.6 272.6,2175.3 274.9,2193.2 277.2,2193.6 279.5,2191.6 281.8,2183.7 284.1,2177.2 286.4,2174.7 288.7,2172.4 291.0,2168.4 293.3,2161.3 295.6,2163.7 297.9,2160.9 300.2,2159.5 302.5,2158.7 304.8,2156.6 307.1,2157.1 309.4,2161.4 311.7,2170.0 314.0,2174.7 316.3,2184.0 318.6,2195.3 320.9,2206.8 323.2,2233.0 325.5,2248.0 327.8,2253.6 330.1,2244.5 332.4,2241.7 334.7,2246.7 337.0,2239.0 339.3,2234.3 341.6,2241.6 343.9,2257.9 346.2,2262.4 348.5,2264.9 350.8,2266.5 353.1,2258.2 355.4,2255.3 357.7,2267.4 360.0,2276.1 362.3,2282.8 364.6,2285.2 366.9,2288.0 369.2,2287.7 371.5,2290.4 373.8,2292.0 376.1,2292.5 378.4,2290.5 380.7,2287.2 383.0,2289.9 385.3,2287.4 387.6,2295.1 389.9,2301.8 392.2,2308.0 394.5,2315.0 396.8,2319.5 399.1,2317.6 401.4,2310.2 403.7,2303.3 406.0,2301.6 408.3,2303.9 410.6,2305.9 412.9,2303.2 415.2,2299.7 417.5,2292.3 419.8,2287.5 422.1,2287.4 424.4,2285.4 426.7,2282.6 429.0,2281.2 431.3,2278.4 433.6,2275.8 435.9,2276.2 438.2,2276.4 440.0,2276.5 440.3,2275.7 442.6,2277.5 444.9,2274.9 447.2,2275.0 449.5,2273.9 451.8,2271.0 454.1,2269.1 456.4,2270.4 458.7,2272.1 461.0,2271.8 463.3,2262.5 465.6,2234.9 467.9,2209.4 469.5,2189.1 470.9,2152.7 472.5,2188.6 474.8,2195.8 477.1,2216.3 479.4,2239.4 481.7,2244.3 484.0,2241.9 486.3,2246.3 488.6,2253.0 490.9,2234.8 493.2,2202.1 495.5,2190.8 497.8,2175.5 500.1,2157.0 502.4,2142.9 504.7,2133.4 507.0,2126.6 509.3,2131.6 511.6,2133.2 513.9,2144.8 516.2,2154.3 518.5,2162.9 520.8,2170.5 523.1,2174.7 525.4,2167.6 527.7,2156.4 530.0,2165.5 532.3,2184.1 534.6,2202.2 536.9,2220.3 539.2,2235.1 541.5,2244.2 543.8,2246.5 546.1,2251.2 548.4,2257.3 550.7,2262.8 553.0,2259.9 555.3,2253.6 557.6,2246.3 559.9,2242.0 562.2,2244.4 564.5,2257.4 566.8,2267.0 569.1,2276.4 571.4,2282.9 573.7,2289.8 576.0,2294.0 578.3,2297.3 580.6,2296.6 582.9,2292.7 585.2,2285.6 587.5,2281.3 589.8,2276.6 592.1,2271.1 594.4,2266.5 596.7,2262.5 599.0,2258.0 601.3,2252.8 603.6,2243.4 605.9,2235.1 608.2,2220.9 610.0,2213.7 610.5,2230.1 612.2,2234.1 614.0,2237.9 615.8,2238.2 617.5,2238.1 619.2,2230.0 621.0,2223.6 623.4,2214.4 625.7,2211.9 628.0,2223.2 630.4,2253.6 632.7,2251.3 635.1,2247.0 637.4,2242.1 639.7,2219.3 642.1,2232.9 644.4,2258.4 646.7,2261.3 649.1,2251.8 651.4,2242.4 653.1,2236.1 654.9,2230.8 657.3,2240.3 659.6,2259.1 661.9,2258.3 664.3,2261.6 666.6,2263.5 668.9,2261.5 671.3,2262.9 673.6,2267.7 676.0,2270.7 678.3,2265.5 680.6,2255.8 683.0,2238.0 685.3,2214.8 687.6,2197.8 690.0,2200.6 692.3,2209.6 694.6,2211.5 697.0,2200.5 699.3,2181.1 701.7,2174.3 704.0,2186.7 706.3,2200.0 708.7,2209.5 711.0,2213.7 713.3,2214.1 715.7,2213.7 718.0,2209.9 720.4,2205.4 722.7,2205.0 725.0,2200.6 727.4,2190.5 729.7,2183.7 732.0,2169.7 734.4,2165.2 736.7,2181.6 739.1,2195.0 741.4,2200.8 743.7,2192.9 746.1,2190.5 748.4,2181.9 750.0,2174.8" fill="none" stroke="#008000" stroke-width="2.8" stroke-linejoin="round" stroke-linecap="round"/>
<polyline points="100.3,2254.0 102.6,2254.8 104.9,2257.8 107.2,2262.5 109.5,2267.2 111.8,2269.0 114.1,2266.7 116.4,2268.3 118.7,2266.8 121.0,2264.8 123.3,2262.6 125.6,2266.3 127.9,2260.6 130.2,2255.6 132.5,2258.1 134.8,2257.2 137.1,2257.4 139.4,2261.1 141.7,2259.7 144.0,2256.5 146.3,2255.9 148.6,2258.1 150.9,2259.8 153.2,2261.8 155.5,2267.2 157.8,2271.9 160.1,2262.4 162.4,2241.4 164.7,2228.3 167.0,2228.0 169.3,2220.9 171.6,2218.7 173.9,2225.2 176.2,2241.2 178.5,2261.9 180.8,2274.1 183.1,2278.5 185.4,2283.5 187.7,2283.7 190.0,2271.6 192.3,2253.5 194.6,2234.3 196.9,2213.5 199.2,2192.8 201.5,2174.3 203.8,2161.7 206.1,2157.1 208.4,2159.2 210.7,2174.3 213.0,2189.0 215.3,2197.7 217.6,2207.0 219.9,2211.7 222.2,2211.5 224.5,2204.4 226.8,2193.1 229.1,2190.9 231.4,2192.3 233.7,2193.3 236.0,2192.8 238.3,2195.0 240.6,2196.0 242.9,2180.0 245.2,2160.7 247.5,2136.2 249.8,2110.7 252.1,2092.4 254.4,2080.7 256.7,2083.1 259.0,2085.0 261.3,2084.4 263.6,2087.7 265.9,2094.9 268.2,2106.3 270.0,2117.7 270.3,2147.7 272.6,2166.1 274.9,2177.6 277.2,2182.6 279.5,2182.3 281.8,2174.4 284.1,2172.7 286.4,2170.6 288.7,2161.1 291.0,2148.0 293.3,2135.7 295.6,2128.8 297.9,2126.2 300.2,2124.1 302.5,2120.6 304.8,2120.0 307.1,2119.5 309.4,2119.2 311.7,2117.6 314.0,2117.8 316.3,2120.0 318.6,2131.2 320.2,2151.8 322.1,2179.3 324.4,2211.3 326.7,2239.5 329.0,2255.9 331.3,2257.8 333.6,2255.2 335.9,2250.8 338.2,2242.0 340.5,2232.8 342.8,2228.2 345.1,2234.8 347.4,2249.1 349.7,2257.6 352.0,2262.2 354.3,2262.7 356.6,2262.8 358.9,2262.5 361.1,2266.5 363.4,2268.8 365.7,2271.7 368.0,2275.5 370.3,2277.9 372.6,2280.6 374.9,2280.3 377.2,2284.9 379.5,2282.9 381.8,2266.7 384.1,2262.7 386.4,2265.1 388.7,2271.3 391.0,2276.1 393.3,2282.6 395.6,2289.5 397.9,2297.0 400.2,2303.9 402.5,2306.2 404.8,2298.9 407.1,2287.8 409.4,2278.0 411.7,2273.9 414.0,2271.4 416.3,2271.7 418.6,2269.3 420.9,2269.3 423.2,2266.3 425.5,2264.8 427.8,2262.1 430.1,2257.5 432.4,2255.6 434.7,2257.8 437.0,2260.0 440.0,2262.1 440.3,2260.3 442.6,2262.8 444.9,2260.8 447.2,2260.4 449.5,2263.0 451.8,2266.2 454.1,2267.3 456.4,2271.5 458.7,2275.4 461.0,2273.3 463.3,2266.5 465.6,2244.2 467.9,2215.8 470.2,2197.4 472.5,2184.5 474.8,2175.2 477.1,2173.0 479.4,2182.3 481.7,2198.3 484.0,2216.5 486.3,2234.5 488.6,2244.4 490.9,2245.9 493.2,2239.4 495.5,2230.2 497.8,2209.2 500.1,2182.4 502.4,2149.1 504.7,2124.1 507.0,2110.2 509.3,2105.8 511.6,2103.4 513.9,2097.3 516.2,2095.3 518.5,2101.7 520.8,2106.5 523.1,2110.2 525.4,2117.2 527.7,2122.5 530.0,2128.8 532.3,2140.6 534.6,2156.6 536.9,2179.9 539.2,2205.2 541.5,2227.8 543.8,2244.3 546.1,2255.3 548.4,2262.8 550.7,2266.9 553.0,2268.9 555.3,2261.9 557.6,2253.7 559.9,2243.3 562.2,2239.3 564.5,2237.5 566.8,2237.1 569.1,2241.1 571.4,2253.4 573.7,2266.9 576.0,2280.9 578.3,2291.9 580.6,2301.9 582.9,2296.4 585.2,2287.1 587.5,2278.2 589.8,2271.2 592.1,2264.1 594.4,2257.6 596.7,2252.7 599.0,2250.5 601.3,2245.6 603.6,2239.6 605.9,2227.9 608.2,2218.2 610.0,2212.3 611.7,2212.1 614.0,2221.7 616.4,2226.2 618.7,2228.8 621.0,2228.2 623.4,2225.8 625.7,2223.2 628.0,2223.6 630.4,2228.2 632.7,2233.5 635.1,2235.7 637.4,2237.3 639.7,2240.0 642.1,2242.3 644.4,2248.8 646.7,2253.8 649.1,2247.4 651.4,2239.4 653.8,2235.0 656.1,2237.2 658.4,2240.4 660.8,2244.1 663.1,2249.2 665.4,2251.9 667.8,2258.8 670.1,2265.2 672.4,2270.8 674.8,2274.9 677.1,2272.9 679.5,2270.2 681.8,2258.5 684.1,2235.3 686.5,2214.6 688.8,2197.7 691.1,2188.1 693.5,2184.3 695.8,2178.7 698.2,2174.2 700.5,2171.8 702.8,2172.3 705.2,2174.5 707.5,2179.6 709.8,2183.5 712.2,2191.2 714.5,2203.1 716.8,2214.7 719.2,2221.8 721.5,2216.1 723.9,2209.4 726.2,2202.6 728.5,2194.9 730.9,2186.6 733.2,2179.7 735.5,2169.5 737.9,2165.0 740.2,2163.3 742.6,2162.5 744.9,2156.0 747.2,2162.8 749.6,2169.7" fill="none" stroke="#ff0000" stroke-width="2.8" stroke-linejoin="round" stroke-linecap="round"/>
</g>
<rect x="69.1" y="2064.0" width="713.3" height="353.0" fill="none" stroke="#222" stroke-width="1.3"/>
<line x1="64.6" y1="2109.3" x2="69.1" y2="2109.3" stroke="#222" stroke-width="1.2"/>
<text x="59.49999999999999" y="2115.7" text-anchor="end" font-family="DejaVu Sans, Liberation Sans, sans-serif" font-size="16.6" fill="#111" stroke="#111" stroke-width="0.3">2.5</text>
<line x1="64.6" y1="2174.5" x2="69.1" y2="2174.5" stroke="#222" stroke-width="1.2"/>
<text x="59.49999999999999" y="2180.9" text-anchor="end" font-family="DejaVu Sans, Liberation Sans, sans-serif" font-size="16.6" fill="#111" stroke="#111" stroke-width="0.3">2.0</text>
<line x1="64.6" y1="2239.7" x2="69.1" y2="2239.7" stroke="#222" stroke-width="1.2"/>
<text x="59.49999999999999" y="2246.1" text-anchor="end" font-family="DejaVu Sans, Liberation Sans, sans-serif" font-size="16.6" fill="#111" stroke="#111" stroke-width="0.3">1.5</text>
<line x1="64.6" y1="2304.8" x2="69.1" y2="2304.8" stroke="#222" stroke-width="1.2"/>
<text x="59.49999999999999" y="2311.2" text-anchor="end" font-family="DejaVu Sans, Liberation Sans, sans-serif" font-size="16.6" fill="#111" stroke="#111" stroke-width="0.3">1.0</text>
<line x1="64.6" y1="2370.0" x2="69.1" y2="2370.0" stroke="#222" stroke-width="1.2"/>
<text x="59.49999999999999" y="2376.4" text-anchor="end" font-family="DejaVu Sans, Liberation Sans, sans-serif" font-size="16.6" fill="#111" stroke="#111" stroke-width="0.3">0.5</text>
<line x1="101.1" y1="2417.0" x2="101.1" y2="2421.5" stroke="#222" stroke-width="1.2"/>
<text x="101.1" y="2439.0" text-anchor="middle" font-family="DejaVu Sans, Liberation Sans, sans-serif" font-size="16.6" fill="#111" stroke="#111" stroke-width="0.3">0</text>
<line x1="232.9" y1="2417.0" x2="232.9" y2="2421.5" stroke="#222" stroke-width="1.2"/>
<text x="232.9" y="2439.0" text-anchor="middle" font-family="DejaVu Sans, Liberation Sans, sans-serif" font-size="16.6" fill="#111" stroke="#111" stroke-width="0.3">200</text>
<line x1="364.7" y1="2417.0" x2="364.7" y2="2421.5" stroke="#222" stroke-width="1.2"/>
<text x="364.7" y="2439.0" text-anchor="middle" font-family="DejaVu Sans, Liberation Sans, sans-serif" font-size="16.6" fill="#111" stroke="#111" stroke-width="0.3">400</text>
<line x1="496.5" y1="2417.0" x2="496.5" y2="2421.5" stroke="#222" stroke-width="1.2"/>
<text x="496.5" y="2439.0" text-anchor="middle" font-family="DejaVu Sans, Liberation Sans, sans-serif" font-size="16.6" fill="#111" stroke="#111" stroke-width="0.3">600</text>
<line x1="628.3" y1="2417.0" x2="628.3" y2="2421.5" stroke="#222" stroke-width="1.2"/>
<text x="628.3" y="2439.0" text-anchor="middle" font-family="DejaVu Sans, Liberation Sans, sans-serif" font-size="16.6" fill="#111" stroke="#111" stroke-width="0.3">800</text>
<line x1="760.1" y1="2417.0" x2="760.1" y2="2421.5" stroke="#222" stroke-width="1.2"/>
<text x="760.1" y="2439.0" text-anchor="middle" font-family="DejaVu Sans, Liberation Sans, sans-serif" font-size="16.6" fill="#111" stroke="#111" stroke-width="0.3">1000</text>
<text x="358.5" y="2460.7" font-family="DejaVu Sans, Liberation Sans, sans-serif" font-size="16.65" fill="#111" stroke="#111" stroke-width="0.3">Sample number</text>
<text transform="translate(24.6,2241.8) rotate(-90)" text-anchor="middle" font-family="DejaVu Sans, Liberation Sans, sans-serif" font-size="16.8" fill="#111" stroke="#111" stroke-width="0.3">Significant Wave Height(m)</text>
<rect x="661.7" y="2305.9" width="114.7" height="105.3" rx="3" fill="#fff" fill-opacity="0.8" stroke="#ccc" stroke-width="1"/>
<line x1="665.5" y1="2315.7" x2="689.8" y2="2315.7" stroke="#1f77b4" stroke-width="1.3"/>
<text x="698.5" y="2319.8" font-family="DejaVu Sans, Liberation Sans, sans-serif" font-size="11.4" fill="#111" stroke="#111" stroke-width="0.3">GRU</text>
<line x1="665.5" y1="2332.7" x2="689.8" y2="2332.7" stroke="#ff7f0e" stroke-width="1.3"/>
<text x="698.5" y="2336.8" font-family="DejaVu Sans, Liberation Sans, sans-serif" font-size="11.4" fill="#111" stroke="#111" stroke-width="0.3">LSTM</text>
<line x1="665.5" y1="2349.6" x2="689.8" y2="2349.6" stroke="#808080" stroke-width="1.3"/>
<text x="698.5" y="2353.7" font-family="DejaVu Sans, Liberation Sans, sans-serif" font-size="11.4" fill="#111" stroke="#111" stroke-width="0.3">RF</text>
<line x1="665.5" y1="2366.6" x2="689.8" y2="2366.6" stroke="#8a2be2" stroke-width="1.3"/>
<text x="698.5" y="2370.7" font-family="DejaVu Sans, Liberation Sans, sans-serif" font-size="11.4" fill="#111" stroke="#111" stroke-width="0.3">LR</text>
<line x1="665.5" y1="2383.5" x2="689.8" y2="2383.5" stroke="#008000" stroke-width="2.7"/>
<text x="698.5" y="2387.6" font-family="DejaVu Sans, Liberation Sans, sans-serif" font-size="11.4" fill="#111" stroke="#111" stroke-width="0.3">truth</text>
<line x1="665.5" y1="2400.5" x2="689.8" y2="2400.5" stroke="#ff0000" stroke-width="2.7"/>
<text x="698.5" y="2404.6" font-family="DejaVu Sans, Liberation Sans, sans-serif" font-size="11.4" fill="#111" stroke="#111" stroke-width="0.3">EEMD+LSTM</text>
<text transform="translate(372,2492.3) scale(1,1)" font-family="Liberation Serif, serif" font-size="37" fill="#111" stroke="#111" stroke-width="0.3">(e)</text>
</svg></body></html>
